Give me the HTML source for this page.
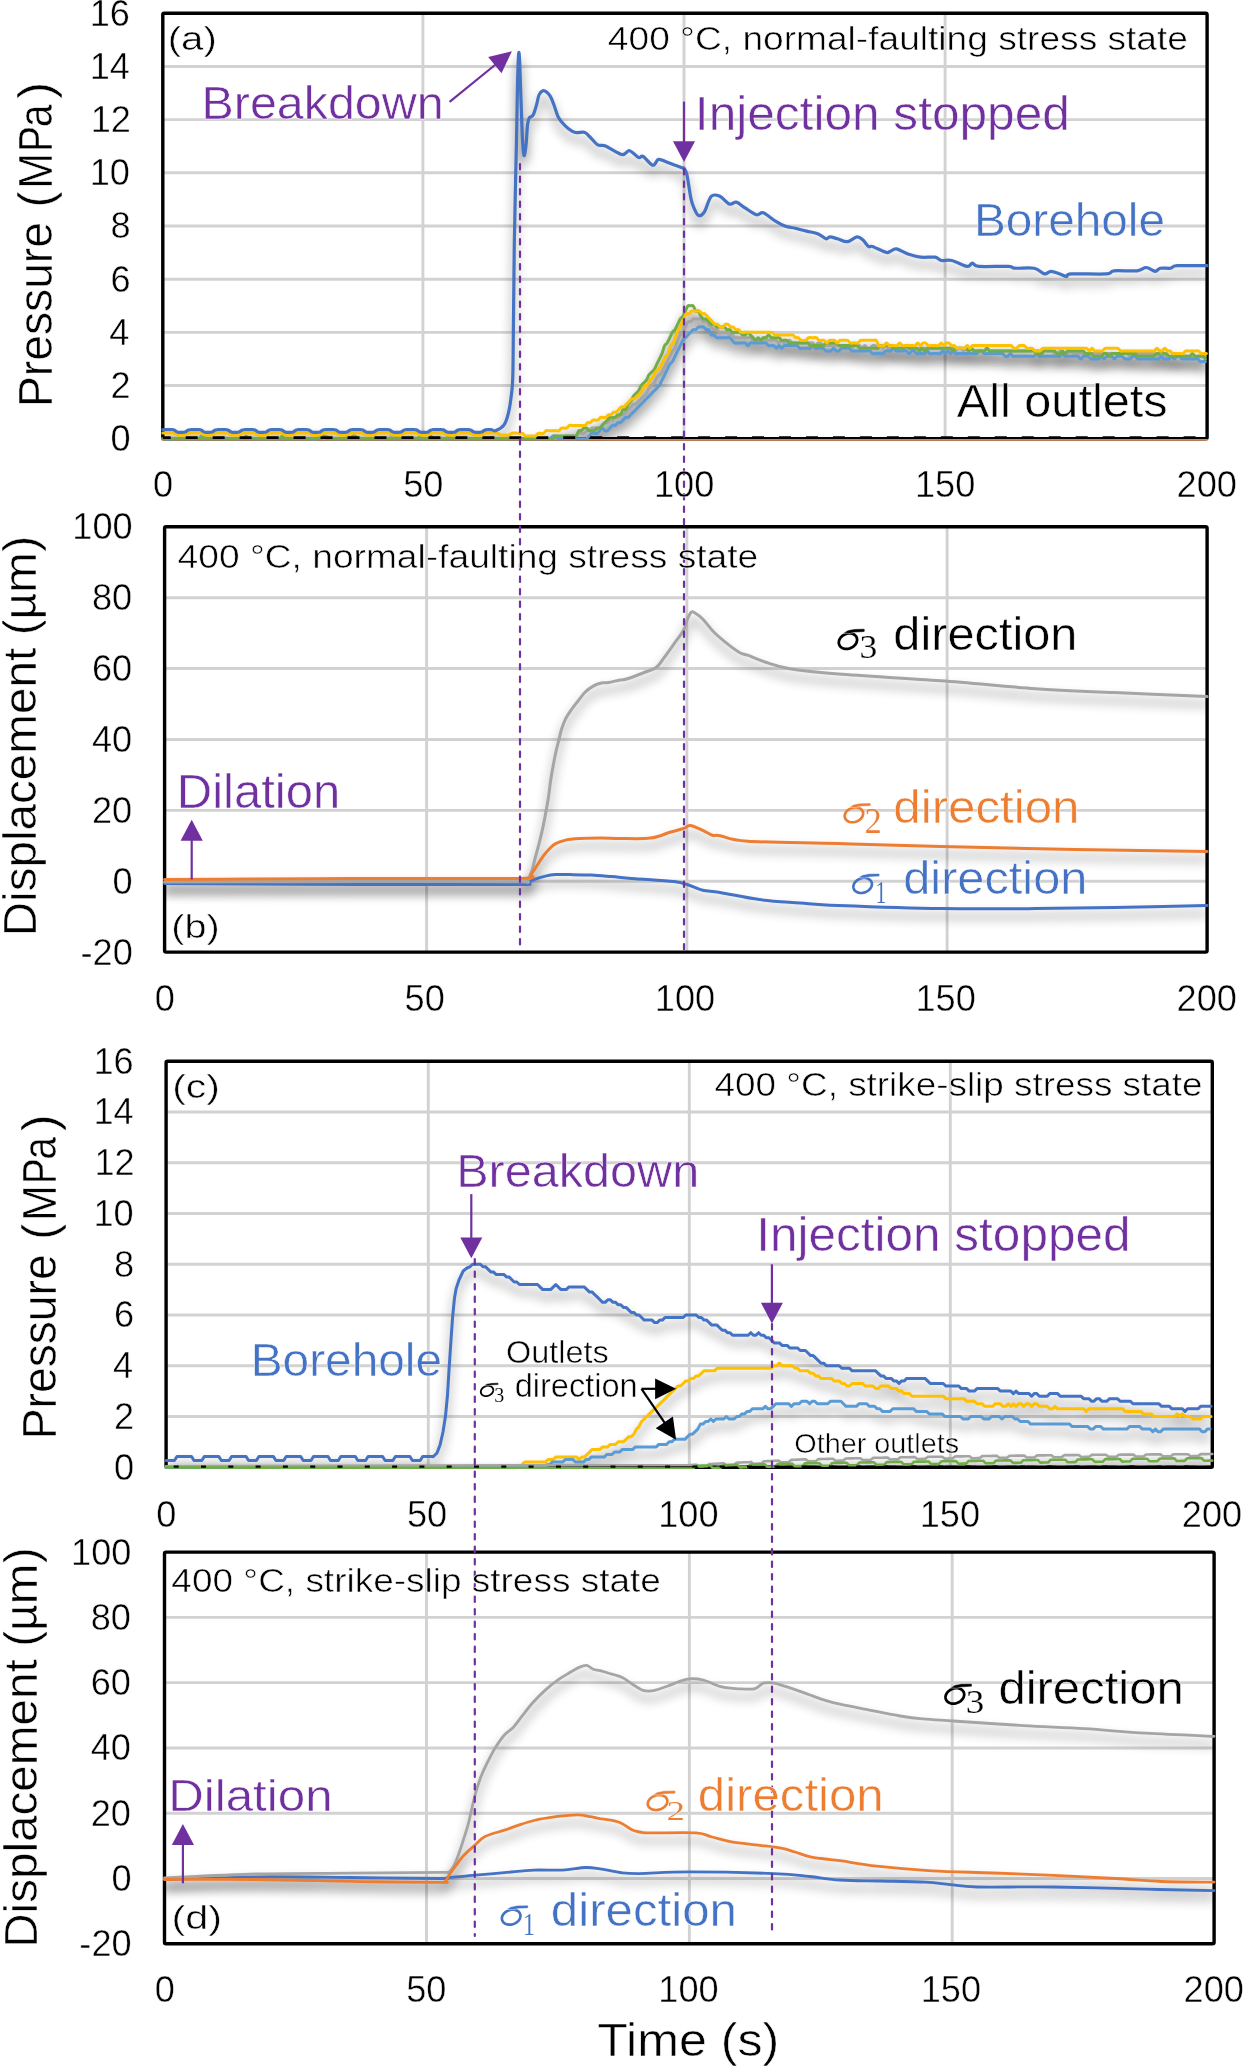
<!DOCTYPE html><html><head><meta charset='utf-8'><style>html,body{margin:0;padding:0;background:#fff;width:1243px;height:2066px;overflow:hidden}svg{display:block}</style></head><body><svg width='1243' height='2066' viewBox='0 0 1243 2066'>
<defs>
<filter id='sh' x='0' y='0' width='1243' height='2066' filterUnits='userSpaceOnUse'>
<feGaussianBlur in='SourceAlpha' stdDeviation='5.5'/>
<feOffset dx='0' dy='7.5' result='o'/>
<feComponentTransfer><feFuncA type='linear' slope='0.5'/></feComponentTransfer>
<feMerge><feMergeNode/><feMergeNode in='SourceGraphic'/></feMerge>
</filter>
<filter id='soa' x='143' y='-7' width='1084' height='465' filterUnits='userSpaceOnUse'><feGaussianBlur in='SourceAlpha' stdDeviation='5.5'/><feOffset dx='0' dy='7.5'/><feComponentTransfer><feFuncA type='linear' slope='0.5'/></feComponentTransfer></filter><filter id='sob' x='145' y='507' width='1082' height='465' filterUnits='userSpaceOnUse'><feGaussianBlur in='SourceAlpha' stdDeviation='5.5'/><feOffset dx='0' dy='7.5'/><feComponentTransfer><feFuncA type='linear' slope='0.5'/></feComponentTransfer></filter><filter id='soc' x='146' y='1041' width='1086' height='446' filterUnits='userSpaceOnUse'><feGaussianBlur in='SourceAlpha' stdDeviation='5.5'/><feOffset dx='0' dy='7.5'/><feComponentTransfer><feFuncA type='linear' slope='0.5'/></feComponentTransfer></filter><filter id='sod' x='144' y='1532' width='1090' height='432' filterUnits='userSpaceOnUse'><feGaussianBlur in='SourceAlpha' stdDeviation='5.5'/><feOffset dx='0' dy='7.5'/><feComponentTransfer><feFuncA type='linear' slope='0.5'/></feComponentTransfer></filter>
<clipPath id='cpa'><rect x='161.10000000000002' y='11.600000000000001' width='1047.7' height='428.8'/></clipPath><clipPath id='cpb'><rect x='162.9' y='525.0999999999999' width='1045.9' height='428.7'/></clipPath><clipPath id='cpc'><rect x='164.4' y='1059.6' width='1049.6' height='409.3'/></clipPath><clipPath id='cpd'><rect x='162.8' y='1550.3999999999999' width='1053.0' height='395.1'/></clipPath></defs>
<rect width='1243' height='2066' fill='#fff'/>
<g stroke='#D2D2D2' stroke-width='2.9'>
<line x1='162.8' y1='385.52' x2='1207.1' y2='385.52'/>
<line x1='162.8' y1='332.35' x2='1207.1' y2='332.35'/>
<line x1='162.8' y1='279.18' x2='1207.1' y2='279.18'/>
<line x1='162.8' y1='226.00' x2='1207.1' y2='226.00'/>
<line x1='162.8' y1='172.82' x2='1207.1' y2='172.82'/>
<line x1='162.8' y1='119.65' x2='1207.1' y2='119.65'/>
<line x1='162.8' y1='66.48' x2='1207.1' y2='66.48'/>
<line x1='422.90' y1='13.3' x2='422.90' y2='438.7'/>
<line x1='684.00' y1='13.3' x2='684.00' y2='438.7'/>
<line x1='945.10' y1='13.3' x2='945.10' y2='438.7'/>
<line x1='164.6' y1='881.22' x2='1207.1' y2='881.22'/>
<line x1='164.6' y1='810.33' x2='1207.1' y2='810.33'/>
<line x1='164.6' y1='739.45' x2='1207.1' y2='739.45'/>
<line x1='164.6' y1='668.57' x2='1207.1' y2='668.57'/>
<line x1='164.6' y1='597.68' x2='1207.1' y2='597.68'/>
<line x1='426.60' y1='526.8' x2='426.60' y2='952.1'/>
<line x1='686.85' y1='526.8' x2='686.85' y2='952.1'/>
<line x1='947.10' y1='526.8' x2='947.10' y2='952.1'/>
<line x1='166.1' y1='1416.46' x2='1212.3' y2='1416.46'/>
<line x1='166.1' y1='1365.72' x2='1212.3' y2='1365.72'/>
<line x1='166.1' y1='1314.99' x2='1212.3' y2='1314.99'/>
<line x1='166.1' y1='1264.25' x2='1212.3' y2='1264.25'/>
<line x1='166.1' y1='1213.51' x2='1212.3' y2='1213.51'/>
<line x1='166.1' y1='1162.78' x2='1212.3' y2='1162.78'/>
<line x1='166.1' y1='1112.04' x2='1212.3' y2='1112.04'/>
<line x1='428.30' y1='1061.3' x2='428.30' y2='1467.2'/>
<line x1='689.30' y1='1061.3' x2='689.30' y2='1467.2'/>
<line x1='950.30' y1='1061.3' x2='950.30' y2='1467.2'/>
<line x1='164.5' y1='1878.52' x2='1214.1' y2='1878.52'/>
<line x1='164.5' y1='1813.23' x2='1214.1' y2='1813.23'/>
<line x1='164.5' y1='1747.95' x2='1214.1' y2='1747.95'/>
<line x1='164.5' y1='1682.67' x2='1214.1' y2='1682.67'/>
<line x1='164.5' y1='1617.38' x2='1214.1' y2='1617.38'/>
<line x1='426.50' y1='1552.1' x2='426.50' y2='1943.8'/>
<line x1='689.35' y1='1552.1' x2='689.35' y2='1943.8'/>
<line x1='952.20' y1='1552.1' x2='952.20' y2='1943.8'/>
</g>
<g fill='none' stroke='#000' stroke-width='3.4'>
<rect x='162.8' y='13.3' width='1044.3' height='425.4' rx='1.5'/>
<rect x='164.6' y='526.8' width='1042.5' height='425.3' rx='1.5'/>
<rect x='166.1' y='1061.3' width='1046.2' height='405.9' rx='1.5'/>
<rect x='164.5' y='1552.1' width='1049.6' height='391.7' rx='1.5'/>
</g>
<g clip-path='url(#cpa)'>
<polyline points='162.8,439.3 575.0,439.3' fill='none' stroke='#000' stroke-width='2.4' stroke-linejoin='round' stroke-linecap='round' filter='url(#soa)'/><polyline points='162.8,440.0 1207.1,440.0' fill='none' stroke='#000' stroke-width='1.8' stroke-linejoin='round' stroke-linecap='round' filter='url(#soa)'/><path d='M162.8,438.7 C163.2,438.7 164.5,438.7 165.4,438.7 C166.3,438.7 167.1,438.7 168.0,438.7 C168.9,438.7 169.7,438.7 170.6,438.7 C171.5,438.7 172.3,438.7 173.2,438.7 C174.1,438.7 174.9,438.7 175.8,438.7 C176.7,438.7 177.5,438.7 178.4,438.7 C179.3,438.7 180.1,438.7 181.0,438.7 C181.9,438.7 182.7,438.7 183.6,438.7 C184.5,438.7 185.3,438.7 186.2,438.7 C187.1,438.7 187.9,438.7 188.8,438.7 C189.7,438.7 190.5,438.7 191.4,438.7 C192.3,438.7 193.1,438.7 194.0,438.7 C194.9,438.7 195.7,438.7 196.6,438.7 C197.5,438.7 198.3,438.7 199.2,438.7 C200.1,438.7 200.9,438.7 201.8,438.7 C202.7,438.7 203.5,438.7 204.4,438.7 C205.3,438.7 206.1,438.7 207.0,438.7 C207.9,438.7 208.7,438.7 209.6,438.7 C210.5,438.7 211.3,438.7 212.2,438.7 C213.1,438.7 213.9,438.7 214.8,438.7 C215.7,438.7 216.5,438.7 217.4,438.7 C218.3,438.7 219.1,438.7 220.0,438.7 C220.9,438.7 221.7,438.7 222.6,438.7 C223.5,438.7 224.3,438.7 225.2,438.7 C226.1,438.7 226.9,438.7 227.8,438.7 C228.7,438.7 229.5,438.7 230.4,438.7 C231.3,438.7 232.1,438.7 233.0,438.7 C233.9,438.7 234.7,438.7 235.6,438.7 C236.5,438.7 237.3,438.7 238.2,438.7 C239.1,438.7 239.9,438.7 240.8,438.7 C241.7,438.7 242.5,438.7 243.4,438.7 C244.3,438.7 245.1,438.7 246.0,438.7 C246.9,438.7 247.7,438.7 248.6,438.7 C249.5,438.7 250.3,438.7 251.2,438.7 C252.1,438.7 252.9,438.7 253.8,438.7 C254.7,438.7 255.5,438.7 256.4,438.7 C257.3,438.7 258.1,438.7 259.0,438.7 C259.9,438.7 260.7,438.7 261.6,438.7 C262.5,438.7 263.3,438.7 264.2,438.7 C265.1,438.7 265.9,438.7 266.8,438.7 C267.7,438.7 268.5,438.7 269.4,438.7 C270.3,438.7 271.1,438.7 272.0,438.7 C272.9,438.7 273.7,438.7 274.6,438.7 C275.5,438.7 276.3,438.7 277.2,438.7 C278.1,438.7 278.9,438.7 279.8,438.7 C280.7,438.7 281.5,438.7 282.4,438.7 C283.3,438.7 284.1,438.7 285.0,438.7 C285.9,438.7 286.7,438.7 287.6,438.7 C288.5,438.7 289.3,438.7 290.2,438.7 C291.1,438.7 291.9,438.7 292.8,438.7 C293.7,438.7 294.5,438.7 295.4,438.7 C296.3,438.7 297.1,438.7 298.0,438.7 C298.9,438.7 299.7,438.7 300.6,438.7 C301.5,438.7 302.3,438.7 303.2,438.7 C304.1,438.7 304.9,438.7 305.8,438.7 C306.7,438.7 307.5,438.7 308.4,438.7 C309.3,438.7 310.1,438.7 311.0,438.7 C311.9,438.7 312.7,438.7 313.6,438.7 C314.5,438.7 315.3,438.7 316.2,438.7 C317.1,438.7 317.9,438.7 318.8,438.7 C319.7,438.7 320.5,438.7 321.4,438.7 C322.3,438.7 323.1,439.1 324.0,438.7 C324.9,438.3 325.7,436.0 326.6,436.0 C327.5,436.0 328.3,438.3 329.2,438.7 C330.1,439.1 330.9,438.7 331.8,438.7 C332.7,438.7 333.5,438.7 334.4,438.7 C335.3,438.7 336.1,438.7 337.0,438.7 C337.9,438.7 338.7,438.7 339.6,438.7 C340.5,438.7 341.3,438.7 342.2,438.7 C343.1,438.7 343.9,438.7 344.8,438.7 C345.7,438.7 346.5,438.7 347.4,438.7 C348.3,438.7 349.1,438.7 350.0,438.7 C350.9,438.7 351.7,438.7 352.6,438.7 C353.5,438.7 354.3,438.7 355.2,438.7 C356.1,438.7 356.9,438.7 357.8,438.7 C358.7,438.7 359.5,438.7 360.4,438.7 C361.3,438.7 362.1,438.7 363.0,438.7 C363.9,438.7 364.7,438.7 365.6,438.7 C366.5,438.7 367.3,438.7 368.2,438.7 C369.1,438.7 369.9,438.7 370.8,438.7 C371.7,438.7 372.5,438.7 373.4,438.7 C374.3,438.7 375.1,438.7 376.0,438.7 C376.9,438.7 377.7,438.7 378.6,438.7 C379.5,438.7 380.3,438.7 381.2,438.7 C382.1,438.7 382.9,438.7 383.8,438.7 C384.7,438.7 385.5,438.7 386.4,438.7 C387.3,438.7 388.1,439.1 389.0,438.7 C389.9,438.3 390.7,436.0 391.6,436.0 C392.5,436.0 393.3,438.3 394.2,438.7 C395.1,439.1 395.9,438.7 396.8,438.7 C397.7,438.7 398.5,438.7 399.4,438.7 C400.3,438.7 401.1,438.7 402.0,438.7 C402.9,438.7 403.7,438.7 404.6,438.7 C405.5,438.7 406.3,438.7 407.2,438.7 C408.1,438.7 408.9,438.7 409.8,438.7 C410.7,438.7 411.5,438.7 412.4,438.7 C413.3,438.7 414.1,438.7 415.0,438.7 C415.9,438.7 416.7,438.7 417.6,438.7 C418.5,438.7 419.3,438.7 420.2,438.7 C421.1,438.7 421.9,438.7 422.8,438.7 C423.7,438.7 424.5,438.7 425.4,438.7 C426.3,438.7 427.1,438.7 428.0,438.7 C428.9,438.7 429.7,438.7 430.6,438.7 C431.5,438.7 432.3,438.7 433.2,438.7 C434.1,438.7 434.9,438.7 435.8,438.7 C436.7,438.7 437.5,438.7 438.4,438.7 C439.3,438.7 440.1,438.7 441.0,438.7 C441.9,438.7 442.7,438.7 443.6,438.7 C444.5,438.7 445.3,438.7 446.2,438.7 C447.1,438.7 447.9,438.7 448.8,438.7 C449.7,438.7 450.5,438.7 451.4,438.7 C452.3,438.7 453.1,438.7 454.0,438.7 C454.9,438.7 455.7,438.7 456.6,438.7 C457.5,438.7 458.3,438.7 459.2,438.7 C460.1,438.7 460.9,438.7 461.8,438.7 C462.7,438.7 463.5,438.7 464.4,438.7 C465.3,438.7 466.1,438.7 467.0,438.7 C467.9,438.7 468.7,438.7 469.6,438.7 C470.5,438.7 471.3,438.7 472.2,438.7 C473.1,438.7 473.9,438.7 474.8,438.7 C475.7,438.7 476.5,438.7 477.4,438.7 C478.3,438.7 479.1,438.7 480.0,438.7 C480.9,438.7 481.7,438.7 482.6,438.7 C483.5,438.7 484.3,438.7 485.2,438.7 C486.1,438.7 486.9,438.7 487.8,438.7 C488.7,438.7 489.5,438.7 490.4,438.7 C491.3,438.7 492.1,438.7 493.0,438.7 C493.9,438.7 494.7,438.7 495.6,438.7 C496.5,438.7 497.3,438.7 498.2,438.7 C499.1,438.7 499.9,438.7 500.8,438.7 C501.7,438.7 502.5,438.7 503.4,438.7 C504.3,438.7 505.1,439.1 506.0,438.7 C506.9,438.3 507.7,436.0 508.6,436.0 C509.5,436.0 510.3,438.3 511.2,438.7 C512.1,439.1 512.9,438.7 513.8,438.7 C514.7,438.7 515.5,438.7 516.4,438.7 C517.3,438.7 518.1,438.7 519.0,438.7 C519.9,438.7 520.7,438.7 521.6,438.7 C522.5,438.7 523.3,438.7 524.2,438.7 C525.1,438.7 525.9,438.7 526.8,438.7 C527.7,438.7 528.5,438.7 529.4,438.7 C530.3,438.7 531.1,438.7 532.0,438.7 C532.9,438.7 533.7,438.7 534.6,438.7 C535.5,438.7 536.3,438.7 537.2,438.7 C538.1,438.7 538.9,438.7 539.8,438.7 C540.7,438.7 541.5,438.7 542.4,438.7 C543.3,438.7 544.1,438.7 545.0,438.7 C545.9,438.7 546.7,438.7 547.6,438.7 C548.5,438.7 549.3,438.7 550.2,438.7 C551.1,438.7 551.9,438.7 552.8,438.7 C553.7,438.7 554.5,438.7 555.4,438.7 C556.3,438.7 557.1,438.7 558.0,438.7 C558.9,438.7 559.7,438.7 560.6,438.7 C561.5,438.7 562.3,439.1 563.2,438.7 C564.1,438.3 564.9,436.5 565.8,436.0 C566.7,435.6 567.5,436.0 568.4,436.0 C569.3,436.0 570.1,436.0 571.0,436.0 C571.9,436.0 572.7,436.0 573.6,436.0 C574.5,436.0 575.3,436.5 576.2,436.0 C577.1,435.6 577.9,433.8 578.8,433.4 C579.7,432.9 580.5,433.4 581.4,433.4 C582.3,433.4 583.1,433.8 584.0,433.4 C584.9,432.9 585.7,431.2 586.6,430.7 C587.5,430.3 588.3,431.2 589.2,430.7 C590.1,430.3 590.9,428.5 591.8,428.1 C592.7,427.6 593.5,428.1 594.4,428.1 C595.3,428.1 596.1,428.1 597.0,428.1 C597.9,428.1 598.7,428.5 599.6,428.1 C600.5,427.6 601.3,426.3 602.2,425.4 C603.1,424.5 603.9,423.2 604.8,422.7 C605.7,422.3 606.5,423.2 607.4,422.7 C608.3,422.3 609.1,420.5 610.0,420.1 C610.9,419.6 611.7,420.5 612.6,420.1 C613.5,419.6 614.3,417.9 615.2,417.4 C616.1,417.0 616.9,417.9 617.8,417.4 C618.7,417.0 619.5,415.2 620.4,414.8 C621.3,414.3 622.1,415.2 623.0,414.8 C623.9,414.3 624.7,413.0 625.6,412.1 C626.5,411.2 627.3,410.3 628.2,409.5 C629.1,408.6 629.9,407.7 630.8,406.8 C631.7,405.9 632.5,404.6 633.4,404.1 C634.3,403.7 635.1,404.6 636.0,404.1 C636.9,403.7 637.7,402.4 638.6,401.5 C639.5,400.6 640.3,399.7 641.2,398.8 C642.1,397.9 642.9,397.0 643.8,396.2 C644.7,395.3 645.5,394.8 646.4,393.5 C647.3,392.2 648.1,389.5 649.0,388.2 C649.9,386.8 650.7,386.4 651.6,385.5 C652.5,384.6 653.3,384.2 654.2,382.9 C655.1,381.5 655.9,378.9 656.8,377.5 C657.7,376.2 658.5,375.8 659.4,374.9 C660.3,374.0 661.1,373.6 662.0,372.2 C662.9,370.9 663.7,368.7 664.6,366.9 C665.5,365.1 666.3,363.4 667.2,361.6 C668.1,359.8 668.9,358.0 669.8,356.3 C670.7,354.5 671.5,352.3 672.4,351.0 C673.3,349.6 674.1,350.1 675.0,348.3 C675.9,346.5 676.7,342.5 677.6,340.3 C678.5,338.1 679.3,336.3 680.2,335.0 C681.1,333.7 681.9,333.7 682.8,332.3 C683.7,331.0 684.5,328.8 685.4,327.0 C686.3,325.2 687.1,322.6 688.0,321.7 C688.9,320.8 689.7,322.1 690.6,321.7 C691.5,321.3 692.3,319.5 693.2,319.0 C694.1,318.6 694.9,319.0 695.8,319.0 C696.7,319.0 697.5,319.0 698.4,319.0 C699.3,319.0 700.1,318.6 701.0,319.0 C701.9,319.5 702.7,321.3 703.6,321.7 C704.5,322.1 705.3,321.3 706.2,321.7 C707.1,322.1 707.9,323.5 708.8,324.4 C709.7,325.2 710.5,326.1 711.4,327.0 C712.3,327.9 713.1,329.2 714.0,329.7 C714.9,330.1 715.7,329.2 716.6,329.7 C717.5,330.1 718.3,331.9 719.2,332.3 C720.1,332.8 720.9,332.3 721.8,332.3 C722.7,332.3 723.5,332.3 724.4,332.3 C725.3,332.3 726.1,331.9 727.0,332.3 C727.9,332.8 728.7,334.6 729.6,335.0 C730.5,335.4 731.3,334.6 732.2,335.0 C733.1,335.4 733.9,337.2 734.8,337.7 C735.7,338.1 736.5,337.7 737.4,337.7 C738.3,337.7 739.1,337.7 740.0,337.7 C740.9,337.7 741.7,337.7 742.6,337.7 C743.5,337.7 744.3,337.7 745.2,337.7 C746.1,337.7 746.9,337.7 747.8,337.7 C748.7,337.7 749.5,337.2 750.4,337.7 C751.3,338.1 752.1,339.9 753.0,340.3 C753.9,340.8 754.7,340.3 755.6,340.3 C756.5,340.3 757.3,340.3 758.2,340.3 C759.1,340.3 759.9,340.3 760.8,340.3 C761.7,340.3 762.5,340.3 763.4,340.3 C764.3,340.3 765.1,340.3 766.0,340.3 C766.9,340.3 767.7,340.3 768.6,340.3 C769.5,340.3 770.3,340.3 771.2,340.3 C772.1,340.3 772.9,340.3 773.8,340.3 C774.7,340.3 775.5,339.9 776.4,340.3 C777.3,340.8 778.1,343.0 779.0,343.0 C779.9,343.0 780.7,340.3 781.6,340.3 C782.5,340.3 783.3,342.5 784.2,343.0 C785.1,343.4 785.9,343.4 786.8,343.0 C787.7,342.5 788.5,340.3 789.4,340.3 C790.3,340.3 791.1,342.5 792.0,343.0 C792.9,343.4 793.7,343.0 794.6,343.0 C795.5,343.0 796.3,343.0 797.2,343.0 C798.1,343.0 798.9,343.0 799.8,343.0 C800.7,343.0 801.5,343.0 802.4,343.0 C803.3,343.0 804.1,343.0 805.0,343.0 C805.9,343.0 806.7,343.0 807.6,343.0 C808.5,343.0 809.3,343.0 810.2,343.0 C811.1,343.0 811.9,342.5 812.8,343.0 C813.7,343.4 814.5,345.6 815.4,345.6 C816.3,345.6 817.1,343.4 818.0,343.0 C818.9,342.5 819.7,342.5 820.6,343.0 C821.5,343.4 822.3,345.2 823.2,345.6 C824.1,346.1 824.9,345.6 825.8,345.6 C826.7,345.6 827.5,345.6 828.4,345.6 C829.3,345.6 830.1,345.6 831.0,345.6 C831.9,345.6 832.7,345.6 833.6,345.6 C834.5,345.6 835.3,345.6 836.2,345.6 C837.1,345.6 837.9,345.6 838.8,345.6 C839.7,345.6 840.5,345.6 841.4,345.6 C842.3,345.6 843.1,345.6 844.0,345.6 C844.9,345.6 845.7,345.6 846.6,345.6 C847.5,345.6 848.3,345.2 849.2,345.6 C850.1,346.1 850.9,348.3 851.8,348.3 C852.7,348.3 853.5,346.1 854.4,345.6 C855.3,345.2 856.1,345.6 857.0,345.6 C857.9,345.6 858.7,345.2 859.6,345.6 C860.5,346.1 861.3,348.3 862.2,348.3 C863.1,348.3 863.9,345.6 864.8,345.6 C865.7,345.6 866.5,347.9 867.4,348.3 C868.3,348.7 869.1,348.7 870.0,348.3 C870.9,347.9 871.7,346.1 872.6,345.6 C873.5,345.2 874.3,345.2 875.2,345.6 C876.1,346.1 876.9,348.3 877.8,348.3 C878.7,348.3 879.5,345.6 880.4,345.6 C881.3,345.6 882.1,348.3 883.0,348.3 C883.9,348.3 884.7,345.6 885.6,345.6 C886.5,345.6 887.3,347.9 888.2,348.3 C889.1,348.7 889.9,348.3 890.8,348.3 C891.7,348.3 892.5,348.3 893.4,348.3 C894.3,348.3 895.1,348.3 896.0,348.3 C896.9,348.3 897.7,348.3 898.6,348.3 C899.5,348.3 900.3,348.3 901.2,348.3 C902.1,348.3 902.9,348.3 903.8,348.3 C904.7,348.3 905.5,348.3 906.4,348.3 C907.3,348.3 908.1,348.3 909.0,348.3 C909.9,348.3 910.7,348.3 911.6,348.3 C912.5,348.3 913.3,348.3 914.2,348.3 C915.1,348.3 915.9,348.3 916.8,348.3 C917.7,348.3 918.5,348.3 919.4,348.3 C920.3,348.3 921.1,348.3 922.0,348.3 C922.9,348.3 923.7,348.3 924.6,348.3 C925.5,348.3 926.3,348.3 927.2,348.3 C928.1,348.3 928.9,348.3 929.8,348.3 C930.7,348.3 931.5,348.3 932.4,348.3 C933.3,348.3 934.1,348.3 935.0,348.3 C935.9,348.3 936.7,348.3 937.6,348.3 C938.5,348.3 939.3,348.3 940.2,348.3 C941.1,348.3 941.9,348.3 942.8,348.3 C943.7,348.3 944.5,348.3 945.4,348.3 C946.3,348.3 947.1,348.3 948.0,348.3 C948.9,348.3 949.7,348.3 950.6,348.3 C951.5,348.3 952.3,347.9 953.2,348.3 C954.1,348.7 954.9,351.0 955.8,351.0 C956.7,351.0 957.5,348.7 958.4,348.3 C959.3,347.9 960.1,347.9 961.0,348.3 C961.9,348.7 962.7,351.0 963.6,351.0 C964.5,351.0 965.3,348.3 966.2,348.3 C967.1,348.3 967.9,351.0 968.8,351.0 C969.7,351.0 970.5,348.3 971.4,348.3 C972.3,348.3 973.1,350.5 974.0,351.0 C974.9,351.4 975.7,351.0 976.6,351.0 C977.5,351.0 978.3,351.0 979.2,351.0 C980.1,351.0 980.9,351.0 981.8,351.0 C982.7,351.0 983.5,351.4 984.4,351.0 C985.3,350.5 986.1,348.3 987.0,348.3 C987.9,348.3 988.7,350.5 989.6,351.0 C990.5,351.4 991.3,351.0 992.2,351.0 C993.1,351.0 993.9,351.0 994.8,351.0 C995.7,351.0 996.5,351.0 997.4,351.0 C998.3,351.0 999.1,351.0 1000.0,351.0 C1000.9,351.0 1001.7,351.0 1002.6,351.0 C1003.5,351.0 1004.3,351.0 1005.2,351.0 C1006.1,351.0 1006.9,351.0 1007.8,351.0 C1008.7,351.0 1009.5,351.0 1010.4,351.0 C1011.3,351.0 1012.1,351.0 1013.0,351.0 C1013.9,351.0 1014.7,351.0 1015.6,351.0 C1016.5,351.0 1017.3,351.0 1018.2,351.0 C1019.1,351.0 1019.9,351.0 1020.8,351.0 C1021.7,351.0 1022.5,351.0 1023.4,351.0 C1024.3,351.0 1025.1,351.0 1026.0,351.0 C1026.9,351.0 1027.7,351.0 1028.6,351.0 C1029.5,351.0 1030.3,351.0 1031.2,351.0 C1032.1,351.0 1032.9,351.0 1033.8,351.0 C1034.7,351.0 1035.5,351.0 1036.4,351.0 C1037.3,351.0 1038.1,350.5 1039.0,351.0 C1039.9,351.4 1040.7,353.6 1041.6,353.6 C1042.5,353.6 1043.3,351.4 1044.2,351.0 C1045.1,350.5 1045.9,351.0 1046.8,351.0 C1047.7,351.0 1048.5,351.0 1049.4,351.0 C1050.3,351.0 1051.1,350.5 1052.0,351.0 C1052.9,351.4 1053.7,353.2 1054.6,353.6 C1055.5,354.1 1056.3,354.1 1057.2,353.6 C1058.1,353.2 1058.9,351.4 1059.8,351.0 C1060.7,350.5 1061.5,350.5 1062.4,351.0 C1063.3,351.4 1064.1,353.2 1065.0,353.6 C1065.9,354.1 1066.7,354.1 1067.6,353.6 C1068.5,353.2 1069.3,351.0 1070.2,351.0 C1071.1,351.0 1071.9,353.2 1072.8,353.6 C1073.7,354.1 1074.5,353.6 1075.4,353.6 C1076.3,353.6 1077.1,353.6 1078.0,353.6 C1078.9,353.6 1079.7,353.6 1080.6,353.6 C1081.5,353.6 1082.3,353.6 1083.2,353.6 C1084.1,353.6 1084.9,353.6 1085.8,353.6 C1086.7,353.6 1087.5,353.6 1088.4,353.6 C1089.3,353.6 1090.1,353.6 1091.0,353.6 C1091.9,353.6 1092.7,353.6 1093.6,353.6 C1094.5,353.6 1095.3,353.6 1096.2,353.6 C1097.1,353.6 1097.9,353.6 1098.8,353.6 C1099.7,353.6 1100.5,353.6 1101.4,353.6 C1102.3,353.6 1103.1,353.6 1104.0,353.6 C1104.9,353.6 1105.7,353.6 1106.6,353.6 C1107.5,353.6 1108.3,353.6 1109.2,353.6 C1110.1,353.6 1110.9,353.6 1111.8,353.6 C1112.7,353.6 1113.5,353.6 1114.4,353.6 C1115.3,353.6 1116.1,353.6 1117.0,353.6 C1117.9,353.6 1118.7,353.6 1119.6,353.6 C1120.5,353.6 1121.3,353.6 1122.2,353.6 C1123.1,353.6 1123.9,353.6 1124.8,353.6 C1125.7,353.6 1126.5,353.2 1127.4,353.6 C1128.3,354.1 1129.1,356.3 1130.0,356.3 C1130.9,356.3 1131.7,354.1 1132.6,353.6 C1133.5,353.2 1134.3,353.6 1135.2,353.6 C1136.1,353.6 1136.9,353.6 1137.8,353.6 C1138.7,353.6 1139.5,353.6 1140.4,353.6 C1141.3,353.6 1142.1,353.6 1143.0,353.6 C1143.9,353.6 1144.7,353.6 1145.6,353.6 C1146.5,353.6 1147.3,353.6 1148.2,353.6 C1149.1,353.6 1149.9,353.6 1150.8,353.6 C1151.7,353.6 1152.5,353.2 1153.4,353.6 C1154.3,354.1 1155.1,356.3 1156.0,356.3 C1156.9,356.3 1157.7,353.6 1158.6,353.6 C1159.5,353.6 1160.3,356.3 1161.2,356.3 C1162.1,356.3 1162.9,353.6 1163.8,353.6 C1164.7,353.6 1165.5,355.8 1166.4,356.3 C1167.3,356.7 1168.1,356.3 1169.0,356.3 C1169.9,356.3 1170.7,356.7 1171.6,356.3 C1172.5,355.8 1173.3,353.6 1174.2,353.6 C1175.1,353.6 1175.9,355.8 1176.8,356.3 C1177.7,356.7 1178.5,356.3 1179.4,356.3 C1180.3,356.3 1181.1,356.3 1182.0,356.3 C1182.9,356.3 1183.7,356.3 1184.6,356.3 C1185.5,356.3 1186.3,356.3 1187.2,356.3 C1188.1,356.3 1188.9,356.3 1189.8,356.3 C1190.7,356.3 1191.5,356.3 1192.4,356.3 C1193.3,356.3 1194.1,356.3 1195.0,356.3 C1195.9,356.3 1196.7,356.3 1197.6,356.3 C1198.5,356.3 1199.3,356.3 1200.2,356.3 C1201.1,356.3 1201.9,356.3 1202.8,356.3 C1203.7,356.3 1205.0,356.3 1205.4,356.3' fill='none' stroke='#000' stroke-width='3.0' stroke-linejoin='round' stroke-linecap='round' filter='url(#soa)'/><path d='M162.8,438.7 C163.2,438.7 164.5,438.3 165.4,438.7 C166.3,439.1 167.1,441.4 168.0,441.4 C168.9,441.4 169.7,439.1 170.6,438.7 C171.5,438.3 172.3,438.7 173.2,438.7 C174.1,438.7 174.9,438.7 175.8,438.7 C176.7,438.7 177.5,438.7 178.4,438.7 C179.3,438.7 180.1,438.7 181.0,438.7 C181.9,438.7 182.7,438.7 183.6,438.7 C184.5,438.7 185.3,438.7 186.2,438.7 C187.1,438.7 187.9,438.7 188.8,438.7 C189.7,438.7 190.5,438.7 191.4,438.7 C192.3,438.7 193.1,438.7 194.0,438.7 C194.9,438.7 195.7,438.7 196.6,438.7 C197.5,438.7 198.3,439.1 199.2,438.7 C200.1,438.3 200.9,436.0 201.8,436.0 C202.7,436.0 203.5,438.3 204.4,438.7 C205.3,439.1 206.1,438.7 207.0,438.7 C207.9,438.7 208.7,438.7 209.6,438.7 C210.5,438.7 211.3,438.7 212.2,438.7 C213.1,438.7 213.9,438.7 214.8,438.7 C215.7,438.7 216.5,438.7 217.4,438.7 C218.3,438.7 219.1,438.7 220.0,438.7 C220.9,438.7 221.7,438.7 222.6,438.7 C223.5,438.7 224.3,438.7 225.2,438.7 C226.1,438.7 226.9,438.7 227.8,438.7 C228.7,438.7 229.5,438.7 230.4,438.7 C231.3,438.7 232.1,438.7 233.0,438.7 C233.9,438.7 234.7,438.7 235.6,438.7 C236.5,438.7 237.3,438.7 238.2,438.7 C239.1,438.7 239.9,438.7 240.8,438.7 C241.7,438.7 242.5,438.7 243.4,438.7 C244.3,438.7 245.1,438.7 246.0,438.7 C246.9,438.7 247.7,438.7 248.6,438.7 C249.5,438.7 250.3,438.7 251.2,438.7 C252.1,438.7 252.9,438.7 253.8,438.7 C254.7,438.7 255.5,438.7 256.4,438.7 C257.3,438.7 258.1,438.7 259.0,438.7 C259.9,438.7 260.7,438.7 261.6,438.7 C262.5,438.7 263.3,438.7 264.2,438.7 C265.1,438.7 265.9,438.7 266.8,438.7 C267.7,438.7 268.5,438.7 269.4,438.7 C270.3,438.7 271.1,438.7 272.0,438.7 C272.9,438.7 273.7,438.7 274.6,438.7 C275.5,438.7 276.3,438.7 277.2,438.7 C278.1,438.7 278.9,438.7 279.8,438.7 C280.7,438.7 281.5,438.7 282.4,438.7 C283.3,438.7 284.1,438.7 285.0,438.7 C285.9,438.7 286.7,438.7 287.6,438.7 C288.5,438.7 289.3,438.7 290.2,438.7 C291.1,438.7 291.9,438.7 292.8,438.7 C293.7,438.7 294.5,438.7 295.4,438.7 C296.3,438.7 297.1,438.7 298.0,438.7 C298.9,438.7 299.7,438.7 300.6,438.7 C301.5,438.7 302.3,438.7 303.2,438.7 C304.1,438.7 304.9,438.7 305.8,438.7 C306.7,438.7 307.5,438.7 308.4,438.7 C309.3,438.7 310.1,438.3 311.0,438.7 C311.9,439.1 312.7,441.4 313.6,441.4 C314.5,441.4 315.3,439.1 316.2,438.7 C317.1,438.3 317.9,438.7 318.8,438.7 C319.7,438.7 320.5,439.1 321.4,438.7 C322.3,438.3 323.1,436.0 324.0,436.0 C324.9,436.0 325.7,438.3 326.6,438.7 C327.5,439.1 328.3,438.7 329.2,438.7 C330.1,438.7 330.9,438.7 331.8,438.7 C332.7,438.7 333.5,438.7 334.4,438.7 C335.3,438.7 336.1,438.7 337.0,438.7 C337.9,438.7 338.7,438.7 339.6,438.7 C340.5,438.7 341.3,438.7 342.2,438.7 C343.1,438.7 343.9,438.7 344.8,438.7 C345.7,438.7 346.5,438.7 347.4,438.7 C348.3,438.7 349.1,438.7 350.0,438.7 C350.9,438.7 351.7,438.7 352.6,438.7 C353.5,438.7 354.3,438.7 355.2,438.7 C356.1,438.7 356.9,438.7 357.8,438.7 C358.7,438.7 359.5,438.7 360.4,438.7 C361.3,438.7 362.1,438.7 363.0,438.7 C363.9,438.7 364.7,438.7 365.6,438.7 C366.5,438.7 367.3,438.7 368.2,438.7 C369.1,438.7 369.9,438.7 370.8,438.7 C371.7,438.7 372.5,438.7 373.4,438.7 C374.3,438.7 375.1,438.7 376.0,438.7 C376.9,438.7 377.7,438.7 378.6,438.7 C379.5,438.7 380.3,438.7 381.2,438.7 C382.1,438.7 382.9,438.7 383.8,438.7 C384.7,438.7 385.5,438.7 386.4,438.7 C387.3,438.7 388.1,438.7 389.0,438.7 C389.9,438.7 390.7,438.7 391.6,438.7 C392.5,438.7 393.3,438.7 394.2,438.7 C395.1,438.7 395.9,438.7 396.8,438.7 C397.7,438.7 398.5,438.7 399.4,438.7 C400.3,438.7 401.1,438.7 402.0,438.7 C402.9,438.7 403.7,438.7 404.6,438.7 C405.5,438.7 406.3,438.7 407.2,438.7 C408.1,438.7 408.9,438.7 409.8,438.7 C410.7,438.7 411.5,438.7 412.4,438.7 C413.3,438.7 414.1,438.7 415.0,438.7 C415.9,438.7 416.7,438.7 417.6,438.7 C418.5,438.7 419.3,438.7 420.2,438.7 C421.1,438.7 421.9,438.7 422.8,438.7 C423.7,438.7 424.5,438.7 425.4,438.7 C426.3,438.7 427.1,438.7 428.0,438.7 C428.9,438.7 429.7,438.7 430.6,438.7 C431.5,438.7 432.3,438.7 433.2,438.7 C434.1,438.7 434.9,438.7 435.8,438.7 C436.7,438.7 437.5,438.7 438.4,438.7 C439.3,438.7 440.1,438.7 441.0,438.7 C441.9,438.7 442.7,438.7 443.6,438.7 C444.5,438.7 445.3,438.7 446.2,438.7 C447.1,438.7 447.9,438.7 448.8,438.7 C449.7,438.7 450.5,438.7 451.4,438.7 C452.3,438.7 453.1,438.7 454.0,438.7 C454.9,438.7 455.7,438.7 456.6,438.7 C457.5,438.7 458.3,438.7 459.2,438.7 C460.1,438.7 460.9,438.7 461.8,438.7 C462.7,438.7 463.5,438.7 464.4,438.7 C465.3,438.7 466.1,438.7 467.0,438.7 C467.9,438.7 468.7,438.7 469.6,438.7 C470.5,438.7 471.3,438.7 472.2,438.7 C473.1,438.7 473.9,438.7 474.8,438.7 C475.7,438.7 476.5,438.7 477.4,438.7 C478.3,438.7 479.1,438.7 480.0,438.7 C480.9,438.7 481.7,438.7 482.6,438.7 C483.5,438.7 484.3,438.7 485.2,438.7 C486.1,438.7 486.9,438.7 487.8,438.7 C488.7,438.7 489.5,438.7 490.4,438.7 C491.3,438.7 492.1,438.7 493.0,438.7 C493.9,438.7 494.7,438.7 495.6,438.7 C496.5,438.7 497.3,438.7 498.2,438.7 C499.1,438.7 499.9,438.7 500.8,438.7 C501.7,438.7 502.5,438.7 503.4,438.7 C504.3,438.7 505.1,438.7 506.0,438.7 C506.9,438.7 507.7,438.7 508.6,438.7 C509.5,438.7 510.3,438.7 511.2,438.7 C512.1,438.7 512.9,438.7 513.8,438.7 C514.7,438.7 515.5,438.7 516.4,438.7 C517.3,438.7 518.1,438.7 519.0,438.7 C519.9,438.7 520.7,438.7 521.6,438.7 C522.5,438.7 523.3,438.7 524.2,438.7 C525.1,438.7 525.9,438.7 526.8,438.7 C527.7,438.7 528.5,438.7 529.4,438.7 C530.3,438.7 531.1,438.7 532.0,438.7 C532.9,438.7 533.7,438.7 534.6,438.7 C535.5,438.7 536.3,438.7 537.2,438.7 C538.1,438.7 538.9,438.7 539.8,438.7 C540.7,438.7 541.5,438.7 542.4,438.7 C543.3,438.7 544.1,438.7 545.0,438.7 C545.9,438.7 546.7,438.7 547.6,438.7 C548.5,438.7 549.3,439.1 550.2,438.7 C551.1,438.3 551.9,436.5 552.8,436.0 C553.7,435.6 554.5,435.6 555.4,436.0 C556.3,436.5 557.1,438.3 558.0,438.7 C558.9,439.1 559.7,438.7 560.6,438.7 C561.5,438.7 562.3,438.7 563.2,438.7 C564.1,438.7 564.9,438.7 565.8,438.7 C566.7,438.7 567.5,438.7 568.4,438.7 C569.3,438.7 570.1,438.7 571.0,438.7 C571.9,438.7 572.7,438.7 573.6,438.7 C574.5,438.7 575.3,438.7 576.2,438.7 C577.1,438.7 577.9,438.7 578.8,438.7 C579.7,438.7 580.5,438.7 581.4,438.7 C582.3,438.7 583.1,438.7 584.0,438.7 C584.9,438.7 585.7,439.1 586.6,438.7 C587.5,438.3 588.3,436.9 589.2,436.0 C590.1,435.2 590.9,433.8 591.8,433.4 C592.7,432.9 593.5,433.4 594.4,433.4 C595.3,433.4 596.1,433.8 597.0,433.4 C597.9,432.9 598.7,431.6 599.6,430.7 C600.5,429.8 601.3,428.1 602.2,428.1 C603.1,428.1 603.9,430.3 604.8,430.7 C605.7,431.2 606.5,431.2 607.4,430.7 C608.3,430.3 609.1,429.0 610.0,428.1 C610.9,427.2 611.7,425.8 612.6,425.4 C613.5,425.0 614.3,425.8 615.2,425.4 C616.1,425.0 616.9,423.2 617.8,422.7 C618.7,422.3 619.5,423.2 620.4,422.7 C621.3,422.3 622.1,421.0 623.0,420.1 C623.9,419.2 624.7,417.9 625.6,417.4 C626.5,417.0 627.3,417.9 628.2,417.4 C629.1,417.0 629.9,415.7 630.8,414.8 C631.7,413.9 632.5,413.0 633.4,412.1 C634.3,411.2 635.1,410.3 636.0,409.5 C636.9,408.6 637.7,407.7 638.6,406.8 C639.5,405.9 640.3,405.0 641.2,404.1 C642.1,403.2 642.9,402.4 643.8,401.5 C644.7,400.6 645.5,399.7 646.4,398.8 C647.3,397.9 648.1,397.0 649.0,396.2 C649.9,395.3 650.7,394.4 651.6,393.5 C652.5,392.6 653.3,391.7 654.2,390.8 C655.1,390.0 655.9,389.1 656.8,388.2 C657.7,387.3 658.5,386.8 659.4,385.5 C660.3,384.2 661.1,382.0 662.0,380.2 C662.9,378.4 663.7,376.7 664.6,374.9 C665.5,373.1 666.3,371.3 667.2,369.6 C668.1,367.8 668.9,365.6 669.8,364.2 C670.7,362.9 671.5,362.9 672.4,361.6 C673.3,360.3 674.1,358.0 675.0,356.3 C675.9,354.5 676.7,352.7 677.6,351.0 C678.5,349.2 679.3,347.4 680.2,345.6 C681.1,343.9 681.9,341.6 682.8,340.3 C683.7,339.0 684.5,338.5 685.4,337.7 C686.3,336.8 687.1,335.9 688.0,335.0 C688.9,334.1 689.7,333.2 690.6,332.3 C691.5,331.5 692.3,330.1 693.2,329.7 C694.1,329.2 694.9,330.1 695.8,329.7 C696.7,329.2 697.5,327.5 698.4,327.0 C699.3,326.6 700.1,327.0 701.0,327.0 C701.9,327.0 702.7,326.6 703.6,327.0 C704.5,327.5 705.3,329.2 706.2,329.7 C707.1,330.1 707.9,328.8 708.8,329.7 C709.7,330.6 710.5,334.1 711.4,335.0 C712.3,335.9 713.1,334.6 714.0,335.0 C714.9,335.4 715.7,337.2 716.6,337.7 C717.5,338.1 718.3,337.7 719.2,337.7 C720.1,337.7 720.9,337.7 721.8,337.7 C722.7,337.7 723.5,337.7 724.4,337.7 C725.3,337.7 726.1,337.7 727.0,337.7 C727.9,337.7 728.7,337.2 729.6,337.7 C730.5,338.1 731.3,339.4 732.2,340.3 C733.1,341.2 733.9,342.5 734.8,343.0 C735.7,343.4 736.5,343.0 737.4,343.0 C738.3,343.0 739.1,343.0 740.0,343.0 C740.9,343.0 741.7,343.0 742.6,343.0 C743.5,343.0 744.3,342.5 745.2,343.0 C746.1,343.4 746.9,345.6 747.8,345.6 C748.7,345.6 749.5,343.4 750.4,343.0 C751.3,342.5 752.1,343.0 753.0,343.0 C753.9,343.0 754.7,343.0 755.6,343.0 C756.5,343.0 757.3,343.0 758.2,343.0 C759.1,343.0 759.9,343.0 760.8,343.0 C761.7,343.0 762.5,343.0 763.4,343.0 C764.3,343.0 765.1,342.5 766.0,343.0 C766.9,343.4 767.7,345.2 768.6,345.6 C769.5,346.1 770.3,345.6 771.2,345.6 C772.1,345.6 772.9,345.2 773.8,345.6 C774.7,346.1 775.5,348.3 776.4,348.3 C777.3,348.3 778.1,345.6 779.0,345.6 C779.9,345.6 780.7,348.3 781.6,348.3 C782.5,348.3 783.3,346.1 784.2,345.6 C785.1,345.2 785.9,345.6 786.8,345.6 C787.7,345.6 788.5,345.6 789.4,345.6 C790.3,345.6 791.1,345.6 792.0,345.6 C792.9,345.6 793.7,345.6 794.6,345.6 C795.5,345.6 796.3,345.2 797.2,345.6 C798.1,346.1 798.9,347.9 799.8,348.3 C800.7,348.7 801.5,348.3 802.4,348.3 C803.3,348.3 804.1,348.3 805.0,348.3 C805.9,348.3 806.7,348.3 807.6,348.3 C808.5,348.3 809.3,348.7 810.2,348.3 C811.1,347.9 811.9,345.6 812.8,345.6 C813.7,345.6 814.5,347.9 815.4,348.3 C816.3,348.7 817.1,348.3 818.0,348.3 C818.9,348.3 819.7,348.3 820.6,348.3 C821.5,348.3 822.3,347.9 823.2,348.3 C824.1,348.7 824.9,350.5 825.8,351.0 C826.7,351.4 827.5,351.0 828.4,351.0 C829.3,351.0 830.1,351.4 831.0,351.0 C831.9,350.5 832.7,348.3 833.6,348.3 C834.5,348.3 835.3,350.5 836.2,351.0 C837.1,351.4 837.9,351.4 838.8,351.0 C839.7,350.5 840.5,348.7 841.4,348.3 C842.3,347.9 843.1,348.3 844.0,348.3 C844.9,348.3 845.7,348.3 846.6,348.3 C847.5,348.3 848.3,347.9 849.2,348.3 C850.1,348.7 850.9,350.5 851.8,351.0 C852.7,351.4 853.5,351.0 854.4,351.0 C855.3,351.0 856.1,351.0 857.0,351.0 C857.9,351.0 858.7,351.0 859.6,351.0 C860.5,351.0 861.3,351.0 862.2,351.0 C863.1,351.0 863.9,351.0 864.8,351.0 C865.7,351.0 866.5,351.0 867.4,351.0 C868.3,351.0 869.1,350.5 870.0,351.0 C870.9,351.4 871.7,353.2 872.6,353.6 C873.5,354.1 874.3,353.6 875.2,353.6 C876.1,353.6 876.9,353.6 877.8,353.6 C878.7,353.6 879.5,353.6 880.4,353.6 C881.3,353.6 882.1,354.1 883.0,353.6 C883.9,353.2 884.7,351.4 885.6,351.0 C886.5,350.5 887.3,351.0 888.2,351.0 C889.1,351.0 889.9,351.4 890.8,351.0 C891.7,350.5 892.5,348.3 893.4,348.3 C894.3,348.3 895.1,350.5 896.0,351.0 C896.9,351.4 897.7,351.0 898.6,351.0 C899.5,351.0 900.3,351.0 901.2,351.0 C902.1,351.0 902.9,351.0 903.8,351.0 C904.7,351.0 905.5,350.5 906.4,351.0 C907.3,351.4 908.1,353.6 909.0,353.6 C909.9,353.6 910.7,351.4 911.6,351.0 C912.5,350.5 913.3,350.5 914.2,351.0 C915.1,351.4 915.9,353.2 916.8,353.6 C917.7,354.1 918.5,353.6 919.4,353.6 C920.3,353.6 921.1,353.6 922.0,353.6 C922.9,353.6 923.7,354.1 924.6,353.6 C925.5,353.2 926.3,351.0 927.2,351.0 C928.1,351.0 928.9,353.2 929.8,353.6 C930.7,354.1 931.5,353.6 932.4,353.6 C933.3,353.6 934.1,353.6 935.0,353.6 C935.9,353.6 936.7,353.6 937.6,353.6 C938.5,353.6 939.3,354.1 940.2,353.6 C941.1,353.2 941.9,351.0 942.8,351.0 C943.7,351.0 944.5,353.6 945.4,353.6 C946.3,353.6 947.1,351.0 948.0,351.0 C948.9,351.0 949.7,353.6 950.6,353.6 C951.5,353.6 952.3,351.0 953.2,351.0 C954.1,351.0 954.9,353.2 955.8,353.6 C956.7,354.1 957.5,353.6 958.4,353.6 C959.3,353.6 960.1,353.6 961.0,353.6 C961.9,353.6 962.7,353.6 963.6,353.6 C964.5,353.6 965.3,353.6 966.2,353.6 C967.1,353.6 967.9,353.6 968.8,353.6 C969.7,353.6 970.5,353.6 971.4,353.6 C972.3,353.6 973.1,353.6 974.0,353.6 C974.9,353.6 975.7,354.1 976.6,353.6 C977.5,353.2 978.3,351.4 979.2,351.0 C980.1,350.5 980.9,350.5 981.8,351.0 C982.7,351.4 983.5,353.2 984.4,353.6 C985.3,354.1 986.1,353.6 987.0,353.6 C987.9,353.6 988.7,353.6 989.6,353.6 C990.5,353.6 991.3,353.6 992.2,353.6 C993.1,353.6 993.9,353.6 994.8,353.6 C995.7,353.6 996.5,353.6 997.4,353.6 C998.3,353.6 999.1,353.6 1000.0,353.6 C1000.9,353.6 1001.7,353.2 1002.6,353.6 C1003.5,354.1 1004.3,355.8 1005.2,356.3 C1006.1,356.7 1006.9,356.7 1007.8,356.3 C1008.7,355.8 1009.5,353.6 1010.4,353.6 C1011.3,353.6 1012.1,355.8 1013.0,356.3 C1013.9,356.7 1014.7,356.3 1015.6,356.3 C1016.5,356.3 1017.3,356.3 1018.2,356.3 C1019.1,356.3 1019.9,356.3 1020.8,356.3 C1021.7,356.3 1022.5,356.3 1023.4,356.3 C1024.3,356.3 1025.1,356.3 1026.0,356.3 C1026.9,356.3 1027.7,356.3 1028.6,356.3 C1029.5,356.3 1030.3,356.3 1031.2,356.3 C1032.1,356.3 1032.9,356.7 1033.8,356.3 C1034.7,355.8 1035.5,353.6 1036.4,353.6 C1037.3,353.6 1038.1,355.8 1039.0,356.3 C1039.9,356.7 1040.7,356.3 1041.6,356.3 C1042.5,356.3 1043.3,356.3 1044.2,356.3 C1045.1,356.3 1045.9,356.3 1046.8,356.3 C1047.7,356.3 1048.5,356.3 1049.4,356.3 C1050.3,356.3 1051.1,356.3 1052.0,356.3 C1052.9,356.3 1053.7,356.3 1054.6,356.3 C1055.5,356.3 1056.3,356.3 1057.2,356.3 C1058.1,356.3 1058.9,356.7 1059.8,356.3 C1060.7,355.8 1061.5,353.6 1062.4,353.6 C1063.3,353.6 1064.1,355.8 1065.0,356.3 C1065.9,356.7 1066.7,356.3 1067.6,356.3 C1068.5,356.3 1069.3,356.3 1070.2,356.3 C1071.1,356.3 1071.9,356.3 1072.8,356.3 C1073.7,356.3 1074.5,356.3 1075.4,356.3 C1076.3,356.3 1077.1,355.8 1078.0,356.3 C1078.9,356.7 1079.7,358.9 1080.6,358.9 C1081.5,358.9 1082.3,356.7 1083.2,356.3 C1084.1,355.8 1084.9,356.3 1085.8,356.3 C1086.7,356.3 1087.5,355.8 1088.4,356.3 C1089.3,356.7 1090.1,358.5 1091.0,358.9 C1091.9,359.4 1092.7,358.9 1093.6,358.9 C1094.5,358.9 1095.3,358.9 1096.2,358.9 C1097.1,358.9 1097.9,359.4 1098.8,358.9 C1099.7,358.5 1100.5,356.3 1101.4,356.3 C1102.3,356.3 1103.1,358.9 1104.0,358.9 C1104.9,358.9 1105.7,356.7 1106.6,356.3 C1107.5,355.8 1108.3,356.3 1109.2,356.3 C1110.1,356.3 1110.9,355.8 1111.8,356.3 C1112.7,356.7 1113.5,358.9 1114.4,358.9 C1115.3,358.9 1116.1,356.7 1117.0,356.3 C1117.9,355.8 1118.7,356.3 1119.6,356.3 C1120.5,356.3 1121.3,355.8 1122.2,356.3 C1123.1,356.7 1123.9,358.5 1124.8,358.9 C1125.7,359.4 1126.5,358.9 1127.4,358.9 C1128.3,358.9 1129.1,359.4 1130.0,358.9 C1130.9,358.5 1131.7,356.7 1132.6,356.3 C1133.5,355.8 1134.3,355.8 1135.2,356.3 C1136.1,356.7 1136.9,358.5 1137.8,358.9 C1138.7,359.4 1139.5,358.9 1140.4,358.9 C1141.3,358.9 1142.1,358.9 1143.0,358.9 C1143.9,358.9 1144.7,358.9 1145.6,358.9 C1146.5,358.9 1147.3,358.9 1148.2,358.9 C1149.1,358.9 1149.9,358.9 1150.8,358.9 C1151.7,358.9 1152.5,358.9 1153.4,358.9 C1154.3,358.9 1155.1,358.9 1156.0,358.9 C1156.9,358.9 1157.7,359.4 1158.6,358.9 C1159.5,358.5 1160.3,356.3 1161.2,356.3 C1162.1,356.3 1162.9,358.5 1163.8,358.9 C1164.7,359.4 1165.5,358.9 1166.4,358.9 C1167.3,358.9 1168.1,359.4 1169.0,358.9 C1169.9,358.5 1170.7,356.3 1171.6,356.3 C1172.5,356.3 1173.3,358.9 1174.2,358.9 C1175.1,358.9 1175.9,356.7 1176.8,356.3 C1177.7,355.8 1178.5,355.8 1179.4,356.3 C1180.3,356.7 1181.1,358.5 1182.0,358.9 C1182.9,359.4 1183.7,358.9 1184.6,358.9 C1185.5,358.9 1186.3,358.9 1187.2,358.9 C1188.1,358.9 1188.9,358.9 1189.8,358.9 C1190.7,358.9 1191.5,358.9 1192.4,358.9 C1193.3,358.9 1194.1,358.9 1195.0,358.9 C1195.9,358.9 1196.7,358.5 1197.6,358.9 C1198.5,359.4 1199.3,361.1 1200.2,361.6 C1201.1,362.0 1201.9,361.6 1202.8,361.6 C1203.7,361.6 1205.0,361.6 1205.4,361.6' fill='none' stroke='#000' stroke-width='3.0' stroke-linejoin='round' stroke-linecap='round' filter='url(#soa)'/><path d='M162.8,438.7 C163.2,438.7 164.5,438.7 165.4,438.7 C166.3,438.7 167.1,438.7 168.0,438.7 C168.9,438.7 169.7,438.7 170.6,438.7 C171.5,438.7 172.3,438.7 173.2,438.7 C174.1,438.7 174.9,438.7 175.8,438.7 C176.7,438.7 177.5,438.7 178.4,438.7 C179.3,438.7 180.1,438.7 181.0,438.7 C181.9,438.7 182.7,438.7 183.6,438.7 C184.5,438.7 185.3,438.7 186.2,438.7 C187.1,438.7 187.9,438.7 188.8,438.7 C189.7,438.7 190.5,438.7 191.4,438.7 C192.3,438.7 193.1,438.7 194.0,438.7 C194.9,438.7 195.7,438.7 196.6,438.7 C197.5,438.7 198.3,438.7 199.2,438.7 C200.1,438.7 200.9,439.1 201.8,438.7 C202.7,438.3 203.5,436.0 204.4,436.0 C205.3,436.0 206.1,438.3 207.0,438.7 C207.9,439.1 208.7,438.7 209.6,438.7 C210.5,438.7 211.3,438.7 212.2,438.7 C213.1,438.7 213.9,438.7 214.8,438.7 C215.7,438.7 216.5,438.7 217.4,438.7 C218.3,438.7 219.1,438.7 220.0,438.7 C220.9,438.7 221.7,438.7 222.6,438.7 C223.5,438.7 224.3,438.7 225.2,438.7 C226.1,438.7 226.9,438.7 227.8,438.7 C228.7,438.7 229.5,438.7 230.4,438.7 C231.3,438.7 232.1,438.7 233.0,438.7 C233.9,438.7 234.7,438.7 235.6,438.7 C236.5,438.7 237.3,438.7 238.2,438.7 C239.1,438.7 239.9,438.7 240.8,438.7 C241.7,438.7 242.5,439.1 243.4,438.7 C244.3,438.3 245.1,436.0 246.0,436.0 C246.9,436.0 247.7,438.3 248.6,438.7 C249.5,439.1 250.3,438.7 251.2,438.7 C252.1,438.7 252.9,438.7 253.8,438.7 C254.7,438.7 255.5,438.7 256.4,438.7 C257.3,438.7 258.1,438.7 259.0,438.7 C259.9,438.7 260.7,438.7 261.6,438.7 C262.5,438.7 263.3,438.7 264.2,438.7 C265.1,438.7 265.9,438.7 266.8,438.7 C267.7,438.7 268.5,438.7 269.4,438.7 C270.3,438.7 271.1,438.7 272.0,438.7 C272.9,438.7 273.7,438.7 274.6,438.7 C275.5,438.7 276.3,438.7 277.2,438.7 C278.1,438.7 278.9,439.1 279.8,438.7 C280.7,438.3 281.5,436.0 282.4,436.0 C283.3,436.0 284.1,438.3 285.0,438.7 C285.9,439.1 286.7,438.7 287.6,438.7 C288.5,438.7 289.3,438.7 290.2,438.7 C291.1,438.7 291.9,438.7 292.8,438.7 C293.7,438.7 294.5,438.7 295.4,438.7 C296.3,438.7 297.1,438.7 298.0,438.7 C298.9,438.7 299.7,438.7 300.6,438.7 C301.5,438.7 302.3,438.7 303.2,438.7 C304.1,438.7 304.9,438.7 305.8,438.7 C306.7,438.7 307.5,438.7 308.4,438.7 C309.3,438.7 310.1,438.7 311.0,438.7 C311.9,438.7 312.7,438.7 313.6,438.7 C314.5,438.7 315.3,439.1 316.2,438.7 C317.1,438.3 317.9,436.0 318.8,436.0 C319.7,436.0 320.5,438.7 321.4,438.7 C322.3,438.7 323.1,436.0 324.0,436.0 C324.9,436.0 325.7,438.3 326.6,438.7 C327.5,439.1 328.3,438.7 329.2,438.7 C330.1,438.7 330.9,438.7 331.8,438.7 C332.7,438.7 333.5,438.7 334.4,438.7 C335.3,438.7 336.1,438.7 337.0,438.7 C337.9,438.7 338.7,438.7 339.6,438.7 C340.5,438.7 341.3,438.7 342.2,438.7 C343.1,438.7 343.9,439.1 344.8,438.7 C345.7,438.3 346.5,436.0 347.4,436.0 C348.3,436.0 349.1,438.7 350.0,438.7 C350.9,438.7 351.7,436.5 352.6,436.0 C353.5,435.6 354.3,435.6 355.2,436.0 C356.1,436.5 356.9,438.3 357.8,438.7 C358.7,439.1 359.5,438.7 360.4,438.7 C361.3,438.7 362.1,438.7 363.0,438.7 C363.9,438.7 364.7,438.7 365.6,438.7 C366.5,438.7 367.3,438.7 368.2,438.7 C369.1,438.7 369.9,438.7 370.8,438.7 C371.7,438.7 372.5,438.7 373.4,438.7 C374.3,438.7 375.1,438.7 376.0,438.7 C376.9,438.7 377.7,438.7 378.6,438.7 C379.5,438.7 380.3,438.7 381.2,438.7 C382.1,438.7 382.9,438.7 383.8,438.7 C384.7,438.7 385.5,438.7 386.4,438.7 C387.3,438.7 388.1,438.7 389.0,438.7 C389.9,438.7 390.7,438.7 391.6,438.7 C392.5,438.7 393.3,439.1 394.2,438.7 C395.1,438.3 395.9,436.0 396.8,436.0 C397.7,436.0 398.5,438.3 399.4,438.7 C400.3,439.1 401.1,438.7 402.0,438.7 C402.9,438.7 403.7,438.7 404.6,438.7 C405.5,438.7 406.3,438.7 407.2,438.7 C408.1,438.7 408.9,438.7 409.8,438.7 C410.7,438.7 411.5,438.7 412.4,438.7 C413.3,438.7 414.1,438.7 415.0,438.7 C415.9,438.7 416.7,439.1 417.6,438.7 C418.5,438.3 419.3,436.0 420.2,436.0 C421.1,436.0 421.9,438.3 422.8,438.7 C423.7,439.1 424.5,438.7 425.4,438.7 C426.3,438.7 427.1,439.1 428.0,438.7 C428.9,438.3 429.7,436.0 430.6,436.0 C431.5,436.0 432.3,438.3 433.2,438.7 C434.1,439.1 434.9,438.7 435.8,438.7 C436.7,438.7 437.5,438.7 438.4,438.7 C439.3,438.7 440.1,438.7 441.0,438.7 C441.9,438.7 442.7,438.7 443.6,438.7 C444.5,438.7 445.3,439.1 446.2,438.7 C447.1,438.3 447.9,436.0 448.8,436.0 C449.7,436.0 450.5,438.3 451.4,438.7 C452.3,439.1 453.1,438.7 454.0,438.7 C454.9,438.7 455.7,438.7 456.6,438.7 C457.5,438.7 458.3,438.7 459.2,438.7 C460.1,438.7 460.9,438.7 461.8,438.7 C462.7,438.7 463.5,438.7 464.4,438.7 C465.3,438.7 466.1,438.7 467.0,438.7 C467.9,438.7 468.7,438.7 469.6,438.7 C470.5,438.7 471.3,438.7 472.2,438.7 C473.1,438.7 473.9,438.7 474.8,438.7 C475.7,438.7 476.5,438.7 477.4,438.7 C478.3,438.7 479.1,438.7 480.0,438.7 C480.9,438.7 481.7,438.7 482.6,438.7 C483.5,438.7 484.3,438.7 485.2,438.7 C486.1,438.7 486.9,438.7 487.8,438.7 C488.7,438.7 489.5,438.7 490.4,438.7 C491.3,438.7 492.1,438.7 493.0,438.7 C493.9,438.7 494.7,438.7 495.6,438.7 C496.5,438.7 497.3,438.7 498.2,438.7 C499.1,438.7 499.9,438.7 500.8,438.7 C501.7,438.7 502.5,438.7 503.4,438.7 C504.3,438.7 505.1,438.7 506.0,438.7 C506.9,438.7 507.7,438.7 508.6,438.7 C509.5,438.7 510.3,438.7 511.2,438.7 C512.1,438.7 512.9,438.7 513.8,438.7 C514.7,438.7 515.5,438.7 516.4,438.7 C517.3,438.7 518.1,438.7 519.0,438.7 C519.9,438.7 520.7,438.7 521.6,438.7 C522.5,438.7 523.3,438.7 524.2,438.7 C525.1,438.7 525.9,438.7 526.8,438.7 C527.7,438.7 528.5,438.7 529.4,438.7 C530.3,438.7 531.1,438.7 532.0,438.7 C532.9,438.7 533.7,438.7 534.6,438.7 C535.5,438.7 536.3,438.7 537.2,438.7 C538.1,438.7 538.9,438.7 539.8,438.7 C540.7,438.7 541.5,438.7 542.4,438.7 C543.3,438.7 544.1,438.7 545.0,438.7 C545.9,438.7 546.7,438.7 547.6,438.7 C548.5,438.7 549.3,438.7 550.2,438.7 C551.1,438.7 551.9,439.1 552.8,438.7 C553.7,438.3 554.5,436.5 555.4,436.0 C556.3,435.6 557.1,436.0 558.0,436.0 C558.9,436.0 559.7,436.0 560.6,436.0 C561.5,436.0 562.3,436.0 563.2,436.0 C564.1,436.0 564.9,436.0 565.8,436.0 C566.7,436.0 567.5,436.0 568.4,436.0 C569.3,436.0 570.1,436.0 571.0,436.0 C571.9,436.0 572.7,436.0 573.6,436.0 C574.5,436.0 575.3,436.9 576.2,436.0 C577.1,435.2 577.9,431.6 578.8,430.7 C579.7,429.8 580.5,431.2 581.4,430.7 C582.3,430.3 583.1,428.5 584.0,428.1 C584.9,427.6 585.7,427.6 586.6,428.1 C587.5,428.5 588.3,430.3 589.2,430.7 C590.1,431.2 590.9,430.7 591.8,430.7 C592.7,430.7 593.5,431.2 594.4,430.7 C595.3,430.3 596.1,428.5 597.0,428.1 C597.9,427.6 598.7,428.5 599.6,428.1 C600.5,427.6 601.3,426.3 602.2,425.4 C603.1,424.5 603.9,423.6 604.8,422.7 C605.7,421.9 606.5,421.0 607.4,420.1 C608.3,419.2 609.1,417.9 610.0,417.4 C610.9,417.0 611.7,417.4 612.6,417.4 C613.5,417.4 614.3,417.9 615.2,417.4 C616.1,417.0 616.9,415.2 617.8,414.8 C618.7,414.3 619.5,415.7 620.4,414.8 C621.3,413.9 622.1,410.3 623.0,409.5 C623.9,408.6 624.7,410.3 625.6,409.5 C626.5,408.6 627.3,405.5 628.2,404.1 C629.1,402.8 629.9,402.8 630.8,401.5 C631.7,400.1 632.5,397.5 633.4,396.2 C634.3,394.8 635.1,394.4 636.0,393.5 C636.9,392.6 637.7,392.2 638.6,390.8 C639.5,389.5 640.3,386.8 641.2,385.5 C642.1,384.2 642.9,383.7 643.8,382.9 C644.7,382.0 645.5,381.5 646.4,380.2 C647.3,378.9 648.1,376.2 649.0,374.9 C649.9,373.6 650.7,373.1 651.6,372.2 C652.5,371.3 653.3,370.9 654.2,369.6 C655.1,368.2 655.9,366.0 656.8,364.2 C657.7,362.5 658.5,360.7 659.4,358.9 C660.3,357.2 661.1,355.8 662.0,353.6 C662.9,351.4 663.7,347.4 664.6,345.6 C665.5,343.9 666.3,344.3 667.2,343.0 C668.1,341.6 668.9,339.4 669.8,337.7 C670.7,335.9 671.5,333.7 672.4,332.3 C673.3,331.0 674.1,331.0 675.0,329.7 C675.9,328.4 676.7,326.1 677.6,324.4 C678.5,322.6 679.3,320.4 680.2,319.0 C681.1,317.7 681.9,317.7 682.8,316.4 C683.7,315.1 684.5,312.8 685.4,311.1 C686.3,309.3 687.1,306.6 688.0,305.8 C688.9,304.9 689.7,305.8 690.6,305.8 C691.5,305.8 692.3,304.9 693.2,305.8 C694.1,306.6 694.9,310.2 695.8,311.1 C696.7,312.0 697.5,310.2 698.4,311.1 C699.3,312.0 700.1,315.1 701.0,316.4 C701.9,317.7 702.7,318.6 703.6,319.0 C704.5,319.5 705.3,318.6 706.2,319.0 C707.1,319.5 707.9,320.8 708.8,321.7 C709.7,322.6 710.5,323.9 711.4,324.4 C712.3,324.8 713.1,323.9 714.0,324.4 C714.9,324.8 715.7,326.6 716.6,327.0 C717.5,327.5 718.3,327.0 719.2,327.0 C720.1,327.0 720.9,327.0 721.8,327.0 C722.7,327.0 723.5,326.6 724.4,327.0 C725.3,327.5 726.1,329.2 727.0,329.7 C727.9,330.1 728.7,329.2 729.6,329.7 C730.5,330.1 731.3,331.9 732.2,332.3 C733.1,332.8 733.9,332.3 734.8,332.3 C735.7,332.3 736.5,332.3 737.4,332.3 C738.3,332.3 739.1,331.9 740.0,332.3 C740.9,332.8 741.7,334.6 742.6,335.0 C743.5,335.4 744.3,335.4 745.2,335.0 C746.1,334.6 746.9,332.3 747.8,332.3 C748.7,332.3 749.5,334.1 750.4,335.0 C751.3,335.9 752.1,336.8 753.0,337.7 C753.9,338.5 754.7,340.3 755.6,340.3 C756.5,340.3 757.3,337.7 758.2,337.7 C759.1,337.7 759.9,340.3 760.8,340.3 C761.7,340.3 762.5,338.1 763.4,337.7 C764.3,337.2 765.1,338.1 766.0,337.7 C766.9,337.2 767.7,335.0 768.6,335.0 C769.5,335.0 770.3,337.2 771.2,337.7 C772.1,338.1 772.9,337.7 773.8,337.7 C774.7,337.7 775.5,337.7 776.4,337.7 C777.3,337.7 778.1,337.2 779.0,337.7 C779.9,338.1 780.7,339.9 781.6,340.3 C782.5,340.8 783.3,340.3 784.2,340.3 C785.1,340.3 785.9,339.9 786.8,340.3 C787.7,340.8 788.5,342.5 789.4,343.0 C790.3,343.4 791.1,343.0 792.0,343.0 C792.9,343.0 793.7,343.0 794.6,343.0 C795.5,343.0 796.3,343.0 797.2,343.0 C798.1,343.0 798.9,343.0 799.8,343.0 C800.7,343.0 801.5,343.0 802.4,343.0 C803.3,343.0 804.1,343.0 805.0,343.0 C805.9,343.0 806.7,342.5 807.6,343.0 C808.5,343.4 809.3,345.2 810.2,345.6 C811.1,346.1 811.9,345.6 812.8,345.6 C813.7,345.6 814.5,345.6 815.4,345.6 C816.3,345.6 817.1,345.6 818.0,345.6 C818.9,345.6 819.7,345.6 820.6,345.6 C821.5,345.6 822.3,346.1 823.2,345.6 C824.1,345.2 824.9,343.4 825.8,343.0 C826.7,342.5 827.5,343.0 828.4,343.0 C829.3,343.0 830.1,343.0 831.0,343.0 C831.9,343.0 832.7,343.0 833.6,343.0 C834.5,343.0 835.3,342.5 836.2,343.0 C837.1,343.4 837.9,345.2 838.8,345.6 C839.7,346.1 840.5,345.6 841.4,345.6 C842.3,345.6 843.1,345.6 844.0,345.6 C844.9,345.6 845.7,345.6 846.6,345.6 C847.5,345.6 848.3,345.6 849.2,345.6 C850.1,345.6 850.9,345.6 851.8,345.6 C852.7,345.6 853.5,345.6 854.4,345.6 C855.3,345.6 856.1,345.2 857.0,345.6 C857.9,346.1 858.7,347.9 859.6,348.3 C860.5,348.7 861.3,348.3 862.2,348.3 C863.1,348.3 863.9,348.3 864.8,348.3 C865.7,348.3 866.5,348.3 867.4,348.3 C868.3,348.3 869.1,348.3 870.0,348.3 C870.9,348.3 871.7,348.3 872.6,348.3 C873.5,348.3 874.3,348.3 875.2,348.3 C876.1,348.3 876.9,348.7 877.8,348.3 C878.7,347.9 879.5,346.1 880.4,345.6 C881.3,345.2 882.1,345.6 883.0,345.6 C883.9,345.6 884.7,345.6 885.6,345.6 C886.5,345.6 887.3,345.6 888.2,345.6 C889.1,345.6 889.9,345.2 890.8,345.6 C891.7,346.1 892.5,347.9 893.4,348.3 C894.3,348.7 895.1,348.3 896.0,348.3 C896.9,348.3 897.7,348.3 898.6,348.3 C899.5,348.3 900.3,348.3 901.2,348.3 C902.1,348.3 902.9,348.7 903.8,348.3 C904.7,347.9 905.5,345.6 906.4,345.6 C907.3,345.6 908.1,347.9 909.0,348.3 C909.9,348.7 910.7,348.3 911.6,348.3 C912.5,348.3 913.3,348.3 914.2,348.3 C915.1,348.3 915.9,347.9 916.8,348.3 C917.7,348.7 918.5,351.0 919.4,351.0 C920.3,351.0 921.1,348.3 922.0,348.3 C922.9,348.3 923.7,351.0 924.6,351.0 C925.5,351.0 926.3,348.7 927.2,348.3 C928.1,347.9 928.9,348.3 929.8,348.3 C930.7,348.3 931.5,348.3 932.4,348.3 C933.3,348.3 934.1,348.3 935.0,348.3 C935.9,348.3 936.7,348.3 937.6,348.3 C938.5,348.3 939.3,348.3 940.2,348.3 C941.1,348.3 941.9,348.3 942.8,348.3 C943.7,348.3 944.5,348.3 945.4,348.3 C946.3,348.3 947.1,348.3 948.0,348.3 C948.9,348.3 949.7,347.9 950.6,348.3 C951.5,348.7 952.3,351.0 953.2,351.0 C954.1,351.0 954.9,348.7 955.8,348.3 C956.7,347.9 957.5,348.3 958.4,348.3 C959.3,348.3 960.1,348.3 961.0,348.3 C961.9,348.3 962.7,348.3 963.6,348.3 C964.5,348.3 965.3,347.9 966.2,348.3 C967.1,348.7 967.9,351.0 968.8,351.0 C969.7,351.0 970.5,348.3 971.4,348.3 C972.3,348.3 973.1,350.5 974.0,351.0 C974.9,351.4 975.7,351.0 976.6,351.0 C977.5,351.0 978.3,351.0 979.2,351.0 C980.1,351.0 980.9,351.0 981.8,351.0 C982.7,351.0 983.5,351.4 984.4,351.0 C985.3,350.5 986.1,348.3 987.0,348.3 C987.9,348.3 988.7,350.5 989.6,351.0 C990.5,351.4 991.3,351.0 992.2,351.0 C993.1,351.0 993.9,351.0 994.8,351.0 C995.7,351.0 996.5,351.0 997.4,351.0 C998.3,351.0 999.1,351.0 1000.0,351.0 C1000.9,351.0 1001.7,351.0 1002.6,351.0 C1003.5,351.0 1004.3,351.0 1005.2,351.0 C1006.1,351.0 1006.9,351.0 1007.8,351.0 C1008.7,351.0 1009.5,351.0 1010.4,351.0 C1011.3,351.0 1012.1,351.0 1013.0,351.0 C1013.9,351.0 1014.7,351.0 1015.6,351.0 C1016.5,351.0 1017.3,351.0 1018.2,351.0 C1019.1,351.0 1019.9,351.0 1020.8,351.0 C1021.7,351.0 1022.5,351.0 1023.4,351.0 C1024.3,351.0 1025.1,351.0 1026.0,351.0 C1026.9,351.0 1027.7,351.0 1028.6,351.0 C1029.5,351.0 1030.3,351.0 1031.2,351.0 C1032.1,351.0 1032.9,350.5 1033.8,351.0 C1034.7,351.4 1035.5,353.2 1036.4,353.6 C1037.3,354.1 1038.1,353.6 1039.0,353.6 C1039.9,353.6 1040.7,354.1 1041.6,353.6 C1042.5,353.2 1043.3,351.4 1044.2,351.0 C1045.1,350.5 1045.9,351.0 1046.8,351.0 C1047.7,351.0 1048.5,351.0 1049.4,351.0 C1050.3,351.0 1051.1,351.0 1052.0,351.0 C1052.9,351.0 1053.7,350.5 1054.6,351.0 C1055.5,351.4 1056.3,353.2 1057.2,353.6 C1058.1,354.1 1058.9,354.1 1059.8,353.6 C1060.7,353.2 1061.5,351.0 1062.4,351.0 C1063.3,351.0 1064.1,353.6 1065.0,353.6 C1065.9,353.6 1066.7,351.4 1067.6,351.0 C1068.5,350.5 1069.3,351.0 1070.2,351.0 C1071.1,351.0 1071.9,351.0 1072.8,351.0 C1073.7,351.0 1074.5,351.0 1075.4,351.0 C1076.3,351.0 1077.1,351.0 1078.0,351.0 C1078.9,351.0 1079.7,351.0 1080.6,351.0 C1081.5,351.0 1082.3,350.5 1083.2,351.0 C1084.1,351.4 1084.9,353.2 1085.8,353.6 C1086.7,354.1 1087.5,353.6 1088.4,353.6 C1089.3,353.6 1090.1,353.2 1091.0,353.6 C1091.9,354.1 1092.7,355.8 1093.6,356.3 C1094.5,356.7 1095.3,356.3 1096.2,356.3 C1097.1,356.3 1097.9,356.3 1098.8,356.3 C1099.7,356.3 1100.5,356.7 1101.4,356.3 C1102.3,355.8 1103.1,354.1 1104.0,353.6 C1104.9,353.2 1105.7,353.2 1106.6,353.6 C1107.5,354.1 1108.3,356.3 1109.2,356.3 C1110.1,356.3 1110.9,354.1 1111.8,353.6 C1112.7,353.2 1113.5,353.6 1114.4,353.6 C1115.3,353.6 1116.1,353.6 1117.0,353.6 C1117.9,353.6 1118.7,353.6 1119.6,353.6 C1120.5,353.6 1121.3,353.6 1122.2,353.6 C1123.1,353.6 1123.9,353.6 1124.8,353.6 C1125.7,353.6 1126.5,353.6 1127.4,353.6 C1128.3,353.6 1129.1,353.6 1130.0,353.6 C1130.9,353.6 1131.7,353.6 1132.6,353.6 C1133.5,353.6 1134.3,353.2 1135.2,353.6 C1136.1,354.1 1136.9,355.8 1137.8,356.3 C1138.7,356.7 1139.5,356.3 1140.4,356.3 C1141.3,356.3 1142.1,356.3 1143.0,356.3 C1143.9,356.3 1144.7,356.3 1145.6,356.3 C1146.5,356.3 1147.3,356.3 1148.2,356.3 C1149.1,356.3 1149.9,356.3 1150.8,356.3 C1151.7,356.3 1152.5,356.7 1153.4,356.3 C1154.3,355.8 1155.1,354.1 1156.0,353.6 C1156.9,353.2 1157.7,354.1 1158.6,353.6 C1159.5,353.2 1160.3,351.0 1161.2,351.0 C1162.1,351.0 1162.9,353.2 1163.8,353.6 C1164.7,354.1 1165.5,353.2 1166.4,353.6 C1167.3,354.1 1168.1,355.8 1169.0,356.3 C1169.9,356.7 1170.7,356.3 1171.6,356.3 C1172.5,356.3 1173.3,356.3 1174.2,356.3 C1175.1,356.3 1175.9,356.3 1176.8,356.3 C1177.7,356.3 1178.5,356.3 1179.4,356.3 C1180.3,356.3 1181.1,356.3 1182.0,356.3 C1182.9,356.3 1183.7,356.3 1184.6,356.3 C1185.5,356.3 1186.3,356.3 1187.2,356.3 C1188.1,356.3 1188.9,356.7 1189.8,356.3 C1190.7,355.8 1191.5,353.6 1192.4,353.6 C1193.3,353.6 1194.1,355.8 1195.0,356.3 C1195.9,356.7 1196.7,356.3 1197.6,356.3 C1198.5,356.3 1199.3,356.3 1200.2,356.3 C1201.1,356.3 1201.9,355.8 1202.8,356.3 C1203.7,356.7 1205.0,358.5 1205.4,358.9' fill='none' stroke='#000' stroke-width='3.0' stroke-linejoin='round' stroke-linecap='round' filter='url(#soa)'/><path d='M162.8,433.0 C163.1,433.0 163.8,433.0 164.3,433.0 C164.8,433.0 165.3,433.0 165.8,433.0 C166.3,433.0 166.8,433.0 167.3,433.0 C167.8,433.0 168.3,433.0 168.8,433.0 C169.3,433.0 169.8,433.0 170.3,433.0 C170.8,433.0 171.3,433.0 171.8,433.0 C172.3,433.0 172.8,433.0 173.3,433.1 C173.8,433.2 174.3,433.4 174.8,433.6 C175.3,433.8 175.8,434.3 176.3,434.6 C176.8,434.8 177.3,435.0 177.8,435.1 C178.3,435.3 178.8,435.3 179.3,435.3 C179.8,435.3 180.3,435.3 180.8,435.3 C181.3,435.3 181.8,435.3 182.3,435.3 C182.8,435.3 183.3,435.3 183.8,435.2 C184.3,435.2 184.8,435.1 185.3,434.9 C185.8,434.7 186.3,434.4 186.8,434.1 C187.3,433.8 187.8,433.5 188.3,433.3 C188.8,433.1 189.3,433.1 189.8,433.0 C190.3,433.0 190.8,433.0 191.3,433.0 C191.8,433.0 192.3,433.0 192.8,433.0 C193.3,433.0 193.8,433.0 194.3,433.0 C194.8,433.0 195.3,433.0 195.8,433.0 C196.3,433.0 196.8,433.0 197.3,433.0 C197.8,433.0 198.3,433.0 198.8,433.0 C199.3,433.0 199.8,433.0 200.3,433.1 C200.8,433.2 201.3,433.4 201.8,433.6 C202.3,433.9 202.8,434.3 203.3,434.6 C203.8,434.8 204.3,435.0 204.8,435.1 C205.3,435.3 205.8,435.3 206.3,435.3 C206.8,435.3 207.3,435.3 207.8,435.3 C208.3,435.3 208.8,435.3 209.3,435.3 C209.8,435.3 210.3,435.3 210.8,435.2 C211.3,435.2 211.8,435.1 212.3,434.9 C212.8,434.7 213.3,434.3 213.8,434.1 C214.3,433.8 214.8,433.5 215.3,433.3 C215.8,433.1 216.3,433.1 216.8,433.0 C217.3,433.0 217.8,433.0 218.3,433.0 C218.8,433.0 219.3,433.0 219.8,433.0 C220.3,433.0 220.8,433.0 221.3,433.0 C221.8,433.0 222.3,433.0 222.8,433.0 C223.3,433.0 223.8,433.0 224.3,433.0 C224.8,433.0 225.3,433.0 225.8,433.0 C226.3,433.0 226.8,433.0 227.3,433.1 C227.8,433.2 228.3,433.4 228.8,433.6 C229.3,433.9 229.8,434.3 230.3,434.6 C230.8,434.8 231.3,435.0 231.8,435.1 C232.3,435.3 232.8,435.3 233.3,435.3 C233.8,435.3 234.3,435.3 234.8,435.3 C235.3,435.3 235.8,435.3 236.3,435.3 C236.8,435.3 237.3,435.3 237.8,435.2 C238.3,435.2 238.8,435.1 239.3,434.9 C239.8,434.7 240.3,434.3 240.8,434.0 C241.3,433.8 241.8,433.4 242.3,433.3 C242.8,433.1 243.3,433.1 243.8,433.0 C244.3,433.0 244.8,433.0 245.3,433.0 C245.8,433.0 246.3,433.0 246.8,433.0 C247.3,433.0 247.8,433.0 248.3,433.0 C248.8,433.0 249.3,433.0 249.8,433.0 C250.3,433.0 250.8,433.0 251.3,433.0 C251.8,433.0 252.3,433.0 252.8,433.0 C253.3,433.0 253.8,433.0 254.3,433.1 C254.8,433.2 255.3,433.4 255.8,433.6 C256.3,433.9 256.8,434.4 257.3,434.6 C257.8,434.9 258.3,435.0 258.8,435.2 C259.3,435.3 259.8,435.3 260.3,435.3 C260.8,435.3 261.3,435.3 261.8,435.3 C262.3,435.3 262.8,435.3 263.3,435.3 C263.8,435.3 264.3,435.3 264.8,435.2 C265.3,435.2 265.8,435.1 266.3,434.9 C266.8,434.7 267.3,434.3 267.8,434.0 C268.3,433.7 268.8,433.4 269.3,433.3 C269.8,433.1 270.3,433.1 270.8,433.0 C271.3,433.0 271.8,433.0 272.3,433.0 C272.8,433.0 273.3,433.0 273.8,433.0 C274.3,433.0 274.8,433.0 275.3,433.0 C275.8,433.0 276.3,433.0 276.8,433.0 C277.3,433.0 277.8,433.0 278.3,433.0 C278.8,433.0 279.3,433.0 279.8,433.0 C280.3,433.0 280.8,433.0 281.3,433.1 C281.8,433.2 282.3,433.4 282.8,433.7 C283.3,433.9 283.8,434.4 284.3,434.6 C284.8,434.9 285.3,435.0 285.8,435.2 C286.3,435.3 286.8,435.3 287.3,435.3 C287.8,435.3 288.3,435.3 288.8,435.3 C289.3,435.3 289.8,435.3 290.3,435.3 C290.8,435.3 291.3,435.3 291.8,435.2 C292.3,435.2 292.8,435.1 293.3,434.9 C293.8,434.7 294.3,434.3 294.8,434.0 C295.3,433.7 295.8,433.4 296.3,433.3 C296.8,433.1 297.3,433.1 297.8,433.0 C298.3,433.0 298.8,433.0 299.3,433.0 C299.8,433.0 300.3,433.0 300.8,433.0 C301.3,433.0 301.8,433.0 302.3,433.0 C302.8,433.0 303.3,433.0 303.8,433.0 C304.3,433.0 304.8,433.0 305.3,433.0 C305.8,433.0 306.3,433.0 306.8,433.0 C307.3,433.0 307.8,433.0 308.3,433.1 C308.8,433.3 309.3,433.4 309.8,433.7 C310.3,433.9 310.8,434.4 311.3,434.6 C311.8,434.9 312.3,435.0 312.8,435.2 C313.3,435.3 313.8,435.3 314.3,435.3 C314.8,435.3 315.3,435.3 315.8,435.3 C316.3,435.3 316.8,435.3 317.3,435.3 C317.8,435.3 318.3,435.3 318.8,435.2 C319.3,435.2 319.8,435.1 320.3,434.9 C320.8,434.7 321.3,434.2 321.8,434.0 C322.3,433.7 322.8,433.4 323.3,433.2 C323.8,433.1 324.3,433.1 324.8,433.0 C325.3,433.0 325.8,433.0 326.3,433.0 C326.8,433.0 327.3,433.0 327.8,433.0 C328.3,433.0 328.8,433.0 329.3,433.0 C329.8,433.0 330.3,433.0 330.8,433.0 C331.3,433.0 331.8,433.0 332.3,433.0 C332.8,433.0 333.3,433.0 333.8,433.0 C334.3,433.0 334.8,433.0 335.3,433.2 C335.8,433.3 336.3,433.4 336.8,433.7 C337.3,433.9 337.8,434.4 338.3,434.7 C338.8,434.9 339.3,435.1 339.8,435.2 C340.3,435.3 340.8,435.3 341.3,435.3 C341.8,435.3 342.3,435.3 342.8,435.3 C343.3,435.3 343.8,435.3 344.3,435.3 C344.8,435.3 345.3,435.3 345.8,435.2 C346.3,435.1 346.8,435.1 347.3,434.9 C347.8,434.6 348.3,434.2 348.8,434.0 C349.3,433.7 349.8,433.4 350.3,433.2 C350.8,433.1 351.3,433.1 351.8,433.0 C352.3,433.0 352.8,433.0 353.3,433.0 C353.8,433.0 354.3,433.0 354.8,433.0 C355.3,433.0 355.8,433.0 356.3,433.0 C356.8,433.0 357.3,433.0 357.8,433.0 C358.3,433.0 358.8,433.0 359.3,433.0 C359.8,433.0 360.3,433.0 360.8,433.0 C361.3,433.0 361.8,433.0 362.3,433.2 C362.8,433.3 363.3,433.5 363.8,433.7 C364.3,434.0 364.8,434.4 365.3,434.7 C365.8,434.9 366.3,435.1 366.8,435.2 C367.3,435.3 367.8,435.3 368.3,435.3 C368.8,435.3 369.3,435.3 369.8,435.3 C370.3,435.3 370.8,435.3 371.3,435.3 C371.8,435.3 372.3,435.3 372.8,435.2 C373.3,435.1 373.8,435.1 374.3,434.8 C374.8,434.6 375.3,434.2 375.8,433.9 C376.3,433.7 376.8,433.4 377.3,433.2 C377.8,433.1 378.3,433.1 378.8,433.0 C379.3,433.0 379.8,433.0 380.3,433.0 C380.8,433.0 381.3,433.0 381.8,433.0 C382.3,433.0 382.8,433.0 383.3,433.0 C383.8,433.0 384.3,433.0 384.8,433.0 C385.3,433.0 385.8,433.0 386.3,433.0 C386.8,433.0 387.3,433.0 387.8,433.0 C388.3,433.0 388.8,433.0 389.3,433.2 C389.8,433.3 390.3,433.5 390.8,433.7 C391.3,434.0 391.8,434.4 392.3,434.7 C392.8,434.9 393.3,435.1 393.8,435.2 C394.3,435.3 394.8,435.3 395.3,435.3 C395.8,435.3 396.3,435.3 396.8,435.3 C397.3,435.3 397.8,435.3 398.3,435.3 C398.8,435.3 399.3,435.3 399.8,435.2 C400.3,435.1 400.8,435.0 401.3,434.8 C401.8,434.6 402.3,434.2 402.8,433.9 C403.3,433.7 403.8,433.4 404.3,433.2 C404.8,433.1 405.3,433.1 405.8,433.0 C406.3,433.0 406.8,433.0 407.3,433.0 C407.8,433.0 408.3,433.0 408.8,433.0 C409.3,433.0 409.8,433.0 410.3,433.0 C410.8,433.0 411.3,433.0 411.8,433.0 C412.3,433.0 412.8,433.0 413.3,433.0 C413.8,433.0 414.3,433.0 414.8,433.0 C415.3,433.1 415.8,433.0 416.3,433.2 C416.8,433.3 417.3,433.5 417.8,433.8 C418.3,434.0 418.8,434.5 419.3,434.7 C419.8,434.9 420.3,435.1 420.8,435.2 C421.3,435.3 421.8,435.3 422.3,435.3 C422.8,435.3 423.3,435.3 423.8,435.3 C424.3,435.3 424.8,435.3 425.3,435.3 C425.8,435.3 426.3,435.3 426.8,435.2 C427.3,435.1 427.8,435.0 428.3,434.8 C428.8,434.6 429.3,434.2 429.8,433.9 C430.3,433.6 430.8,433.4 431.3,433.2 C431.8,433.1 432.3,433.1 432.8,433.0 C433.3,433.0 433.8,433.0 434.3,433.0 C434.8,433.0 435.3,433.0 435.8,433.0 C436.3,433.0 436.8,433.0 437.3,433.0 C437.8,433.0 438.3,433.0 438.8,433.0 C439.3,433.0 439.8,433.0 440.3,433.0 C440.8,433.0 441.3,433.0 441.8,433.0 C442.3,433.1 442.8,433.0 443.3,433.2 C443.8,433.3 444.3,433.5 444.8,433.8 C445.3,434.0 445.8,434.5 446.3,434.7 C446.8,435.0 447.3,435.1 447.8,435.2 C448.3,435.3 448.8,435.3 449.3,435.3 C449.8,435.3 450.3,435.3 450.8,435.3 C451.3,435.3 451.8,435.3 452.3,435.3 C452.8,435.3 453.3,435.3 453.8,435.2 C454.3,435.1 454.8,435.0 455.3,434.8 C455.8,434.6 456.3,434.1 456.8,433.9 C457.3,433.6 457.8,433.4 458.3,433.2 C458.8,433.1 459.3,433.1 459.8,433.0 C460.3,433.0 460.8,433.0 461.3,433.0 C461.8,433.0 462.3,433.0 462.8,433.0 C463.3,433.0 463.8,433.0 464.3,433.0 C464.8,433.0 465.3,433.0 465.8,433.0 C466.3,433.0 466.8,433.0 467.3,433.0 C467.8,433.0 468.3,433.0 468.8,433.0 C469.3,433.1 469.8,433.1 470.3,433.2 C470.8,433.3 471.3,433.5 471.8,433.8 C472.3,434.0 472.8,434.5 473.3,434.7 C473.8,435.0 474.3,435.1 474.8,435.2 C475.3,435.3 475.8,435.3 476.3,435.3 C476.8,435.3 477.3,435.3 477.8,435.3 C478.3,435.3 478.8,435.3 479.3,435.3 C479.8,435.3 480.3,435.3 480.8,435.2 C481.3,435.1 481.8,435.0 482.3,434.8 C482.8,434.6 483.3,434.1 483.8,433.9 C484.3,433.6 484.8,433.3 485.3,433.2 C485.8,433.1 486.3,433.1 486.8,433.0 C487.3,433.0 487.8,433.0 488.3,433.0 C488.8,433.0 489.3,433.0 489.8,433.0 C490.3,433.0 490.8,433.0 491.3,433.0 C491.8,433.0 492.3,433.0 492.8,433.0 C493.3,433.0 493.8,433.0 494.3,433.0 C494.8,433.0 495.3,433.0 495.8,433.0 C496.3,433.1 496.8,433.1 497.3,433.2 C497.8,433.3 498.3,433.5 498.8,433.8 C499.3,434.1 499.8,434.5 500.3,434.7 C500.8,435.0 501.3,435.1 501.8,435.2 C502.3,435.3 502.8,435.3 503.3,435.3 C503.8,435.3 504.3,435.3 504.8,435.3 C505.3,435.3 505.8,435.3 506.3,435.3 C506.8,435.3 507.3,435.3 507.8,435.2 C508.3,435.1 508.8,435.0 509.3,434.8 C509.8,434.5 510.3,434.1 510.8,433.8 C511.3,433.6 511.8,433.3 512.3,433.2 C512.8,433.1 513.3,433.1 513.8,433.0 C514.3,433.0 514.8,433.0 515.3,433.0 C515.8,433.0 516.0,432.9 516.8,433.0 C517.6,433.1 519.0,433.3 520.0,433.4 C521.0,433.4 521.7,432.9 522.6,433.4 C523.5,433.8 524.3,435.6 525.2,436.0 C526.1,436.5 526.9,436.0 527.8,436.0 C528.7,436.0 529.5,436.0 530.4,436.0 C531.3,436.0 532.1,436.0 533.0,436.0 C533.9,436.0 534.7,436.5 535.6,436.0 C536.5,435.6 537.3,433.8 538.2,433.4 C539.1,432.9 539.9,433.4 540.8,433.4 C541.7,433.4 542.5,433.8 543.4,433.4 C544.3,432.9 545.1,431.2 546.0,430.7 C546.9,430.3 547.7,430.7 548.6,430.7 C549.5,430.7 550.3,430.7 551.2,430.7 C552.1,430.7 552.9,430.7 553.8,430.7 C554.7,430.7 555.5,430.7 556.4,430.7 C557.3,430.7 558.1,431.2 559.0,430.7 C559.9,430.3 560.7,428.5 561.6,428.1 C562.5,427.6 563.3,428.1 564.2,428.1 C565.1,428.1 565.9,428.5 566.8,428.1 C567.7,427.6 568.5,425.8 569.4,425.4 C570.3,425.0 571.1,425.4 572.0,425.4 C572.9,425.4 573.7,425.4 574.6,425.4 C575.5,425.4 576.3,425.4 577.2,425.4 C578.1,425.4 578.9,425.4 579.8,425.4 C580.7,425.4 581.5,425.4 582.4,425.4 C583.3,425.4 584.1,425.8 585.0,425.4 C585.9,425.0 586.7,423.2 587.6,422.7 C588.5,422.3 589.3,423.2 590.2,422.7 C591.1,422.3 591.9,420.5 592.8,420.1 C593.7,419.6 594.5,420.1 595.4,420.1 C596.3,420.1 597.1,420.5 598.0,420.1 C598.9,419.6 599.7,417.9 600.6,417.4 C601.5,417.0 602.3,417.4 603.2,417.4 C604.1,417.4 604.9,417.9 605.8,417.4 C606.7,417.0 607.5,415.2 608.4,414.8 C609.3,414.3 610.1,415.2 611.0,414.8 C611.9,414.3 612.7,412.6 613.6,412.1 C614.5,411.7 615.3,412.6 616.2,412.1 C617.1,411.7 617.9,410.3 618.8,409.5 C619.7,408.6 620.5,407.2 621.4,406.8 C622.3,406.3 623.1,407.2 624.0,406.8 C624.9,406.3 625.7,405.0 626.6,404.1 C627.5,403.2 628.3,402.4 629.2,401.5 C630.1,400.6 630.9,399.3 631.8,398.8 C632.7,398.4 633.5,399.3 634.4,398.8 C635.3,398.4 636.1,397.0 637.0,396.2 C637.9,395.3 638.7,394.4 639.6,393.5 C640.5,392.6 641.3,392.2 642.2,390.8 C643.1,389.5 643.9,386.4 644.8,385.5 C645.7,384.6 646.5,386.4 647.4,385.5 C648.3,384.6 649.1,381.5 650.0,380.2 C650.9,378.9 651.7,378.9 652.6,377.5 C653.5,376.2 654.3,373.6 655.2,372.2 C656.1,370.9 656.9,370.5 657.8,369.6 C658.7,368.7 659.5,368.2 660.4,366.9 C661.3,365.6 662.1,363.4 663.0,361.6 C663.9,359.8 664.7,357.6 665.6,356.3 C666.5,354.9 667.3,355.4 668.2,353.6 C669.1,351.8 669.9,347.4 670.8,345.6 C671.7,343.9 672.5,344.7 673.4,343.0 C674.3,341.2 675.1,337.2 676.0,335.0 C676.9,332.8 677.7,331.5 678.6,329.7 C679.5,327.9 680.3,326.1 681.2,324.4 C682.1,322.6 682.9,320.8 683.8,319.0 C684.7,317.3 685.5,314.6 686.4,313.7 C687.3,312.8 688.1,314.2 689.0,313.7 C689.9,313.3 690.7,311.5 691.6,311.1 C692.5,310.6 693.3,311.1 694.2,311.1 C695.1,311.1 695.9,311.1 696.8,311.1 C697.7,311.1 698.5,310.6 699.4,311.1 C700.3,311.5 701.1,313.3 702.0,313.7 C702.9,314.2 703.7,313.3 704.6,313.7 C705.5,314.2 706.3,315.5 707.2,316.4 C708.1,317.3 708.9,318.2 709.8,319.0 C710.7,319.9 711.5,320.8 712.4,321.7 C713.3,322.6 714.1,323.9 715.0,324.4 C715.9,324.8 716.7,323.9 717.6,324.4 C718.5,324.8 719.3,326.6 720.2,327.0 C721.1,327.5 721.9,327.5 722.8,327.0 C723.7,326.6 724.5,324.8 725.4,324.4 C726.3,323.9 727.1,323.9 728.0,324.4 C728.9,324.8 729.7,326.6 730.6,327.0 C731.5,327.5 732.3,326.6 733.2,327.0 C734.1,327.5 734.9,329.2 735.8,329.7 C736.7,330.1 737.5,329.2 738.4,329.7 C739.3,330.1 740.1,331.9 741.0,332.3 C741.9,332.8 742.7,332.3 743.6,332.3 C744.5,332.3 745.3,332.3 746.2,332.3 C747.1,332.3 747.9,332.3 748.8,332.3 C749.7,332.3 750.5,332.3 751.4,332.3 C752.3,332.3 753.1,332.3 754.0,332.3 C754.9,332.3 755.7,332.3 756.6,332.3 C757.5,332.3 758.3,332.3 759.2,332.3 C760.1,332.3 760.9,332.3 761.8,332.3 C762.7,332.3 763.5,332.3 764.4,332.3 C765.3,332.3 766.1,332.3 767.0,332.3 C767.9,332.3 768.7,332.3 769.6,332.3 C770.5,332.3 771.3,331.9 772.2,332.3 C773.1,332.8 773.9,334.6 774.8,335.0 C775.7,335.4 776.5,335.0 777.4,335.0 C778.3,335.0 779.1,335.0 780.0,335.0 C780.9,335.0 781.7,335.0 782.6,335.0 C783.5,335.0 784.3,335.0 785.2,335.0 C786.1,335.0 786.9,335.0 787.8,335.0 C788.7,335.0 789.5,335.0 790.4,335.0 C791.3,335.0 792.1,334.6 793.0,335.0 C793.9,335.4 794.7,337.2 795.6,337.7 C796.5,338.1 797.3,337.2 798.2,337.7 C799.1,338.1 799.9,339.9 800.8,340.3 C801.7,340.8 802.5,340.3 803.4,340.3 C804.3,340.3 805.1,340.8 806.0,340.3 C806.9,339.9 807.7,338.1 808.6,337.7 C809.5,337.2 810.3,337.7 811.2,337.7 C812.1,337.7 812.9,337.7 813.8,337.7 C814.7,337.7 815.5,337.2 816.4,337.7 C817.3,338.1 818.1,339.9 819.0,340.3 C819.9,340.8 820.7,340.3 821.6,340.3 C822.5,340.3 823.3,339.9 824.2,340.3 C825.1,340.8 825.9,343.0 826.8,343.0 C827.7,343.0 828.5,340.8 829.4,340.3 C830.3,339.9 831.1,340.3 832.0,340.3 C832.9,340.3 833.7,339.9 834.6,340.3 C835.5,340.8 836.3,343.0 837.2,343.0 C838.1,343.0 838.9,340.8 839.8,340.3 C840.7,339.9 841.5,340.3 842.4,340.3 C843.3,340.3 844.1,340.3 845.0,340.3 C845.9,340.3 846.7,339.9 847.6,340.3 C848.5,340.8 849.3,342.5 850.2,343.0 C851.1,343.4 851.9,343.0 852.8,343.0 C853.7,343.0 854.5,343.0 855.4,343.0 C856.3,343.0 857.1,343.4 858.0,343.0 C858.9,342.5 859.7,340.8 860.6,340.3 C861.5,339.9 862.3,340.3 863.2,340.3 C864.1,340.3 864.9,340.3 865.8,340.3 C866.7,340.3 867.5,340.3 868.4,340.3 C869.3,340.3 870.1,340.3 871.0,340.3 C871.9,340.3 872.7,340.3 873.6,340.3 C874.5,340.3 875.3,339.4 876.2,340.3 C877.1,341.2 877.9,344.7 878.8,345.6 C879.7,346.5 880.5,345.6 881.4,345.6 C882.3,345.6 883.1,346.1 884.0,345.6 C884.9,345.2 885.7,343.0 886.6,343.0 C887.5,343.0 888.3,345.2 889.2,345.6 C890.1,346.1 890.9,345.6 891.8,345.6 C892.7,345.6 893.5,345.6 894.4,345.6 C895.3,345.6 896.1,346.1 897.0,345.6 C897.9,345.2 898.7,343.0 899.6,343.0 C900.5,343.0 901.3,345.2 902.2,345.6 C903.1,346.1 903.9,345.6 904.8,345.6 C905.7,345.6 906.5,345.6 907.4,345.6 C908.3,345.6 909.1,345.6 910.0,345.6 C910.9,345.6 911.7,345.6 912.6,345.6 C913.5,345.6 914.3,346.1 915.2,345.6 C916.1,345.2 916.9,343.0 917.8,343.0 C918.7,343.0 919.5,345.6 920.4,345.6 C921.3,345.6 922.1,343.4 923.0,343.0 C923.9,342.5 924.7,342.5 925.6,343.0 C926.5,343.4 927.3,345.2 928.2,345.6 C929.1,346.1 929.9,345.6 930.8,345.6 C931.7,345.6 932.5,345.6 933.4,345.6 C934.3,345.6 935.1,345.6 936.0,345.6 C936.9,345.6 937.7,346.1 938.6,345.6 C939.5,345.2 940.3,343.0 941.2,343.0 C942.1,343.0 942.9,345.6 943.8,345.6 C944.7,345.6 945.5,343.4 946.4,343.0 C947.3,342.5 948.1,342.5 949.0,343.0 C949.9,343.4 950.7,345.2 951.6,345.6 C952.5,346.1 953.3,345.2 954.2,345.6 C955.1,346.1 955.9,347.9 956.8,348.3 C957.7,348.7 958.5,348.3 959.4,348.3 C960.3,348.3 961.1,348.3 962.0,348.3 C962.9,348.3 963.7,348.7 964.6,348.3 C965.5,347.9 966.3,345.6 967.2,345.6 C968.1,345.6 968.9,348.3 969.8,348.3 C970.7,348.3 971.5,346.1 972.4,345.6 C973.3,345.2 974.1,345.6 975.0,345.6 C975.9,345.6 976.7,345.6 977.6,345.6 C978.5,345.6 979.3,345.6 980.2,345.6 C981.1,345.6 981.9,345.6 982.8,345.6 C983.7,345.6 984.5,345.6 985.4,345.6 C986.3,345.6 987.1,345.6 988.0,345.6 C988.9,345.6 989.7,345.6 990.6,345.6 C991.5,345.6 992.3,345.6 993.2,345.6 C994.1,345.6 994.9,345.6 995.8,345.6 C996.7,345.6 997.5,345.6 998.4,345.6 C999.3,345.6 1000.1,345.6 1001.0,345.6 C1001.9,345.6 1002.7,345.6 1003.6,345.6 C1004.5,345.6 1005.3,345.6 1006.2,345.6 C1007.1,345.6 1007.9,345.6 1008.8,345.6 C1009.7,345.6 1010.5,345.2 1011.4,345.6 C1012.3,346.1 1013.1,347.9 1014.0,348.3 C1014.9,348.7 1015.7,348.7 1016.6,348.3 C1017.5,347.9 1018.3,346.1 1019.2,345.6 C1020.1,345.2 1020.9,345.6 1021.8,345.6 C1022.7,345.6 1023.5,345.2 1024.4,345.6 C1025.3,346.1 1026.1,347.9 1027.0,348.3 C1027.9,348.7 1028.7,348.3 1029.6,348.3 C1030.5,348.3 1031.3,347.9 1032.2,348.3 C1033.1,348.7 1033.9,350.5 1034.8,351.0 C1035.7,351.4 1036.5,351.0 1037.4,351.0 C1038.3,351.0 1039.1,351.4 1040.0,351.0 C1040.9,350.5 1041.7,348.7 1042.6,348.3 C1043.5,347.9 1044.3,348.3 1045.2,348.3 C1046.1,348.3 1046.9,348.3 1047.8,348.3 C1048.7,348.3 1049.5,348.3 1050.4,348.3 C1051.3,348.3 1052.1,348.3 1053.0,348.3 C1053.9,348.3 1054.7,348.3 1055.6,348.3 C1056.5,348.3 1057.3,348.3 1058.2,348.3 C1059.1,348.3 1059.9,348.3 1060.8,348.3 C1061.7,348.3 1062.5,348.3 1063.4,348.3 C1064.3,348.3 1065.1,348.3 1066.0,348.3 C1066.9,348.3 1067.7,348.3 1068.6,348.3 C1069.5,348.3 1070.3,348.3 1071.2,348.3 C1072.1,348.3 1072.9,348.3 1073.8,348.3 C1074.7,348.3 1075.5,348.3 1076.4,348.3 C1077.3,348.3 1078.1,348.3 1079.0,348.3 C1079.9,348.3 1080.7,348.3 1081.6,348.3 C1082.5,348.3 1083.3,348.3 1084.2,348.3 C1085.1,348.3 1085.9,347.9 1086.8,348.3 C1087.7,348.7 1088.5,351.0 1089.4,351.0 C1090.3,351.0 1091.1,348.3 1092.0,348.3 C1092.9,348.3 1093.7,350.5 1094.6,351.0 C1095.5,351.4 1096.3,351.0 1097.2,351.0 C1098.1,351.0 1098.9,351.0 1099.8,351.0 C1100.7,351.0 1101.5,351.4 1102.4,351.0 C1103.3,350.5 1104.1,348.7 1105.0,348.3 C1105.9,347.9 1106.7,348.3 1107.6,348.3 C1108.5,348.3 1109.3,348.3 1110.2,348.3 C1111.1,348.3 1111.9,348.3 1112.8,348.3 C1113.7,348.3 1114.5,348.3 1115.4,348.3 C1116.3,348.3 1117.1,347.9 1118.0,348.3 C1118.9,348.7 1119.7,350.5 1120.6,351.0 C1121.5,351.4 1122.3,351.0 1123.2,351.0 C1124.1,351.0 1124.9,351.0 1125.8,351.0 C1126.7,351.0 1127.5,351.0 1128.4,351.0 C1129.3,351.0 1130.1,351.0 1131.0,351.0 C1131.9,351.0 1132.7,351.0 1133.6,351.0 C1134.5,351.0 1135.3,351.0 1136.2,351.0 C1137.1,351.0 1137.9,351.0 1138.8,351.0 C1139.7,351.0 1140.5,351.0 1141.4,351.0 C1142.3,351.0 1143.1,351.0 1144.0,351.0 C1144.9,351.0 1145.7,351.0 1146.6,351.0 C1147.5,351.0 1148.3,351.0 1149.2,351.0 C1150.1,351.0 1150.9,351.0 1151.8,351.0 C1152.7,351.0 1153.5,351.4 1154.4,351.0 C1155.3,350.5 1156.1,348.3 1157.0,348.3 C1157.9,348.3 1158.7,350.5 1159.6,351.0 C1160.5,351.4 1161.3,351.4 1162.2,351.0 C1163.1,350.5 1163.9,348.3 1164.8,348.3 C1165.7,348.3 1166.5,350.5 1167.4,351.0 C1168.3,351.4 1169.1,350.5 1170.0,351.0 C1170.9,351.4 1171.7,353.2 1172.6,353.6 C1173.5,354.1 1174.3,353.6 1175.2,353.6 C1176.1,353.6 1176.9,353.6 1177.8,353.6 C1178.7,353.6 1179.5,353.6 1180.4,353.6 C1181.3,353.6 1182.1,354.1 1183.0,353.6 C1183.9,353.2 1184.7,351.4 1185.6,351.0 C1186.5,350.5 1187.3,351.0 1188.2,351.0 C1189.1,351.0 1189.9,351.0 1190.8,351.0 C1191.7,351.0 1192.5,351.0 1193.4,351.0 C1194.3,351.0 1195.1,351.0 1196.0,351.0 C1196.9,351.0 1197.7,350.5 1198.6,351.0 C1199.5,351.4 1200.3,353.2 1201.2,353.6 C1202.1,354.1 1202.9,353.6 1203.8,353.6 C1204.7,353.6 1206.0,353.6 1206.4,353.6' fill='none' stroke='#000' stroke-width='3.0' stroke-linejoin='round' stroke-linecap='round' filter='url(#soa)'/><path d='M162.8,429.8 C163.1,429.7 163.8,429.7 164.3,429.7 C164.8,429.7 165.3,429.7 165.8,429.7 C166.3,429.7 166.8,429.7 167.3,429.7 C167.8,429.7 168.3,429.7 168.8,429.7 C169.3,429.7 169.8,429.7 170.3,429.7 C170.8,429.7 171.3,429.7 171.8,429.7 C172.3,429.7 172.8,429.7 173.3,429.8 C173.8,430.0 174.3,430.1 174.8,430.4 C175.3,430.7 175.8,431.2 176.3,431.5 C176.8,431.8 177.3,432.0 177.8,432.2 C178.3,432.3 178.8,432.3 179.3,432.4 C179.8,432.4 180.3,432.4 180.8,432.4 C181.3,432.4 181.8,432.4 182.3,432.4 C182.8,432.4 183.3,432.4 183.8,432.3 C184.3,432.2 184.8,432.2 185.3,431.9 C185.8,431.7 186.3,431.3 186.8,431.0 C187.3,430.6 187.8,430.2 188.3,430.0 C188.8,429.8 189.3,429.8 189.8,429.8 C190.3,429.7 190.8,429.7 191.3,429.7 C191.8,429.7 192.3,429.7 192.8,429.7 C193.3,429.7 193.8,429.7 194.3,429.7 C194.8,429.7 195.3,429.7 195.8,429.7 C196.3,429.7 196.8,429.7 197.3,429.7 C197.8,429.7 198.3,429.7 198.8,429.7 C199.3,429.7 199.8,429.7 200.3,429.8 C200.8,430.0 201.3,430.1 201.8,430.4 C202.3,430.7 202.8,431.2 203.3,431.5 C203.8,431.8 204.3,432.1 204.8,432.2 C205.3,432.3 205.8,432.3 206.3,432.4 C206.8,432.4 207.3,432.4 207.8,432.4 C208.3,432.4 208.8,432.4 209.3,432.4 C209.8,432.4 210.3,432.4 210.8,432.3 C211.3,432.2 211.8,432.2 212.3,431.9 C212.8,431.7 213.3,431.3 213.8,430.9 C214.3,430.6 214.8,430.2 215.3,430.0 C215.8,429.8 216.3,429.8 216.8,429.8 C217.3,429.7 217.8,429.7 218.3,429.7 C218.8,429.7 219.3,429.7 219.8,429.7 C220.3,429.7 220.8,429.7 221.3,429.7 C221.8,429.7 222.3,429.7 222.8,429.7 C223.3,429.7 223.8,429.7 224.3,429.7 C224.8,429.7 225.3,429.7 225.8,429.7 C226.3,429.7 226.8,429.7 227.3,429.9 C227.8,430.0 228.3,430.2 228.8,430.4 C229.3,430.7 229.8,431.3 230.3,431.6 C230.8,431.8 231.3,432.1 231.8,432.2 C232.3,432.3 232.8,432.4 233.3,432.4 C233.8,432.4 234.3,432.4 234.8,432.4 C235.3,432.4 235.8,432.4 236.3,432.4 C236.8,432.4 237.3,432.4 237.8,432.3 C238.3,432.2 238.8,432.2 239.3,431.9 C239.8,431.7 240.3,431.2 240.8,430.9 C241.3,430.6 241.8,430.2 242.3,430.0 C242.8,429.8 243.3,429.8 243.8,429.8 C244.3,429.7 244.8,429.7 245.3,429.7 C245.8,429.7 246.3,429.7 246.8,429.7 C247.3,429.7 247.8,429.7 248.3,429.7 C248.8,429.7 249.3,429.7 249.8,429.7 C250.3,429.7 250.8,429.7 251.3,429.7 C251.8,429.7 252.3,429.7 252.8,429.7 C253.3,429.7 253.8,429.7 254.3,429.9 C254.8,430.0 255.3,430.2 255.8,430.5 C256.3,430.7 256.8,431.3 257.3,431.6 C257.8,431.9 258.3,432.1 258.8,432.2 C259.3,432.3 259.8,432.4 260.3,432.4 C260.8,432.4 261.3,432.4 261.8,432.4 C262.3,432.4 262.8,432.4 263.3,432.4 C263.8,432.4 264.3,432.4 264.8,432.3 C265.3,432.2 265.8,432.1 266.3,431.9 C266.8,431.7 267.3,431.2 267.8,430.9 C268.3,430.6 268.8,430.2 269.3,430.0 C269.8,429.8 270.3,429.8 270.8,429.7 C271.3,429.7 271.8,429.7 272.3,429.7 C272.8,429.7 273.3,429.7 273.8,429.7 C274.3,429.7 274.8,429.7 275.3,429.7 C275.8,429.7 276.3,429.7 276.8,429.7 C277.3,429.7 277.8,429.7 278.3,429.7 C278.8,429.7 279.3,429.7 279.8,429.7 C280.3,429.7 280.8,429.7 281.3,429.9 C281.8,430.0 282.3,430.2 282.8,430.5 C283.3,430.8 283.8,431.3 284.3,431.6 C284.8,431.9 285.3,432.1 285.8,432.2 C286.3,432.3 286.8,432.4 287.3,432.4 C287.8,432.4 288.3,432.4 288.8,432.4 C289.3,432.4 289.8,432.4 290.3,432.4 C290.8,432.4 291.3,432.4 291.8,432.3 C292.3,432.2 292.8,432.1 293.3,431.9 C293.8,431.6 294.3,431.2 294.8,430.9 C295.3,430.5 295.8,430.2 296.3,430.0 C296.8,429.8 297.3,429.8 297.8,429.7 C298.3,429.7 298.8,429.7 299.3,429.7 C299.8,429.7 300.3,429.7 300.8,429.7 C301.3,429.7 301.8,429.7 302.3,429.7 C302.8,429.7 303.3,429.7 303.8,429.7 C304.3,429.7 304.8,429.7 305.3,429.7 C305.8,429.7 306.3,429.7 306.8,429.7 C307.3,429.8 307.8,429.7 308.3,429.9 C308.8,430.0 309.3,430.2 309.8,430.5 C310.3,430.8 310.8,431.3 311.3,431.6 C311.8,431.9 312.3,432.1 312.8,432.2 C313.3,432.4 313.8,432.4 314.3,432.4 C314.8,432.4 315.3,432.4 315.8,432.4 C316.3,432.4 316.8,432.4 317.3,432.4 C317.8,432.4 318.3,432.4 318.8,432.3 C319.3,432.2 319.8,432.1 320.3,431.9 C320.8,431.6 321.3,431.2 321.8,430.8 C322.3,430.5 322.8,430.2 323.3,430.0 C323.8,429.8 324.3,429.8 324.8,429.7 C325.3,429.7 325.8,429.7 326.3,429.7 C326.8,429.7 327.3,429.7 327.8,429.7 C328.3,429.7 328.8,429.7 329.3,429.7 C329.8,429.7 330.3,429.7 330.8,429.7 C331.3,429.7 331.8,429.7 332.3,429.7 C332.8,429.7 333.3,429.7 333.8,429.7 C334.3,429.8 334.8,429.7 335.3,429.9 C335.8,430.0 336.3,430.2 336.8,430.5 C337.3,430.8 337.8,431.3 338.3,431.6 C338.8,431.9 339.3,432.1 339.8,432.2 C340.3,432.4 340.8,432.4 341.3,432.4 C341.8,432.4 342.3,432.4 342.8,432.4 C343.3,432.4 343.8,432.4 344.3,432.4 C344.8,432.4 345.3,432.4 345.8,432.3 C346.3,432.2 346.8,432.1 347.3,431.9 C347.8,431.6 348.3,431.1 348.8,430.8 C349.3,430.5 349.8,430.2 350.3,430.0 C350.8,429.8 351.3,429.8 351.8,429.7 C352.3,429.7 352.8,429.7 353.3,429.7 C353.8,429.7 354.3,429.7 354.8,429.7 C355.3,429.7 355.8,429.7 356.3,429.7 C356.8,429.7 357.3,429.7 357.8,429.7 C358.3,429.7 358.8,429.7 359.3,429.7 C359.8,429.7 360.3,429.7 360.8,429.7 C361.3,429.8 361.8,429.7 362.3,429.9 C362.8,430.0 363.3,430.2 363.8,430.5 C364.3,430.8 364.8,431.4 365.3,431.6 C365.8,431.9 366.3,432.1 366.8,432.2 C367.3,432.4 367.8,432.4 368.3,432.4 C368.8,432.4 369.3,432.4 369.8,432.4 C370.3,432.4 370.8,432.4 371.3,432.4 C371.8,432.4 372.3,432.4 372.8,432.3 C373.3,432.2 373.8,432.1 374.3,431.8 C374.8,431.6 375.3,431.1 375.8,430.8 C376.3,430.5 376.8,430.1 377.3,430.0 C377.8,429.8 378.3,429.8 378.8,429.7 C379.3,429.7 379.8,429.7 380.3,429.7 C380.8,429.7 381.3,429.7 381.8,429.7 C382.3,429.7 382.8,429.7 383.3,429.7 C383.8,429.7 384.3,429.7 384.8,429.7 C385.3,429.7 385.8,429.7 386.3,429.7 C386.8,429.7 387.3,429.7 387.8,429.7 C388.3,429.8 388.8,429.7 389.3,429.9 C389.8,430.0 390.3,430.3 390.8,430.6 C391.3,430.9 391.8,431.4 392.3,431.7 C392.8,431.9 393.3,432.1 393.8,432.2 C394.3,432.4 394.8,432.4 395.3,432.4 C395.8,432.4 396.3,432.4 396.8,432.4 C397.3,432.4 397.8,432.4 398.3,432.4 C398.8,432.4 399.3,432.4 399.8,432.3 C400.3,432.2 400.8,432.1 401.3,431.8 C401.8,431.6 402.3,431.1 402.8,430.8 C403.3,430.5 403.8,430.1 404.3,430.0 C404.8,429.8 405.3,429.8 405.8,429.7 C406.3,429.7 406.8,429.7 407.3,429.7 C407.8,429.7 408.3,429.7 408.8,429.7 C409.3,429.7 409.8,429.7 410.3,429.7 C410.8,429.7 411.3,429.7 411.8,429.7 C412.3,429.7 412.8,429.7 413.3,429.7 C413.8,429.7 414.3,429.7 414.8,429.7 C415.3,429.8 415.8,429.8 416.3,429.9 C416.8,430.0 417.3,430.3 417.8,430.6 C418.3,430.9 418.8,431.4 419.3,431.7 C419.8,432.0 420.3,432.1 420.8,432.2 C421.3,432.4 421.8,432.4 422.3,432.4 C422.8,432.4 423.3,432.4 423.8,432.4 C424.3,432.4 424.8,432.4 425.3,432.4 C425.8,432.4 426.3,432.4 426.8,432.3 C427.3,432.2 427.8,432.1 428.3,431.8 C428.8,431.6 429.3,431.1 429.8,430.7 C430.3,430.4 430.8,430.1 431.3,430.0 C431.8,429.8 432.3,429.8 432.8,429.7 C433.3,429.7 433.8,429.7 434.3,429.7 C434.8,429.7 435.3,429.7 435.8,429.7 C436.3,429.7 436.8,429.7 437.3,429.7 C437.8,429.7 438.3,429.7 438.8,429.7 C439.3,429.7 439.8,429.7 440.3,429.7 C440.8,429.7 441.3,429.7 441.8,429.7 C442.3,429.8 442.8,429.8 443.3,429.9 C443.8,430.0 444.3,430.3 444.8,430.6 C445.3,430.9 445.8,431.4 446.3,431.7 C446.8,432.0 447.3,432.1 447.8,432.3 C448.3,432.4 448.8,432.4 449.3,432.4 C449.8,432.4 450.3,432.4 450.8,432.4 C451.3,432.4 451.8,432.4 452.3,432.4 C452.8,432.4 453.3,432.4 453.8,432.3 C454.3,432.2 454.8,432.1 455.3,431.8 C455.8,431.5 456.3,431.0 456.8,430.7 C457.3,430.4 457.8,430.1 458.3,429.9 C458.8,429.8 459.3,429.8 459.8,429.7 C460.3,429.7 460.8,429.7 461.3,429.7 C461.8,429.7 462.3,429.7 462.8,429.7 C463.3,429.7 463.8,429.7 464.3,429.7 C464.8,429.7 465.3,429.7 465.8,429.7 C466.3,429.7 466.8,429.7 467.3,429.7 C467.8,429.7 468.3,429.7 468.8,429.7 C469.3,429.8 469.8,429.8 470.3,429.9 C470.8,430.1 471.3,430.3 471.8,430.6 C472.3,430.9 472.8,431.4 473.3,431.7 C473.8,432.0 474.3,432.1 474.8,432.3 C475.3,432.4 475.8,432.4 476.3,432.4 C476.8,432.4 477.3,432.4 477.8,432.4 C478.3,432.4 478.8,432.4 479.3,432.4 C479.8,432.4 480.3,432.4 480.8,432.3 C481.3,432.2 481.8,432.0 482.3,431.8 C482.8,431.5 483.3,431.0 483.8,430.7 C484.3,430.4 484.8,430.1 485.3,429.9 C485.8,429.8 486.3,429.8 486.8,429.7 C487.3,429.7 487.8,429.7 488.3,429.7 C488.8,429.7 489.3,429.7 489.8,429.7 C490.3,429.7 490.3,429.5 491.3,429.7 C492.3,429.8 493.9,431.4 496.0,430.6 C498.1,429.8 501.9,427.8 504.0,424.9 C506.1,422.0 507.2,418.0 508.4,413.1 C509.6,408.2 510.6,401.5 511.3,395.4 C512.0,389.2 512.4,389.2 512.8,376.2 C513.2,363.1 513.2,339.2 513.5,317.1 C513.8,295.0 514.0,265.4 514.3,243.3 C514.6,221.2 515.1,201.5 515.5,184.3 C515.9,167.1 516.1,157.4 516.5,140.0 C516.9,122.6 517.2,94.3 517.6,80.0 C518.0,65.7 518.3,57.4 518.6,54.1 C518.9,50.8 519.2,52.4 519.6,60.0 C520.0,67.7 520.5,86.7 521.0,100.0 C521.5,113.3 522.0,130.8 522.5,140.0 C523.0,149.2 523.4,154.7 524.0,155.5 C524.6,156.3 525.4,150.1 526.0,145.0 C526.6,139.9 527.0,129.5 527.5,125.0 C528.0,120.5 528.3,119.6 529.2,117.9 C530.1,116.2 531.9,117.2 533.1,115.0 C534.3,112.8 535.5,108.3 536.5,105.0 C537.5,101.7 538.0,97.4 539.0,95.0 C540.0,92.6 541.5,91.3 542.8,90.8 C544.0,90.3 545.2,91.0 546.5,92.0 C547.8,93.0 549.2,94.4 550.5,96.6 C551.8,98.8 552.7,101.6 554.0,105.0 C555.3,108.4 556.4,113.5 558.2,116.9 C560.0,120.3 562.3,123.0 565.0,125.6 C567.7,128.2 571.4,131.2 574.6,132.3 C577.8,133.4 581.7,131.5 584.3,132.3 C586.9,133.1 587.8,134.9 590.0,137.0 C592.2,139.1 595.2,143.4 597.8,144.9 C600.4,146.4 601.5,144.3 605.5,145.9 C609.5,147.5 617.9,153.7 621.9,154.5 C625.9,155.3 626.9,150.2 629.6,150.7 C632.3,151.2 636.0,156.4 638.3,157.4 C640.6,158.4 640.8,155.2 643.2,156.5 C645.6,157.8 650.2,164.7 652.8,165.2 C655.4,165.7 656.2,159.9 658.6,159.4 C661.0,158.9 664.4,161.3 667.3,162.3 C670.2,163.3 673.4,164.6 676.0,165.5 C678.6,166.4 681.4,167.5 682.7,168.0 C684.1,168.5 683.4,167.1 684.1,168.3 C684.8,169.5 685.9,170.1 687.0,175.1 C688.1,180.1 689.7,192.8 690.9,198.3 C692.1,203.8 692.7,205.1 694.0,208.0 C695.3,210.9 696.9,215.0 698.6,215.6 C700.3,216.2 702.3,215.0 704.4,211.8 C706.5,208.6 708.6,198.9 711.2,196.3 C713.8,193.7 716.9,195.0 719.9,196.3 C722.9,197.6 726.8,203.1 729.5,204.1 C732.2,205.1 733.7,201.5 736.3,202.1 C738.9,202.7 741.6,205.8 745.0,207.9 C748.4,210.0 753.5,213.9 756.5,214.7 C759.5,215.5 760.1,211.7 763.3,212.8 C766.5,213.9 772.2,219.2 775.9,221.4 C779.6,223.7 782.3,225.2 785.5,226.3 C788.7,227.4 791.7,227.4 795.2,228.2 C798.7,229.0 802.9,230.1 806.7,231.1 C810.6,232.1 815.1,232.7 818.3,234.0 C821.5,235.3 824.1,238.3 826.0,238.8 C827.9,239.3 828.0,236.9 829.9,236.9 C831.8,236.9 834.7,238.0 837.6,238.8 C840.5,239.6 844.1,242.0 847.3,241.7 C850.5,241.4 854.4,237.2 857.0,236.9 C859.6,236.6 860.8,238.2 862.7,239.8 C864.6,241.4 866.9,245.4 868.5,246.5 C870.1,247.6 869.5,245.5 872.4,246.5 C875.3,247.5 883.0,251.5 885.9,252.3 C888.8,253.1 888.2,252.1 890.0,251.5 C891.8,250.9 893.4,248.5 896.4,248.9 C899.4,249.3 903.9,252.7 908.0,254.1 C912.1,255.5 916.4,256.7 920.9,257.2 C925.4,257.7 931.7,256.6 935.1,257.2 C938.5,257.8 938.7,259.9 941.5,260.5 C944.3,261.1 947.5,259.5 951.8,260.5 C956.1,261.5 963.8,266.0 967.2,266.4 C970.6,266.8 970.5,263.1 972.4,263.1 C974.3,263.1 972.8,265.8 978.8,266.4 C984.8,266.9 1002.4,266.1 1008.4,266.4 C1014.4,266.7 1010.6,267.9 1014.9,268.2 C1019.2,268.5 1029.3,267.2 1034.2,268.2 C1039.1,269.1 1041.7,273.4 1044.5,273.9 C1047.3,274.4 1048.3,271.3 1050.9,271.3 C1053.5,271.3 1057.3,273.0 1059.9,273.9 C1062.5,274.8 1064.5,276.5 1066.4,276.5 C1068.3,276.5 1064.8,274.3 1071.5,273.9 C1078.2,273.5 1099.2,274.4 1106.3,273.9 C1113.4,273.4 1108.8,271.3 1114.0,270.8 C1119.2,270.3 1131.8,271.4 1137.2,270.8 C1142.6,270.2 1143.2,267.4 1146.2,267.5 C1149.2,267.6 1152.9,271.2 1155.2,271.3 C1157.5,271.4 1157.7,268.7 1160.3,268.2 C1162.9,267.7 1167.8,268.6 1170.6,268.2 C1173.4,267.8 1171.0,266.1 1177.1,265.7 C1183.2,265.3 1202.1,265.7 1207.1,265.7' fill='none' stroke='#000' stroke-width='3.2' stroke-linejoin='round' stroke-linecap='round' filter='url(#soa)'/>
<polyline points='162.8,439.3 575.0,439.3' fill='none' stroke='#5B9BD5' stroke-width='2.4' stroke-linejoin='round' stroke-linecap='round'/>
<polyline points='162.8,440.0 1207.1,440.0' fill='none' stroke='#ED7D31' stroke-width='1.8' stroke-linejoin='round' stroke-linecap='round'/>
<polyline points='162.8,438.6 560.0,438.6' fill='none' stroke='#70AD47' stroke-width='2.8' stroke-linejoin='round' stroke-linecap='round'/>
<path d='M162.8,438.7 C163.2,438.7 164.5,438.7 165.4,438.7 C166.3,438.7 167.1,438.7 168.0,438.7 C168.9,438.7 169.7,438.7 170.6,438.7 C171.5,438.7 172.3,438.7 173.2,438.7 C174.1,438.7 174.9,438.7 175.8,438.7 C176.7,438.7 177.5,438.7 178.4,438.7 C179.3,438.7 180.1,438.7 181.0,438.7 C181.9,438.7 182.7,438.7 183.6,438.7 C184.5,438.7 185.3,438.7 186.2,438.7 C187.1,438.7 187.9,438.7 188.8,438.7 C189.7,438.7 190.5,438.7 191.4,438.7 C192.3,438.7 193.1,438.7 194.0,438.7 C194.9,438.7 195.7,438.7 196.6,438.7 C197.5,438.7 198.3,438.7 199.2,438.7 C200.1,438.7 200.9,438.7 201.8,438.7 C202.7,438.7 203.5,438.7 204.4,438.7 C205.3,438.7 206.1,438.7 207.0,438.7 C207.9,438.7 208.7,438.7 209.6,438.7 C210.5,438.7 211.3,438.7 212.2,438.7 C213.1,438.7 213.9,438.7 214.8,438.7 C215.7,438.7 216.5,438.7 217.4,438.7 C218.3,438.7 219.1,438.7 220.0,438.7 C220.9,438.7 221.7,438.7 222.6,438.7 C223.5,438.7 224.3,438.7 225.2,438.7 C226.1,438.7 226.9,438.7 227.8,438.7 C228.7,438.7 229.5,438.7 230.4,438.7 C231.3,438.7 232.1,438.7 233.0,438.7 C233.9,438.7 234.7,438.7 235.6,438.7 C236.5,438.7 237.3,438.7 238.2,438.7 C239.1,438.7 239.9,438.7 240.8,438.7 C241.7,438.7 242.5,438.7 243.4,438.7 C244.3,438.7 245.1,438.7 246.0,438.7 C246.9,438.7 247.7,438.7 248.6,438.7 C249.5,438.7 250.3,438.7 251.2,438.7 C252.1,438.7 252.9,438.7 253.8,438.7 C254.7,438.7 255.5,438.7 256.4,438.7 C257.3,438.7 258.1,438.7 259.0,438.7 C259.9,438.7 260.7,438.7 261.6,438.7 C262.5,438.7 263.3,438.7 264.2,438.7 C265.1,438.7 265.9,438.7 266.8,438.7 C267.7,438.7 268.5,438.7 269.4,438.7 C270.3,438.7 271.1,438.7 272.0,438.7 C272.9,438.7 273.7,438.7 274.6,438.7 C275.5,438.7 276.3,438.7 277.2,438.7 C278.1,438.7 278.9,438.7 279.8,438.7 C280.7,438.7 281.5,438.7 282.4,438.7 C283.3,438.7 284.1,438.7 285.0,438.7 C285.9,438.7 286.7,438.7 287.6,438.7 C288.5,438.7 289.3,438.7 290.2,438.7 C291.1,438.7 291.9,438.7 292.8,438.7 C293.7,438.7 294.5,438.7 295.4,438.7 C296.3,438.7 297.1,438.7 298.0,438.7 C298.9,438.7 299.7,438.7 300.6,438.7 C301.5,438.7 302.3,438.7 303.2,438.7 C304.1,438.7 304.9,438.7 305.8,438.7 C306.7,438.7 307.5,438.7 308.4,438.7 C309.3,438.7 310.1,438.7 311.0,438.7 C311.9,438.7 312.7,438.7 313.6,438.7 C314.5,438.7 315.3,438.7 316.2,438.7 C317.1,438.7 317.9,438.7 318.8,438.7 C319.7,438.7 320.5,438.7 321.4,438.7 C322.3,438.7 323.1,439.1 324.0,438.7 C324.9,438.3 325.7,436.0 326.6,436.0 C327.5,436.0 328.3,438.3 329.2,438.7 C330.1,439.1 330.9,438.7 331.8,438.7 C332.7,438.7 333.5,438.7 334.4,438.7 C335.3,438.7 336.1,438.7 337.0,438.7 C337.9,438.7 338.7,438.7 339.6,438.7 C340.5,438.7 341.3,438.7 342.2,438.7 C343.1,438.7 343.9,438.7 344.8,438.7 C345.7,438.7 346.5,438.7 347.4,438.7 C348.3,438.7 349.1,438.7 350.0,438.7 C350.9,438.7 351.7,438.7 352.6,438.7 C353.5,438.7 354.3,438.7 355.2,438.7 C356.1,438.7 356.9,438.7 357.8,438.7 C358.7,438.7 359.5,438.7 360.4,438.7 C361.3,438.7 362.1,438.7 363.0,438.7 C363.9,438.7 364.7,438.7 365.6,438.7 C366.5,438.7 367.3,438.7 368.2,438.7 C369.1,438.7 369.9,438.7 370.8,438.7 C371.7,438.7 372.5,438.7 373.4,438.7 C374.3,438.7 375.1,438.7 376.0,438.7 C376.9,438.7 377.7,438.7 378.6,438.7 C379.5,438.7 380.3,438.7 381.2,438.7 C382.1,438.7 382.9,438.7 383.8,438.7 C384.7,438.7 385.5,438.7 386.4,438.7 C387.3,438.7 388.1,439.1 389.0,438.7 C389.9,438.3 390.7,436.0 391.6,436.0 C392.5,436.0 393.3,438.3 394.2,438.7 C395.1,439.1 395.9,438.7 396.8,438.7 C397.7,438.7 398.5,438.7 399.4,438.7 C400.3,438.7 401.1,438.7 402.0,438.7 C402.9,438.7 403.7,438.7 404.6,438.7 C405.5,438.7 406.3,438.7 407.2,438.7 C408.1,438.7 408.9,438.7 409.8,438.7 C410.7,438.7 411.5,438.7 412.4,438.7 C413.3,438.7 414.1,438.7 415.0,438.7 C415.9,438.7 416.7,438.7 417.6,438.7 C418.5,438.7 419.3,438.7 420.2,438.7 C421.1,438.7 421.9,438.7 422.8,438.7 C423.7,438.7 424.5,438.7 425.4,438.7 C426.3,438.7 427.1,438.7 428.0,438.7 C428.9,438.7 429.7,438.7 430.6,438.7 C431.5,438.7 432.3,438.7 433.2,438.7 C434.1,438.7 434.9,438.7 435.8,438.7 C436.7,438.7 437.5,438.7 438.4,438.7 C439.3,438.7 440.1,438.7 441.0,438.7 C441.9,438.7 442.7,438.7 443.6,438.7 C444.5,438.7 445.3,438.7 446.2,438.7 C447.1,438.7 447.9,438.7 448.8,438.7 C449.7,438.7 450.5,438.7 451.4,438.7 C452.3,438.7 453.1,438.7 454.0,438.7 C454.9,438.7 455.7,438.7 456.6,438.7 C457.5,438.7 458.3,438.7 459.2,438.7 C460.1,438.7 460.9,438.7 461.8,438.7 C462.7,438.7 463.5,438.7 464.4,438.7 C465.3,438.7 466.1,438.7 467.0,438.7 C467.9,438.7 468.7,438.7 469.6,438.7 C470.5,438.7 471.3,438.7 472.2,438.7 C473.1,438.7 473.9,438.7 474.8,438.7 C475.7,438.7 476.5,438.7 477.4,438.7 C478.3,438.7 479.1,438.7 480.0,438.7 C480.9,438.7 481.7,438.7 482.6,438.7 C483.5,438.7 484.3,438.7 485.2,438.7 C486.1,438.7 486.9,438.7 487.8,438.7 C488.7,438.7 489.5,438.7 490.4,438.7 C491.3,438.7 492.1,438.7 493.0,438.7 C493.9,438.7 494.7,438.7 495.6,438.7 C496.5,438.7 497.3,438.7 498.2,438.7 C499.1,438.7 499.9,438.7 500.8,438.7 C501.7,438.7 502.5,438.7 503.4,438.7 C504.3,438.7 505.1,439.1 506.0,438.7 C506.9,438.3 507.7,436.0 508.6,436.0 C509.5,436.0 510.3,438.3 511.2,438.7 C512.1,439.1 512.9,438.7 513.8,438.7 C514.7,438.7 515.5,438.7 516.4,438.7 C517.3,438.7 518.1,438.7 519.0,438.7 C519.9,438.7 520.7,438.7 521.6,438.7 C522.5,438.7 523.3,438.7 524.2,438.7 C525.1,438.7 525.9,438.7 526.8,438.7 C527.7,438.7 528.5,438.7 529.4,438.7 C530.3,438.7 531.1,438.7 532.0,438.7 C532.9,438.7 533.7,438.7 534.6,438.7 C535.5,438.7 536.3,438.7 537.2,438.7 C538.1,438.7 538.9,438.7 539.8,438.7 C540.7,438.7 541.5,438.7 542.4,438.7 C543.3,438.7 544.1,438.7 545.0,438.7 C545.9,438.7 546.7,438.7 547.6,438.7 C548.5,438.7 549.3,438.7 550.2,438.7 C551.1,438.7 551.9,438.7 552.8,438.7 C553.7,438.7 554.5,438.7 555.4,438.7 C556.3,438.7 557.1,438.7 558.0,438.7 C558.9,438.7 559.7,438.7 560.6,438.7 C561.5,438.7 562.3,439.1 563.2,438.7 C564.1,438.3 564.9,436.5 565.8,436.0 C566.7,435.6 567.5,436.0 568.4,436.0 C569.3,436.0 570.1,436.0 571.0,436.0 C571.9,436.0 572.7,436.0 573.6,436.0 C574.5,436.0 575.3,436.5 576.2,436.0 C577.1,435.6 577.9,433.8 578.8,433.4 C579.7,432.9 580.5,433.4 581.4,433.4 C582.3,433.4 583.1,433.8 584.0,433.4 C584.9,432.9 585.7,431.2 586.6,430.7 C587.5,430.3 588.3,431.2 589.2,430.7 C590.1,430.3 590.9,428.5 591.8,428.1 C592.7,427.6 593.5,428.1 594.4,428.1 C595.3,428.1 596.1,428.1 597.0,428.1 C597.9,428.1 598.7,428.5 599.6,428.1 C600.5,427.6 601.3,426.3 602.2,425.4 C603.1,424.5 603.9,423.2 604.8,422.7 C605.7,422.3 606.5,423.2 607.4,422.7 C608.3,422.3 609.1,420.5 610.0,420.1 C610.9,419.6 611.7,420.5 612.6,420.1 C613.5,419.6 614.3,417.9 615.2,417.4 C616.1,417.0 616.9,417.9 617.8,417.4 C618.7,417.0 619.5,415.2 620.4,414.8 C621.3,414.3 622.1,415.2 623.0,414.8 C623.9,414.3 624.7,413.0 625.6,412.1 C626.5,411.2 627.3,410.3 628.2,409.5 C629.1,408.6 629.9,407.7 630.8,406.8 C631.7,405.9 632.5,404.6 633.4,404.1 C634.3,403.7 635.1,404.6 636.0,404.1 C636.9,403.7 637.7,402.4 638.6,401.5 C639.5,400.6 640.3,399.7 641.2,398.8 C642.1,397.9 642.9,397.0 643.8,396.2 C644.7,395.3 645.5,394.8 646.4,393.5 C647.3,392.2 648.1,389.5 649.0,388.2 C649.9,386.8 650.7,386.4 651.6,385.5 C652.5,384.6 653.3,384.2 654.2,382.9 C655.1,381.5 655.9,378.9 656.8,377.5 C657.7,376.2 658.5,375.8 659.4,374.9 C660.3,374.0 661.1,373.6 662.0,372.2 C662.9,370.9 663.7,368.7 664.6,366.9 C665.5,365.1 666.3,363.4 667.2,361.6 C668.1,359.8 668.9,358.0 669.8,356.3 C670.7,354.5 671.5,352.3 672.4,351.0 C673.3,349.6 674.1,350.1 675.0,348.3 C675.9,346.5 676.7,342.5 677.6,340.3 C678.5,338.1 679.3,336.3 680.2,335.0 C681.1,333.7 681.9,333.7 682.8,332.3 C683.7,331.0 684.5,328.8 685.4,327.0 C686.3,325.2 687.1,322.6 688.0,321.7 C688.9,320.8 689.7,322.1 690.6,321.7 C691.5,321.3 692.3,319.5 693.2,319.0 C694.1,318.6 694.9,319.0 695.8,319.0 C696.7,319.0 697.5,319.0 698.4,319.0 C699.3,319.0 700.1,318.6 701.0,319.0 C701.9,319.5 702.7,321.3 703.6,321.7 C704.5,322.1 705.3,321.3 706.2,321.7 C707.1,322.1 707.9,323.5 708.8,324.4 C709.7,325.2 710.5,326.1 711.4,327.0 C712.3,327.9 713.1,329.2 714.0,329.7 C714.9,330.1 715.7,329.2 716.6,329.7 C717.5,330.1 718.3,331.9 719.2,332.3 C720.1,332.8 720.9,332.3 721.8,332.3 C722.7,332.3 723.5,332.3 724.4,332.3 C725.3,332.3 726.1,331.9 727.0,332.3 C727.9,332.8 728.7,334.6 729.6,335.0 C730.5,335.4 731.3,334.6 732.2,335.0 C733.1,335.4 733.9,337.2 734.8,337.7 C735.7,338.1 736.5,337.7 737.4,337.7 C738.3,337.7 739.1,337.7 740.0,337.7 C740.9,337.7 741.7,337.7 742.6,337.7 C743.5,337.7 744.3,337.7 745.2,337.7 C746.1,337.7 746.9,337.7 747.8,337.7 C748.7,337.7 749.5,337.2 750.4,337.7 C751.3,338.1 752.1,339.9 753.0,340.3 C753.9,340.8 754.7,340.3 755.6,340.3 C756.5,340.3 757.3,340.3 758.2,340.3 C759.1,340.3 759.9,340.3 760.8,340.3 C761.7,340.3 762.5,340.3 763.4,340.3 C764.3,340.3 765.1,340.3 766.0,340.3 C766.9,340.3 767.7,340.3 768.6,340.3 C769.5,340.3 770.3,340.3 771.2,340.3 C772.1,340.3 772.9,340.3 773.8,340.3 C774.7,340.3 775.5,339.9 776.4,340.3 C777.3,340.8 778.1,343.0 779.0,343.0 C779.9,343.0 780.7,340.3 781.6,340.3 C782.5,340.3 783.3,342.5 784.2,343.0 C785.1,343.4 785.9,343.4 786.8,343.0 C787.7,342.5 788.5,340.3 789.4,340.3 C790.3,340.3 791.1,342.5 792.0,343.0 C792.9,343.4 793.7,343.0 794.6,343.0 C795.5,343.0 796.3,343.0 797.2,343.0 C798.1,343.0 798.9,343.0 799.8,343.0 C800.7,343.0 801.5,343.0 802.4,343.0 C803.3,343.0 804.1,343.0 805.0,343.0 C805.9,343.0 806.7,343.0 807.6,343.0 C808.5,343.0 809.3,343.0 810.2,343.0 C811.1,343.0 811.9,342.5 812.8,343.0 C813.7,343.4 814.5,345.6 815.4,345.6 C816.3,345.6 817.1,343.4 818.0,343.0 C818.9,342.5 819.7,342.5 820.6,343.0 C821.5,343.4 822.3,345.2 823.2,345.6 C824.1,346.1 824.9,345.6 825.8,345.6 C826.7,345.6 827.5,345.6 828.4,345.6 C829.3,345.6 830.1,345.6 831.0,345.6 C831.9,345.6 832.7,345.6 833.6,345.6 C834.5,345.6 835.3,345.6 836.2,345.6 C837.1,345.6 837.9,345.6 838.8,345.6 C839.7,345.6 840.5,345.6 841.4,345.6 C842.3,345.6 843.1,345.6 844.0,345.6 C844.9,345.6 845.7,345.6 846.6,345.6 C847.5,345.6 848.3,345.2 849.2,345.6 C850.1,346.1 850.9,348.3 851.8,348.3 C852.7,348.3 853.5,346.1 854.4,345.6 C855.3,345.2 856.1,345.6 857.0,345.6 C857.9,345.6 858.7,345.2 859.6,345.6 C860.5,346.1 861.3,348.3 862.2,348.3 C863.1,348.3 863.9,345.6 864.8,345.6 C865.7,345.6 866.5,347.9 867.4,348.3 C868.3,348.7 869.1,348.7 870.0,348.3 C870.9,347.9 871.7,346.1 872.6,345.6 C873.5,345.2 874.3,345.2 875.2,345.6 C876.1,346.1 876.9,348.3 877.8,348.3 C878.7,348.3 879.5,345.6 880.4,345.6 C881.3,345.6 882.1,348.3 883.0,348.3 C883.9,348.3 884.7,345.6 885.6,345.6 C886.5,345.6 887.3,347.9 888.2,348.3 C889.1,348.7 889.9,348.3 890.8,348.3 C891.7,348.3 892.5,348.3 893.4,348.3 C894.3,348.3 895.1,348.3 896.0,348.3 C896.9,348.3 897.7,348.3 898.6,348.3 C899.5,348.3 900.3,348.3 901.2,348.3 C902.1,348.3 902.9,348.3 903.8,348.3 C904.7,348.3 905.5,348.3 906.4,348.3 C907.3,348.3 908.1,348.3 909.0,348.3 C909.9,348.3 910.7,348.3 911.6,348.3 C912.5,348.3 913.3,348.3 914.2,348.3 C915.1,348.3 915.9,348.3 916.8,348.3 C917.7,348.3 918.5,348.3 919.4,348.3 C920.3,348.3 921.1,348.3 922.0,348.3 C922.9,348.3 923.7,348.3 924.6,348.3 C925.5,348.3 926.3,348.3 927.2,348.3 C928.1,348.3 928.9,348.3 929.8,348.3 C930.7,348.3 931.5,348.3 932.4,348.3 C933.3,348.3 934.1,348.3 935.0,348.3 C935.9,348.3 936.7,348.3 937.6,348.3 C938.5,348.3 939.3,348.3 940.2,348.3 C941.1,348.3 941.9,348.3 942.8,348.3 C943.7,348.3 944.5,348.3 945.4,348.3 C946.3,348.3 947.1,348.3 948.0,348.3 C948.9,348.3 949.7,348.3 950.6,348.3 C951.5,348.3 952.3,347.9 953.2,348.3 C954.1,348.7 954.9,351.0 955.8,351.0 C956.7,351.0 957.5,348.7 958.4,348.3 C959.3,347.9 960.1,347.9 961.0,348.3 C961.9,348.7 962.7,351.0 963.6,351.0 C964.5,351.0 965.3,348.3 966.2,348.3 C967.1,348.3 967.9,351.0 968.8,351.0 C969.7,351.0 970.5,348.3 971.4,348.3 C972.3,348.3 973.1,350.5 974.0,351.0 C974.9,351.4 975.7,351.0 976.6,351.0 C977.5,351.0 978.3,351.0 979.2,351.0 C980.1,351.0 980.9,351.0 981.8,351.0 C982.7,351.0 983.5,351.4 984.4,351.0 C985.3,350.5 986.1,348.3 987.0,348.3 C987.9,348.3 988.7,350.5 989.6,351.0 C990.5,351.4 991.3,351.0 992.2,351.0 C993.1,351.0 993.9,351.0 994.8,351.0 C995.7,351.0 996.5,351.0 997.4,351.0 C998.3,351.0 999.1,351.0 1000.0,351.0 C1000.9,351.0 1001.7,351.0 1002.6,351.0 C1003.5,351.0 1004.3,351.0 1005.2,351.0 C1006.1,351.0 1006.9,351.0 1007.8,351.0 C1008.7,351.0 1009.5,351.0 1010.4,351.0 C1011.3,351.0 1012.1,351.0 1013.0,351.0 C1013.9,351.0 1014.7,351.0 1015.6,351.0 C1016.5,351.0 1017.3,351.0 1018.2,351.0 C1019.1,351.0 1019.9,351.0 1020.8,351.0 C1021.7,351.0 1022.5,351.0 1023.4,351.0 C1024.3,351.0 1025.1,351.0 1026.0,351.0 C1026.9,351.0 1027.7,351.0 1028.6,351.0 C1029.5,351.0 1030.3,351.0 1031.2,351.0 C1032.1,351.0 1032.9,351.0 1033.8,351.0 C1034.7,351.0 1035.5,351.0 1036.4,351.0 C1037.3,351.0 1038.1,350.5 1039.0,351.0 C1039.9,351.4 1040.7,353.6 1041.6,353.6 C1042.5,353.6 1043.3,351.4 1044.2,351.0 C1045.1,350.5 1045.9,351.0 1046.8,351.0 C1047.7,351.0 1048.5,351.0 1049.4,351.0 C1050.3,351.0 1051.1,350.5 1052.0,351.0 C1052.9,351.4 1053.7,353.2 1054.6,353.6 C1055.5,354.1 1056.3,354.1 1057.2,353.6 C1058.1,353.2 1058.9,351.4 1059.8,351.0 C1060.7,350.5 1061.5,350.5 1062.4,351.0 C1063.3,351.4 1064.1,353.2 1065.0,353.6 C1065.9,354.1 1066.7,354.1 1067.6,353.6 C1068.5,353.2 1069.3,351.0 1070.2,351.0 C1071.1,351.0 1071.9,353.2 1072.8,353.6 C1073.7,354.1 1074.5,353.6 1075.4,353.6 C1076.3,353.6 1077.1,353.6 1078.0,353.6 C1078.9,353.6 1079.7,353.6 1080.6,353.6 C1081.5,353.6 1082.3,353.6 1083.2,353.6 C1084.1,353.6 1084.9,353.6 1085.8,353.6 C1086.7,353.6 1087.5,353.6 1088.4,353.6 C1089.3,353.6 1090.1,353.6 1091.0,353.6 C1091.9,353.6 1092.7,353.6 1093.6,353.6 C1094.5,353.6 1095.3,353.6 1096.2,353.6 C1097.1,353.6 1097.9,353.6 1098.8,353.6 C1099.7,353.6 1100.5,353.6 1101.4,353.6 C1102.3,353.6 1103.1,353.6 1104.0,353.6 C1104.9,353.6 1105.7,353.6 1106.6,353.6 C1107.5,353.6 1108.3,353.6 1109.2,353.6 C1110.1,353.6 1110.9,353.6 1111.8,353.6 C1112.7,353.6 1113.5,353.6 1114.4,353.6 C1115.3,353.6 1116.1,353.6 1117.0,353.6 C1117.9,353.6 1118.7,353.6 1119.6,353.6 C1120.5,353.6 1121.3,353.6 1122.2,353.6 C1123.1,353.6 1123.9,353.6 1124.8,353.6 C1125.7,353.6 1126.5,353.2 1127.4,353.6 C1128.3,354.1 1129.1,356.3 1130.0,356.3 C1130.9,356.3 1131.7,354.1 1132.6,353.6 C1133.5,353.2 1134.3,353.6 1135.2,353.6 C1136.1,353.6 1136.9,353.6 1137.8,353.6 C1138.7,353.6 1139.5,353.6 1140.4,353.6 C1141.3,353.6 1142.1,353.6 1143.0,353.6 C1143.9,353.6 1144.7,353.6 1145.6,353.6 C1146.5,353.6 1147.3,353.6 1148.2,353.6 C1149.1,353.6 1149.9,353.6 1150.8,353.6 C1151.7,353.6 1152.5,353.2 1153.4,353.6 C1154.3,354.1 1155.1,356.3 1156.0,356.3 C1156.9,356.3 1157.7,353.6 1158.6,353.6 C1159.5,353.6 1160.3,356.3 1161.2,356.3 C1162.1,356.3 1162.9,353.6 1163.8,353.6 C1164.7,353.6 1165.5,355.8 1166.4,356.3 C1167.3,356.7 1168.1,356.3 1169.0,356.3 C1169.9,356.3 1170.7,356.7 1171.6,356.3 C1172.5,355.8 1173.3,353.6 1174.2,353.6 C1175.1,353.6 1175.9,355.8 1176.8,356.3 C1177.7,356.7 1178.5,356.3 1179.4,356.3 C1180.3,356.3 1181.1,356.3 1182.0,356.3 C1182.9,356.3 1183.7,356.3 1184.6,356.3 C1185.5,356.3 1186.3,356.3 1187.2,356.3 C1188.1,356.3 1188.9,356.3 1189.8,356.3 C1190.7,356.3 1191.5,356.3 1192.4,356.3 C1193.3,356.3 1194.1,356.3 1195.0,356.3 C1195.9,356.3 1196.7,356.3 1197.6,356.3 C1198.5,356.3 1199.3,356.3 1200.2,356.3 C1201.1,356.3 1201.9,356.3 1202.8,356.3 C1203.7,356.3 1205.0,356.3 1205.4,356.3' fill='none' stroke='#A5A5A5' stroke-width='3.0' stroke-linejoin='round' stroke-linecap='round'/>
<path d='M162.8,438.7 C163.2,438.7 164.5,438.3 165.4,438.7 C166.3,439.1 167.1,441.4 168.0,441.4 C168.9,441.4 169.7,439.1 170.6,438.7 C171.5,438.3 172.3,438.7 173.2,438.7 C174.1,438.7 174.9,438.7 175.8,438.7 C176.7,438.7 177.5,438.7 178.4,438.7 C179.3,438.7 180.1,438.7 181.0,438.7 C181.9,438.7 182.7,438.7 183.6,438.7 C184.5,438.7 185.3,438.7 186.2,438.7 C187.1,438.7 187.9,438.7 188.8,438.7 C189.7,438.7 190.5,438.7 191.4,438.7 C192.3,438.7 193.1,438.7 194.0,438.7 C194.9,438.7 195.7,438.7 196.6,438.7 C197.5,438.7 198.3,439.1 199.2,438.7 C200.1,438.3 200.9,436.0 201.8,436.0 C202.7,436.0 203.5,438.3 204.4,438.7 C205.3,439.1 206.1,438.7 207.0,438.7 C207.9,438.7 208.7,438.7 209.6,438.7 C210.5,438.7 211.3,438.7 212.2,438.7 C213.1,438.7 213.9,438.7 214.8,438.7 C215.7,438.7 216.5,438.7 217.4,438.7 C218.3,438.7 219.1,438.7 220.0,438.7 C220.9,438.7 221.7,438.7 222.6,438.7 C223.5,438.7 224.3,438.7 225.2,438.7 C226.1,438.7 226.9,438.7 227.8,438.7 C228.7,438.7 229.5,438.7 230.4,438.7 C231.3,438.7 232.1,438.7 233.0,438.7 C233.9,438.7 234.7,438.7 235.6,438.7 C236.5,438.7 237.3,438.7 238.2,438.7 C239.1,438.7 239.9,438.7 240.8,438.7 C241.7,438.7 242.5,438.7 243.4,438.7 C244.3,438.7 245.1,438.7 246.0,438.7 C246.9,438.7 247.7,438.7 248.6,438.7 C249.5,438.7 250.3,438.7 251.2,438.7 C252.1,438.7 252.9,438.7 253.8,438.7 C254.7,438.7 255.5,438.7 256.4,438.7 C257.3,438.7 258.1,438.7 259.0,438.7 C259.9,438.7 260.7,438.7 261.6,438.7 C262.5,438.7 263.3,438.7 264.2,438.7 C265.1,438.7 265.9,438.7 266.8,438.7 C267.7,438.7 268.5,438.7 269.4,438.7 C270.3,438.7 271.1,438.7 272.0,438.7 C272.9,438.7 273.7,438.7 274.6,438.7 C275.5,438.7 276.3,438.7 277.2,438.7 C278.1,438.7 278.9,438.7 279.8,438.7 C280.7,438.7 281.5,438.7 282.4,438.7 C283.3,438.7 284.1,438.7 285.0,438.7 C285.9,438.7 286.7,438.7 287.6,438.7 C288.5,438.7 289.3,438.7 290.2,438.7 C291.1,438.7 291.9,438.7 292.8,438.7 C293.7,438.7 294.5,438.7 295.4,438.7 C296.3,438.7 297.1,438.7 298.0,438.7 C298.9,438.7 299.7,438.7 300.6,438.7 C301.5,438.7 302.3,438.7 303.2,438.7 C304.1,438.7 304.9,438.7 305.8,438.7 C306.7,438.7 307.5,438.7 308.4,438.7 C309.3,438.7 310.1,438.3 311.0,438.7 C311.9,439.1 312.7,441.4 313.6,441.4 C314.5,441.4 315.3,439.1 316.2,438.7 C317.1,438.3 317.9,438.7 318.8,438.7 C319.7,438.7 320.5,439.1 321.4,438.7 C322.3,438.3 323.1,436.0 324.0,436.0 C324.9,436.0 325.7,438.3 326.6,438.7 C327.5,439.1 328.3,438.7 329.2,438.7 C330.1,438.7 330.9,438.7 331.8,438.7 C332.7,438.7 333.5,438.7 334.4,438.7 C335.3,438.7 336.1,438.7 337.0,438.7 C337.9,438.7 338.7,438.7 339.6,438.7 C340.5,438.7 341.3,438.7 342.2,438.7 C343.1,438.7 343.9,438.7 344.8,438.7 C345.7,438.7 346.5,438.7 347.4,438.7 C348.3,438.7 349.1,438.7 350.0,438.7 C350.9,438.7 351.7,438.7 352.6,438.7 C353.5,438.7 354.3,438.7 355.2,438.7 C356.1,438.7 356.9,438.7 357.8,438.7 C358.7,438.7 359.5,438.7 360.4,438.7 C361.3,438.7 362.1,438.7 363.0,438.7 C363.9,438.7 364.7,438.7 365.6,438.7 C366.5,438.7 367.3,438.7 368.2,438.7 C369.1,438.7 369.9,438.7 370.8,438.7 C371.7,438.7 372.5,438.7 373.4,438.7 C374.3,438.7 375.1,438.7 376.0,438.7 C376.9,438.7 377.7,438.7 378.6,438.7 C379.5,438.7 380.3,438.7 381.2,438.7 C382.1,438.7 382.9,438.7 383.8,438.7 C384.7,438.7 385.5,438.7 386.4,438.7 C387.3,438.7 388.1,438.7 389.0,438.7 C389.9,438.7 390.7,438.7 391.6,438.7 C392.5,438.7 393.3,438.7 394.2,438.7 C395.1,438.7 395.9,438.7 396.8,438.7 C397.7,438.7 398.5,438.7 399.4,438.7 C400.3,438.7 401.1,438.7 402.0,438.7 C402.9,438.7 403.7,438.7 404.6,438.7 C405.5,438.7 406.3,438.7 407.2,438.7 C408.1,438.7 408.9,438.7 409.8,438.7 C410.7,438.7 411.5,438.7 412.4,438.7 C413.3,438.7 414.1,438.7 415.0,438.7 C415.9,438.7 416.7,438.7 417.6,438.7 C418.5,438.7 419.3,438.7 420.2,438.7 C421.1,438.7 421.9,438.7 422.8,438.7 C423.7,438.7 424.5,438.7 425.4,438.7 C426.3,438.7 427.1,438.7 428.0,438.7 C428.9,438.7 429.7,438.7 430.6,438.7 C431.5,438.7 432.3,438.7 433.2,438.7 C434.1,438.7 434.9,438.7 435.8,438.7 C436.7,438.7 437.5,438.7 438.4,438.7 C439.3,438.7 440.1,438.7 441.0,438.7 C441.9,438.7 442.7,438.7 443.6,438.7 C444.5,438.7 445.3,438.7 446.2,438.7 C447.1,438.7 447.9,438.7 448.8,438.7 C449.7,438.7 450.5,438.7 451.4,438.7 C452.3,438.7 453.1,438.7 454.0,438.7 C454.9,438.7 455.7,438.7 456.6,438.7 C457.5,438.7 458.3,438.7 459.2,438.7 C460.1,438.7 460.9,438.7 461.8,438.7 C462.7,438.7 463.5,438.7 464.4,438.7 C465.3,438.7 466.1,438.7 467.0,438.7 C467.9,438.7 468.7,438.7 469.6,438.7 C470.5,438.7 471.3,438.7 472.2,438.7 C473.1,438.7 473.9,438.7 474.8,438.7 C475.7,438.7 476.5,438.7 477.4,438.7 C478.3,438.7 479.1,438.7 480.0,438.7 C480.9,438.7 481.7,438.7 482.6,438.7 C483.5,438.7 484.3,438.7 485.2,438.7 C486.1,438.7 486.9,438.7 487.8,438.7 C488.7,438.7 489.5,438.7 490.4,438.7 C491.3,438.7 492.1,438.7 493.0,438.7 C493.9,438.7 494.7,438.7 495.6,438.7 C496.5,438.7 497.3,438.7 498.2,438.7 C499.1,438.7 499.9,438.7 500.8,438.7 C501.7,438.7 502.5,438.7 503.4,438.7 C504.3,438.7 505.1,438.7 506.0,438.7 C506.9,438.7 507.7,438.7 508.6,438.7 C509.5,438.7 510.3,438.7 511.2,438.7 C512.1,438.7 512.9,438.7 513.8,438.7 C514.7,438.7 515.5,438.7 516.4,438.7 C517.3,438.7 518.1,438.7 519.0,438.7 C519.9,438.7 520.7,438.7 521.6,438.7 C522.5,438.7 523.3,438.7 524.2,438.7 C525.1,438.7 525.9,438.7 526.8,438.7 C527.7,438.7 528.5,438.7 529.4,438.7 C530.3,438.7 531.1,438.7 532.0,438.7 C532.9,438.7 533.7,438.7 534.6,438.7 C535.5,438.7 536.3,438.7 537.2,438.7 C538.1,438.7 538.9,438.7 539.8,438.7 C540.7,438.7 541.5,438.7 542.4,438.7 C543.3,438.7 544.1,438.7 545.0,438.7 C545.9,438.7 546.7,438.7 547.6,438.7 C548.5,438.7 549.3,439.1 550.2,438.7 C551.1,438.3 551.9,436.5 552.8,436.0 C553.7,435.6 554.5,435.6 555.4,436.0 C556.3,436.5 557.1,438.3 558.0,438.7 C558.9,439.1 559.7,438.7 560.6,438.7 C561.5,438.7 562.3,438.7 563.2,438.7 C564.1,438.7 564.9,438.7 565.8,438.7 C566.7,438.7 567.5,438.7 568.4,438.7 C569.3,438.7 570.1,438.7 571.0,438.7 C571.9,438.7 572.7,438.7 573.6,438.7 C574.5,438.7 575.3,438.7 576.2,438.7 C577.1,438.7 577.9,438.7 578.8,438.7 C579.7,438.7 580.5,438.7 581.4,438.7 C582.3,438.7 583.1,438.7 584.0,438.7 C584.9,438.7 585.7,439.1 586.6,438.7 C587.5,438.3 588.3,436.9 589.2,436.0 C590.1,435.2 590.9,433.8 591.8,433.4 C592.7,432.9 593.5,433.4 594.4,433.4 C595.3,433.4 596.1,433.8 597.0,433.4 C597.9,432.9 598.7,431.6 599.6,430.7 C600.5,429.8 601.3,428.1 602.2,428.1 C603.1,428.1 603.9,430.3 604.8,430.7 C605.7,431.2 606.5,431.2 607.4,430.7 C608.3,430.3 609.1,429.0 610.0,428.1 C610.9,427.2 611.7,425.8 612.6,425.4 C613.5,425.0 614.3,425.8 615.2,425.4 C616.1,425.0 616.9,423.2 617.8,422.7 C618.7,422.3 619.5,423.2 620.4,422.7 C621.3,422.3 622.1,421.0 623.0,420.1 C623.9,419.2 624.7,417.9 625.6,417.4 C626.5,417.0 627.3,417.9 628.2,417.4 C629.1,417.0 629.9,415.7 630.8,414.8 C631.7,413.9 632.5,413.0 633.4,412.1 C634.3,411.2 635.1,410.3 636.0,409.5 C636.9,408.6 637.7,407.7 638.6,406.8 C639.5,405.9 640.3,405.0 641.2,404.1 C642.1,403.2 642.9,402.4 643.8,401.5 C644.7,400.6 645.5,399.7 646.4,398.8 C647.3,397.9 648.1,397.0 649.0,396.2 C649.9,395.3 650.7,394.4 651.6,393.5 C652.5,392.6 653.3,391.7 654.2,390.8 C655.1,390.0 655.9,389.1 656.8,388.2 C657.7,387.3 658.5,386.8 659.4,385.5 C660.3,384.2 661.1,382.0 662.0,380.2 C662.9,378.4 663.7,376.7 664.6,374.9 C665.5,373.1 666.3,371.3 667.2,369.6 C668.1,367.8 668.9,365.6 669.8,364.2 C670.7,362.9 671.5,362.9 672.4,361.6 C673.3,360.3 674.1,358.0 675.0,356.3 C675.9,354.5 676.7,352.7 677.6,351.0 C678.5,349.2 679.3,347.4 680.2,345.6 C681.1,343.9 681.9,341.6 682.8,340.3 C683.7,339.0 684.5,338.5 685.4,337.7 C686.3,336.8 687.1,335.9 688.0,335.0 C688.9,334.1 689.7,333.2 690.6,332.3 C691.5,331.5 692.3,330.1 693.2,329.7 C694.1,329.2 694.9,330.1 695.8,329.7 C696.7,329.2 697.5,327.5 698.4,327.0 C699.3,326.6 700.1,327.0 701.0,327.0 C701.9,327.0 702.7,326.6 703.6,327.0 C704.5,327.5 705.3,329.2 706.2,329.7 C707.1,330.1 707.9,328.8 708.8,329.7 C709.7,330.6 710.5,334.1 711.4,335.0 C712.3,335.9 713.1,334.6 714.0,335.0 C714.9,335.4 715.7,337.2 716.6,337.7 C717.5,338.1 718.3,337.7 719.2,337.7 C720.1,337.7 720.9,337.7 721.8,337.7 C722.7,337.7 723.5,337.7 724.4,337.7 C725.3,337.7 726.1,337.7 727.0,337.7 C727.9,337.7 728.7,337.2 729.6,337.7 C730.5,338.1 731.3,339.4 732.2,340.3 C733.1,341.2 733.9,342.5 734.8,343.0 C735.7,343.4 736.5,343.0 737.4,343.0 C738.3,343.0 739.1,343.0 740.0,343.0 C740.9,343.0 741.7,343.0 742.6,343.0 C743.5,343.0 744.3,342.5 745.2,343.0 C746.1,343.4 746.9,345.6 747.8,345.6 C748.7,345.6 749.5,343.4 750.4,343.0 C751.3,342.5 752.1,343.0 753.0,343.0 C753.9,343.0 754.7,343.0 755.6,343.0 C756.5,343.0 757.3,343.0 758.2,343.0 C759.1,343.0 759.9,343.0 760.8,343.0 C761.7,343.0 762.5,343.0 763.4,343.0 C764.3,343.0 765.1,342.5 766.0,343.0 C766.9,343.4 767.7,345.2 768.6,345.6 C769.5,346.1 770.3,345.6 771.2,345.6 C772.1,345.6 772.9,345.2 773.8,345.6 C774.7,346.1 775.5,348.3 776.4,348.3 C777.3,348.3 778.1,345.6 779.0,345.6 C779.9,345.6 780.7,348.3 781.6,348.3 C782.5,348.3 783.3,346.1 784.2,345.6 C785.1,345.2 785.9,345.6 786.8,345.6 C787.7,345.6 788.5,345.6 789.4,345.6 C790.3,345.6 791.1,345.6 792.0,345.6 C792.9,345.6 793.7,345.6 794.6,345.6 C795.5,345.6 796.3,345.2 797.2,345.6 C798.1,346.1 798.9,347.9 799.8,348.3 C800.7,348.7 801.5,348.3 802.4,348.3 C803.3,348.3 804.1,348.3 805.0,348.3 C805.9,348.3 806.7,348.3 807.6,348.3 C808.5,348.3 809.3,348.7 810.2,348.3 C811.1,347.9 811.9,345.6 812.8,345.6 C813.7,345.6 814.5,347.9 815.4,348.3 C816.3,348.7 817.1,348.3 818.0,348.3 C818.9,348.3 819.7,348.3 820.6,348.3 C821.5,348.3 822.3,347.9 823.2,348.3 C824.1,348.7 824.9,350.5 825.8,351.0 C826.7,351.4 827.5,351.0 828.4,351.0 C829.3,351.0 830.1,351.4 831.0,351.0 C831.9,350.5 832.7,348.3 833.6,348.3 C834.5,348.3 835.3,350.5 836.2,351.0 C837.1,351.4 837.9,351.4 838.8,351.0 C839.7,350.5 840.5,348.7 841.4,348.3 C842.3,347.9 843.1,348.3 844.0,348.3 C844.9,348.3 845.7,348.3 846.6,348.3 C847.5,348.3 848.3,347.9 849.2,348.3 C850.1,348.7 850.9,350.5 851.8,351.0 C852.7,351.4 853.5,351.0 854.4,351.0 C855.3,351.0 856.1,351.0 857.0,351.0 C857.9,351.0 858.7,351.0 859.6,351.0 C860.5,351.0 861.3,351.0 862.2,351.0 C863.1,351.0 863.9,351.0 864.8,351.0 C865.7,351.0 866.5,351.0 867.4,351.0 C868.3,351.0 869.1,350.5 870.0,351.0 C870.9,351.4 871.7,353.2 872.6,353.6 C873.5,354.1 874.3,353.6 875.2,353.6 C876.1,353.6 876.9,353.6 877.8,353.6 C878.7,353.6 879.5,353.6 880.4,353.6 C881.3,353.6 882.1,354.1 883.0,353.6 C883.9,353.2 884.7,351.4 885.6,351.0 C886.5,350.5 887.3,351.0 888.2,351.0 C889.1,351.0 889.9,351.4 890.8,351.0 C891.7,350.5 892.5,348.3 893.4,348.3 C894.3,348.3 895.1,350.5 896.0,351.0 C896.9,351.4 897.7,351.0 898.6,351.0 C899.5,351.0 900.3,351.0 901.2,351.0 C902.1,351.0 902.9,351.0 903.8,351.0 C904.7,351.0 905.5,350.5 906.4,351.0 C907.3,351.4 908.1,353.6 909.0,353.6 C909.9,353.6 910.7,351.4 911.6,351.0 C912.5,350.5 913.3,350.5 914.2,351.0 C915.1,351.4 915.9,353.2 916.8,353.6 C917.7,354.1 918.5,353.6 919.4,353.6 C920.3,353.6 921.1,353.6 922.0,353.6 C922.9,353.6 923.7,354.1 924.6,353.6 C925.5,353.2 926.3,351.0 927.2,351.0 C928.1,351.0 928.9,353.2 929.8,353.6 C930.7,354.1 931.5,353.6 932.4,353.6 C933.3,353.6 934.1,353.6 935.0,353.6 C935.9,353.6 936.7,353.6 937.6,353.6 C938.5,353.6 939.3,354.1 940.2,353.6 C941.1,353.2 941.9,351.0 942.8,351.0 C943.7,351.0 944.5,353.6 945.4,353.6 C946.3,353.6 947.1,351.0 948.0,351.0 C948.9,351.0 949.7,353.6 950.6,353.6 C951.5,353.6 952.3,351.0 953.2,351.0 C954.1,351.0 954.9,353.2 955.8,353.6 C956.7,354.1 957.5,353.6 958.4,353.6 C959.3,353.6 960.1,353.6 961.0,353.6 C961.9,353.6 962.7,353.6 963.6,353.6 C964.5,353.6 965.3,353.6 966.2,353.6 C967.1,353.6 967.9,353.6 968.8,353.6 C969.7,353.6 970.5,353.6 971.4,353.6 C972.3,353.6 973.1,353.6 974.0,353.6 C974.9,353.6 975.7,354.1 976.6,353.6 C977.5,353.2 978.3,351.4 979.2,351.0 C980.1,350.5 980.9,350.5 981.8,351.0 C982.7,351.4 983.5,353.2 984.4,353.6 C985.3,354.1 986.1,353.6 987.0,353.6 C987.9,353.6 988.7,353.6 989.6,353.6 C990.5,353.6 991.3,353.6 992.2,353.6 C993.1,353.6 993.9,353.6 994.8,353.6 C995.7,353.6 996.5,353.6 997.4,353.6 C998.3,353.6 999.1,353.6 1000.0,353.6 C1000.9,353.6 1001.7,353.2 1002.6,353.6 C1003.5,354.1 1004.3,355.8 1005.2,356.3 C1006.1,356.7 1006.9,356.7 1007.8,356.3 C1008.7,355.8 1009.5,353.6 1010.4,353.6 C1011.3,353.6 1012.1,355.8 1013.0,356.3 C1013.9,356.7 1014.7,356.3 1015.6,356.3 C1016.5,356.3 1017.3,356.3 1018.2,356.3 C1019.1,356.3 1019.9,356.3 1020.8,356.3 C1021.7,356.3 1022.5,356.3 1023.4,356.3 C1024.3,356.3 1025.1,356.3 1026.0,356.3 C1026.9,356.3 1027.7,356.3 1028.6,356.3 C1029.5,356.3 1030.3,356.3 1031.2,356.3 C1032.1,356.3 1032.9,356.7 1033.8,356.3 C1034.7,355.8 1035.5,353.6 1036.4,353.6 C1037.3,353.6 1038.1,355.8 1039.0,356.3 C1039.9,356.7 1040.7,356.3 1041.6,356.3 C1042.5,356.3 1043.3,356.3 1044.2,356.3 C1045.1,356.3 1045.9,356.3 1046.8,356.3 C1047.7,356.3 1048.5,356.3 1049.4,356.3 C1050.3,356.3 1051.1,356.3 1052.0,356.3 C1052.9,356.3 1053.7,356.3 1054.6,356.3 C1055.5,356.3 1056.3,356.3 1057.2,356.3 C1058.1,356.3 1058.9,356.7 1059.8,356.3 C1060.7,355.8 1061.5,353.6 1062.4,353.6 C1063.3,353.6 1064.1,355.8 1065.0,356.3 C1065.9,356.7 1066.7,356.3 1067.6,356.3 C1068.5,356.3 1069.3,356.3 1070.2,356.3 C1071.1,356.3 1071.9,356.3 1072.8,356.3 C1073.7,356.3 1074.5,356.3 1075.4,356.3 C1076.3,356.3 1077.1,355.8 1078.0,356.3 C1078.9,356.7 1079.7,358.9 1080.6,358.9 C1081.5,358.9 1082.3,356.7 1083.2,356.3 C1084.1,355.8 1084.9,356.3 1085.8,356.3 C1086.7,356.3 1087.5,355.8 1088.4,356.3 C1089.3,356.7 1090.1,358.5 1091.0,358.9 C1091.9,359.4 1092.7,358.9 1093.6,358.9 C1094.5,358.9 1095.3,358.9 1096.2,358.9 C1097.1,358.9 1097.9,359.4 1098.8,358.9 C1099.7,358.5 1100.5,356.3 1101.4,356.3 C1102.3,356.3 1103.1,358.9 1104.0,358.9 C1104.9,358.9 1105.7,356.7 1106.6,356.3 C1107.5,355.8 1108.3,356.3 1109.2,356.3 C1110.1,356.3 1110.9,355.8 1111.8,356.3 C1112.7,356.7 1113.5,358.9 1114.4,358.9 C1115.3,358.9 1116.1,356.7 1117.0,356.3 C1117.9,355.8 1118.7,356.3 1119.6,356.3 C1120.5,356.3 1121.3,355.8 1122.2,356.3 C1123.1,356.7 1123.9,358.5 1124.8,358.9 C1125.7,359.4 1126.5,358.9 1127.4,358.9 C1128.3,358.9 1129.1,359.4 1130.0,358.9 C1130.9,358.5 1131.7,356.7 1132.6,356.3 C1133.5,355.8 1134.3,355.8 1135.2,356.3 C1136.1,356.7 1136.9,358.5 1137.8,358.9 C1138.7,359.4 1139.5,358.9 1140.4,358.9 C1141.3,358.9 1142.1,358.9 1143.0,358.9 C1143.9,358.9 1144.7,358.9 1145.6,358.9 C1146.5,358.9 1147.3,358.9 1148.2,358.9 C1149.1,358.9 1149.9,358.9 1150.8,358.9 C1151.7,358.9 1152.5,358.9 1153.4,358.9 C1154.3,358.9 1155.1,358.9 1156.0,358.9 C1156.9,358.9 1157.7,359.4 1158.6,358.9 C1159.5,358.5 1160.3,356.3 1161.2,356.3 C1162.1,356.3 1162.9,358.5 1163.8,358.9 C1164.7,359.4 1165.5,358.9 1166.4,358.9 C1167.3,358.9 1168.1,359.4 1169.0,358.9 C1169.9,358.5 1170.7,356.3 1171.6,356.3 C1172.5,356.3 1173.3,358.9 1174.2,358.9 C1175.1,358.9 1175.9,356.7 1176.8,356.3 C1177.7,355.8 1178.5,355.8 1179.4,356.3 C1180.3,356.7 1181.1,358.5 1182.0,358.9 C1182.9,359.4 1183.7,358.9 1184.6,358.9 C1185.5,358.9 1186.3,358.9 1187.2,358.9 C1188.1,358.9 1188.9,358.9 1189.8,358.9 C1190.7,358.9 1191.5,358.9 1192.4,358.9 C1193.3,358.9 1194.1,358.9 1195.0,358.9 C1195.9,358.9 1196.7,358.5 1197.6,358.9 C1198.5,359.4 1199.3,361.1 1200.2,361.6 C1201.1,362.0 1201.9,361.6 1202.8,361.6 C1203.7,361.6 1205.0,361.6 1205.4,361.6' fill='none' stroke='#5B9BD5' stroke-width='3.0' stroke-linejoin='round' stroke-linecap='round'/>
<path d='M162.8,438.7 C163.2,438.7 164.5,438.7 165.4,438.7 C166.3,438.7 167.1,438.7 168.0,438.7 C168.9,438.7 169.7,438.7 170.6,438.7 C171.5,438.7 172.3,438.7 173.2,438.7 C174.1,438.7 174.9,438.7 175.8,438.7 C176.7,438.7 177.5,438.7 178.4,438.7 C179.3,438.7 180.1,438.7 181.0,438.7 C181.9,438.7 182.7,438.7 183.6,438.7 C184.5,438.7 185.3,438.7 186.2,438.7 C187.1,438.7 187.9,438.7 188.8,438.7 C189.7,438.7 190.5,438.7 191.4,438.7 C192.3,438.7 193.1,438.7 194.0,438.7 C194.9,438.7 195.7,438.7 196.6,438.7 C197.5,438.7 198.3,438.7 199.2,438.7 C200.1,438.7 200.9,439.1 201.8,438.7 C202.7,438.3 203.5,436.0 204.4,436.0 C205.3,436.0 206.1,438.3 207.0,438.7 C207.9,439.1 208.7,438.7 209.6,438.7 C210.5,438.7 211.3,438.7 212.2,438.7 C213.1,438.7 213.9,438.7 214.8,438.7 C215.7,438.7 216.5,438.7 217.4,438.7 C218.3,438.7 219.1,438.7 220.0,438.7 C220.9,438.7 221.7,438.7 222.6,438.7 C223.5,438.7 224.3,438.7 225.2,438.7 C226.1,438.7 226.9,438.7 227.8,438.7 C228.7,438.7 229.5,438.7 230.4,438.7 C231.3,438.7 232.1,438.7 233.0,438.7 C233.9,438.7 234.7,438.7 235.6,438.7 C236.5,438.7 237.3,438.7 238.2,438.7 C239.1,438.7 239.9,438.7 240.8,438.7 C241.7,438.7 242.5,439.1 243.4,438.7 C244.3,438.3 245.1,436.0 246.0,436.0 C246.9,436.0 247.7,438.3 248.6,438.7 C249.5,439.1 250.3,438.7 251.2,438.7 C252.1,438.7 252.9,438.7 253.8,438.7 C254.7,438.7 255.5,438.7 256.4,438.7 C257.3,438.7 258.1,438.7 259.0,438.7 C259.9,438.7 260.7,438.7 261.6,438.7 C262.5,438.7 263.3,438.7 264.2,438.7 C265.1,438.7 265.9,438.7 266.8,438.7 C267.7,438.7 268.5,438.7 269.4,438.7 C270.3,438.7 271.1,438.7 272.0,438.7 C272.9,438.7 273.7,438.7 274.6,438.7 C275.5,438.7 276.3,438.7 277.2,438.7 C278.1,438.7 278.9,439.1 279.8,438.7 C280.7,438.3 281.5,436.0 282.4,436.0 C283.3,436.0 284.1,438.3 285.0,438.7 C285.9,439.1 286.7,438.7 287.6,438.7 C288.5,438.7 289.3,438.7 290.2,438.7 C291.1,438.7 291.9,438.7 292.8,438.7 C293.7,438.7 294.5,438.7 295.4,438.7 C296.3,438.7 297.1,438.7 298.0,438.7 C298.9,438.7 299.7,438.7 300.6,438.7 C301.5,438.7 302.3,438.7 303.2,438.7 C304.1,438.7 304.9,438.7 305.8,438.7 C306.7,438.7 307.5,438.7 308.4,438.7 C309.3,438.7 310.1,438.7 311.0,438.7 C311.9,438.7 312.7,438.7 313.6,438.7 C314.5,438.7 315.3,439.1 316.2,438.7 C317.1,438.3 317.9,436.0 318.8,436.0 C319.7,436.0 320.5,438.7 321.4,438.7 C322.3,438.7 323.1,436.0 324.0,436.0 C324.9,436.0 325.7,438.3 326.6,438.7 C327.5,439.1 328.3,438.7 329.2,438.7 C330.1,438.7 330.9,438.7 331.8,438.7 C332.7,438.7 333.5,438.7 334.4,438.7 C335.3,438.7 336.1,438.7 337.0,438.7 C337.9,438.7 338.7,438.7 339.6,438.7 C340.5,438.7 341.3,438.7 342.2,438.7 C343.1,438.7 343.9,439.1 344.8,438.7 C345.7,438.3 346.5,436.0 347.4,436.0 C348.3,436.0 349.1,438.7 350.0,438.7 C350.9,438.7 351.7,436.5 352.6,436.0 C353.5,435.6 354.3,435.6 355.2,436.0 C356.1,436.5 356.9,438.3 357.8,438.7 C358.7,439.1 359.5,438.7 360.4,438.7 C361.3,438.7 362.1,438.7 363.0,438.7 C363.9,438.7 364.7,438.7 365.6,438.7 C366.5,438.7 367.3,438.7 368.2,438.7 C369.1,438.7 369.9,438.7 370.8,438.7 C371.7,438.7 372.5,438.7 373.4,438.7 C374.3,438.7 375.1,438.7 376.0,438.7 C376.9,438.7 377.7,438.7 378.6,438.7 C379.5,438.7 380.3,438.7 381.2,438.7 C382.1,438.7 382.9,438.7 383.8,438.7 C384.7,438.7 385.5,438.7 386.4,438.7 C387.3,438.7 388.1,438.7 389.0,438.7 C389.9,438.7 390.7,438.7 391.6,438.7 C392.5,438.7 393.3,439.1 394.2,438.7 C395.1,438.3 395.9,436.0 396.8,436.0 C397.7,436.0 398.5,438.3 399.4,438.7 C400.3,439.1 401.1,438.7 402.0,438.7 C402.9,438.7 403.7,438.7 404.6,438.7 C405.5,438.7 406.3,438.7 407.2,438.7 C408.1,438.7 408.9,438.7 409.8,438.7 C410.7,438.7 411.5,438.7 412.4,438.7 C413.3,438.7 414.1,438.7 415.0,438.7 C415.9,438.7 416.7,439.1 417.6,438.7 C418.5,438.3 419.3,436.0 420.2,436.0 C421.1,436.0 421.9,438.3 422.8,438.7 C423.7,439.1 424.5,438.7 425.4,438.7 C426.3,438.7 427.1,439.1 428.0,438.7 C428.9,438.3 429.7,436.0 430.6,436.0 C431.5,436.0 432.3,438.3 433.2,438.7 C434.1,439.1 434.9,438.7 435.8,438.7 C436.7,438.7 437.5,438.7 438.4,438.7 C439.3,438.7 440.1,438.7 441.0,438.7 C441.9,438.7 442.7,438.7 443.6,438.7 C444.5,438.7 445.3,439.1 446.2,438.7 C447.1,438.3 447.9,436.0 448.8,436.0 C449.7,436.0 450.5,438.3 451.4,438.7 C452.3,439.1 453.1,438.7 454.0,438.7 C454.9,438.7 455.7,438.7 456.6,438.7 C457.5,438.7 458.3,438.7 459.2,438.7 C460.1,438.7 460.9,438.7 461.8,438.7 C462.7,438.7 463.5,438.7 464.4,438.7 C465.3,438.7 466.1,438.7 467.0,438.7 C467.9,438.7 468.7,438.7 469.6,438.7 C470.5,438.7 471.3,438.7 472.2,438.7 C473.1,438.7 473.9,438.7 474.8,438.7 C475.7,438.7 476.5,438.7 477.4,438.7 C478.3,438.7 479.1,438.7 480.0,438.7 C480.9,438.7 481.7,438.7 482.6,438.7 C483.5,438.7 484.3,438.7 485.2,438.7 C486.1,438.7 486.9,438.7 487.8,438.7 C488.7,438.7 489.5,438.7 490.4,438.7 C491.3,438.7 492.1,438.7 493.0,438.7 C493.9,438.7 494.7,438.7 495.6,438.7 C496.5,438.7 497.3,438.7 498.2,438.7 C499.1,438.7 499.9,438.7 500.8,438.7 C501.7,438.7 502.5,438.7 503.4,438.7 C504.3,438.7 505.1,438.7 506.0,438.7 C506.9,438.7 507.7,438.7 508.6,438.7 C509.5,438.7 510.3,438.7 511.2,438.7 C512.1,438.7 512.9,438.7 513.8,438.7 C514.7,438.7 515.5,438.7 516.4,438.7 C517.3,438.7 518.1,438.7 519.0,438.7 C519.9,438.7 520.7,438.7 521.6,438.7 C522.5,438.7 523.3,438.7 524.2,438.7 C525.1,438.7 525.9,438.7 526.8,438.7 C527.7,438.7 528.5,438.7 529.4,438.7 C530.3,438.7 531.1,438.7 532.0,438.7 C532.9,438.7 533.7,438.7 534.6,438.7 C535.5,438.7 536.3,438.7 537.2,438.7 C538.1,438.7 538.9,438.7 539.8,438.7 C540.7,438.7 541.5,438.7 542.4,438.7 C543.3,438.7 544.1,438.7 545.0,438.7 C545.9,438.7 546.7,438.7 547.6,438.7 C548.5,438.7 549.3,438.7 550.2,438.7 C551.1,438.7 551.9,439.1 552.8,438.7 C553.7,438.3 554.5,436.5 555.4,436.0 C556.3,435.6 557.1,436.0 558.0,436.0 C558.9,436.0 559.7,436.0 560.6,436.0 C561.5,436.0 562.3,436.0 563.2,436.0 C564.1,436.0 564.9,436.0 565.8,436.0 C566.7,436.0 567.5,436.0 568.4,436.0 C569.3,436.0 570.1,436.0 571.0,436.0 C571.9,436.0 572.7,436.0 573.6,436.0 C574.5,436.0 575.3,436.9 576.2,436.0 C577.1,435.2 577.9,431.6 578.8,430.7 C579.7,429.8 580.5,431.2 581.4,430.7 C582.3,430.3 583.1,428.5 584.0,428.1 C584.9,427.6 585.7,427.6 586.6,428.1 C587.5,428.5 588.3,430.3 589.2,430.7 C590.1,431.2 590.9,430.7 591.8,430.7 C592.7,430.7 593.5,431.2 594.4,430.7 C595.3,430.3 596.1,428.5 597.0,428.1 C597.9,427.6 598.7,428.5 599.6,428.1 C600.5,427.6 601.3,426.3 602.2,425.4 C603.1,424.5 603.9,423.6 604.8,422.7 C605.7,421.9 606.5,421.0 607.4,420.1 C608.3,419.2 609.1,417.9 610.0,417.4 C610.9,417.0 611.7,417.4 612.6,417.4 C613.5,417.4 614.3,417.9 615.2,417.4 C616.1,417.0 616.9,415.2 617.8,414.8 C618.7,414.3 619.5,415.7 620.4,414.8 C621.3,413.9 622.1,410.3 623.0,409.5 C623.9,408.6 624.7,410.3 625.6,409.5 C626.5,408.6 627.3,405.5 628.2,404.1 C629.1,402.8 629.9,402.8 630.8,401.5 C631.7,400.1 632.5,397.5 633.4,396.2 C634.3,394.8 635.1,394.4 636.0,393.5 C636.9,392.6 637.7,392.2 638.6,390.8 C639.5,389.5 640.3,386.8 641.2,385.5 C642.1,384.2 642.9,383.7 643.8,382.9 C644.7,382.0 645.5,381.5 646.4,380.2 C647.3,378.9 648.1,376.2 649.0,374.9 C649.9,373.6 650.7,373.1 651.6,372.2 C652.5,371.3 653.3,370.9 654.2,369.6 C655.1,368.2 655.9,366.0 656.8,364.2 C657.7,362.5 658.5,360.7 659.4,358.9 C660.3,357.2 661.1,355.8 662.0,353.6 C662.9,351.4 663.7,347.4 664.6,345.6 C665.5,343.9 666.3,344.3 667.2,343.0 C668.1,341.6 668.9,339.4 669.8,337.7 C670.7,335.9 671.5,333.7 672.4,332.3 C673.3,331.0 674.1,331.0 675.0,329.7 C675.9,328.4 676.7,326.1 677.6,324.4 C678.5,322.6 679.3,320.4 680.2,319.0 C681.1,317.7 681.9,317.7 682.8,316.4 C683.7,315.1 684.5,312.8 685.4,311.1 C686.3,309.3 687.1,306.6 688.0,305.8 C688.9,304.9 689.7,305.8 690.6,305.8 C691.5,305.8 692.3,304.9 693.2,305.8 C694.1,306.6 694.9,310.2 695.8,311.1 C696.7,312.0 697.5,310.2 698.4,311.1 C699.3,312.0 700.1,315.1 701.0,316.4 C701.9,317.7 702.7,318.6 703.6,319.0 C704.5,319.5 705.3,318.6 706.2,319.0 C707.1,319.5 707.9,320.8 708.8,321.7 C709.7,322.6 710.5,323.9 711.4,324.4 C712.3,324.8 713.1,323.9 714.0,324.4 C714.9,324.8 715.7,326.6 716.6,327.0 C717.5,327.5 718.3,327.0 719.2,327.0 C720.1,327.0 720.9,327.0 721.8,327.0 C722.7,327.0 723.5,326.6 724.4,327.0 C725.3,327.5 726.1,329.2 727.0,329.7 C727.9,330.1 728.7,329.2 729.6,329.7 C730.5,330.1 731.3,331.9 732.2,332.3 C733.1,332.8 733.9,332.3 734.8,332.3 C735.7,332.3 736.5,332.3 737.4,332.3 C738.3,332.3 739.1,331.9 740.0,332.3 C740.9,332.8 741.7,334.6 742.6,335.0 C743.5,335.4 744.3,335.4 745.2,335.0 C746.1,334.6 746.9,332.3 747.8,332.3 C748.7,332.3 749.5,334.1 750.4,335.0 C751.3,335.9 752.1,336.8 753.0,337.7 C753.9,338.5 754.7,340.3 755.6,340.3 C756.5,340.3 757.3,337.7 758.2,337.7 C759.1,337.7 759.9,340.3 760.8,340.3 C761.7,340.3 762.5,338.1 763.4,337.7 C764.3,337.2 765.1,338.1 766.0,337.7 C766.9,337.2 767.7,335.0 768.6,335.0 C769.5,335.0 770.3,337.2 771.2,337.7 C772.1,338.1 772.9,337.7 773.8,337.7 C774.7,337.7 775.5,337.7 776.4,337.7 C777.3,337.7 778.1,337.2 779.0,337.7 C779.9,338.1 780.7,339.9 781.6,340.3 C782.5,340.8 783.3,340.3 784.2,340.3 C785.1,340.3 785.9,339.9 786.8,340.3 C787.7,340.8 788.5,342.5 789.4,343.0 C790.3,343.4 791.1,343.0 792.0,343.0 C792.9,343.0 793.7,343.0 794.6,343.0 C795.5,343.0 796.3,343.0 797.2,343.0 C798.1,343.0 798.9,343.0 799.8,343.0 C800.7,343.0 801.5,343.0 802.4,343.0 C803.3,343.0 804.1,343.0 805.0,343.0 C805.9,343.0 806.7,342.5 807.6,343.0 C808.5,343.4 809.3,345.2 810.2,345.6 C811.1,346.1 811.9,345.6 812.8,345.6 C813.7,345.6 814.5,345.6 815.4,345.6 C816.3,345.6 817.1,345.6 818.0,345.6 C818.9,345.6 819.7,345.6 820.6,345.6 C821.5,345.6 822.3,346.1 823.2,345.6 C824.1,345.2 824.9,343.4 825.8,343.0 C826.7,342.5 827.5,343.0 828.4,343.0 C829.3,343.0 830.1,343.0 831.0,343.0 C831.9,343.0 832.7,343.0 833.6,343.0 C834.5,343.0 835.3,342.5 836.2,343.0 C837.1,343.4 837.9,345.2 838.8,345.6 C839.7,346.1 840.5,345.6 841.4,345.6 C842.3,345.6 843.1,345.6 844.0,345.6 C844.9,345.6 845.7,345.6 846.6,345.6 C847.5,345.6 848.3,345.6 849.2,345.6 C850.1,345.6 850.9,345.6 851.8,345.6 C852.7,345.6 853.5,345.6 854.4,345.6 C855.3,345.6 856.1,345.2 857.0,345.6 C857.9,346.1 858.7,347.9 859.6,348.3 C860.5,348.7 861.3,348.3 862.2,348.3 C863.1,348.3 863.9,348.3 864.8,348.3 C865.7,348.3 866.5,348.3 867.4,348.3 C868.3,348.3 869.1,348.3 870.0,348.3 C870.9,348.3 871.7,348.3 872.6,348.3 C873.5,348.3 874.3,348.3 875.2,348.3 C876.1,348.3 876.9,348.7 877.8,348.3 C878.7,347.9 879.5,346.1 880.4,345.6 C881.3,345.2 882.1,345.6 883.0,345.6 C883.9,345.6 884.7,345.6 885.6,345.6 C886.5,345.6 887.3,345.6 888.2,345.6 C889.1,345.6 889.9,345.2 890.8,345.6 C891.7,346.1 892.5,347.9 893.4,348.3 C894.3,348.7 895.1,348.3 896.0,348.3 C896.9,348.3 897.7,348.3 898.6,348.3 C899.5,348.3 900.3,348.3 901.2,348.3 C902.1,348.3 902.9,348.7 903.8,348.3 C904.7,347.9 905.5,345.6 906.4,345.6 C907.3,345.6 908.1,347.9 909.0,348.3 C909.9,348.7 910.7,348.3 911.6,348.3 C912.5,348.3 913.3,348.3 914.2,348.3 C915.1,348.3 915.9,347.9 916.8,348.3 C917.7,348.7 918.5,351.0 919.4,351.0 C920.3,351.0 921.1,348.3 922.0,348.3 C922.9,348.3 923.7,351.0 924.6,351.0 C925.5,351.0 926.3,348.7 927.2,348.3 C928.1,347.9 928.9,348.3 929.8,348.3 C930.7,348.3 931.5,348.3 932.4,348.3 C933.3,348.3 934.1,348.3 935.0,348.3 C935.9,348.3 936.7,348.3 937.6,348.3 C938.5,348.3 939.3,348.3 940.2,348.3 C941.1,348.3 941.9,348.3 942.8,348.3 C943.7,348.3 944.5,348.3 945.4,348.3 C946.3,348.3 947.1,348.3 948.0,348.3 C948.9,348.3 949.7,347.9 950.6,348.3 C951.5,348.7 952.3,351.0 953.2,351.0 C954.1,351.0 954.9,348.7 955.8,348.3 C956.7,347.9 957.5,348.3 958.4,348.3 C959.3,348.3 960.1,348.3 961.0,348.3 C961.9,348.3 962.7,348.3 963.6,348.3 C964.5,348.3 965.3,347.9 966.2,348.3 C967.1,348.7 967.9,351.0 968.8,351.0 C969.7,351.0 970.5,348.3 971.4,348.3 C972.3,348.3 973.1,350.5 974.0,351.0 C974.9,351.4 975.7,351.0 976.6,351.0 C977.5,351.0 978.3,351.0 979.2,351.0 C980.1,351.0 980.9,351.0 981.8,351.0 C982.7,351.0 983.5,351.4 984.4,351.0 C985.3,350.5 986.1,348.3 987.0,348.3 C987.9,348.3 988.7,350.5 989.6,351.0 C990.5,351.4 991.3,351.0 992.2,351.0 C993.1,351.0 993.9,351.0 994.8,351.0 C995.7,351.0 996.5,351.0 997.4,351.0 C998.3,351.0 999.1,351.0 1000.0,351.0 C1000.9,351.0 1001.7,351.0 1002.6,351.0 C1003.5,351.0 1004.3,351.0 1005.2,351.0 C1006.1,351.0 1006.9,351.0 1007.8,351.0 C1008.7,351.0 1009.5,351.0 1010.4,351.0 C1011.3,351.0 1012.1,351.0 1013.0,351.0 C1013.9,351.0 1014.7,351.0 1015.6,351.0 C1016.5,351.0 1017.3,351.0 1018.2,351.0 C1019.1,351.0 1019.9,351.0 1020.8,351.0 C1021.7,351.0 1022.5,351.0 1023.4,351.0 C1024.3,351.0 1025.1,351.0 1026.0,351.0 C1026.9,351.0 1027.7,351.0 1028.6,351.0 C1029.5,351.0 1030.3,351.0 1031.2,351.0 C1032.1,351.0 1032.9,350.5 1033.8,351.0 C1034.7,351.4 1035.5,353.2 1036.4,353.6 C1037.3,354.1 1038.1,353.6 1039.0,353.6 C1039.9,353.6 1040.7,354.1 1041.6,353.6 C1042.5,353.2 1043.3,351.4 1044.2,351.0 C1045.1,350.5 1045.9,351.0 1046.8,351.0 C1047.7,351.0 1048.5,351.0 1049.4,351.0 C1050.3,351.0 1051.1,351.0 1052.0,351.0 C1052.9,351.0 1053.7,350.5 1054.6,351.0 C1055.5,351.4 1056.3,353.2 1057.2,353.6 C1058.1,354.1 1058.9,354.1 1059.8,353.6 C1060.7,353.2 1061.5,351.0 1062.4,351.0 C1063.3,351.0 1064.1,353.6 1065.0,353.6 C1065.9,353.6 1066.7,351.4 1067.6,351.0 C1068.5,350.5 1069.3,351.0 1070.2,351.0 C1071.1,351.0 1071.9,351.0 1072.8,351.0 C1073.7,351.0 1074.5,351.0 1075.4,351.0 C1076.3,351.0 1077.1,351.0 1078.0,351.0 C1078.9,351.0 1079.7,351.0 1080.6,351.0 C1081.5,351.0 1082.3,350.5 1083.2,351.0 C1084.1,351.4 1084.9,353.2 1085.8,353.6 C1086.7,354.1 1087.5,353.6 1088.4,353.6 C1089.3,353.6 1090.1,353.2 1091.0,353.6 C1091.9,354.1 1092.7,355.8 1093.6,356.3 C1094.5,356.7 1095.3,356.3 1096.2,356.3 C1097.1,356.3 1097.9,356.3 1098.8,356.3 C1099.7,356.3 1100.5,356.7 1101.4,356.3 C1102.3,355.8 1103.1,354.1 1104.0,353.6 C1104.9,353.2 1105.7,353.2 1106.6,353.6 C1107.5,354.1 1108.3,356.3 1109.2,356.3 C1110.1,356.3 1110.9,354.1 1111.8,353.6 C1112.7,353.2 1113.5,353.6 1114.4,353.6 C1115.3,353.6 1116.1,353.6 1117.0,353.6 C1117.9,353.6 1118.7,353.6 1119.6,353.6 C1120.5,353.6 1121.3,353.6 1122.2,353.6 C1123.1,353.6 1123.9,353.6 1124.8,353.6 C1125.7,353.6 1126.5,353.6 1127.4,353.6 C1128.3,353.6 1129.1,353.6 1130.0,353.6 C1130.9,353.6 1131.7,353.6 1132.6,353.6 C1133.5,353.6 1134.3,353.2 1135.2,353.6 C1136.1,354.1 1136.9,355.8 1137.8,356.3 C1138.7,356.7 1139.5,356.3 1140.4,356.3 C1141.3,356.3 1142.1,356.3 1143.0,356.3 C1143.9,356.3 1144.7,356.3 1145.6,356.3 C1146.5,356.3 1147.3,356.3 1148.2,356.3 C1149.1,356.3 1149.9,356.3 1150.8,356.3 C1151.7,356.3 1152.5,356.7 1153.4,356.3 C1154.3,355.8 1155.1,354.1 1156.0,353.6 C1156.9,353.2 1157.7,354.1 1158.6,353.6 C1159.5,353.2 1160.3,351.0 1161.2,351.0 C1162.1,351.0 1162.9,353.2 1163.8,353.6 C1164.7,354.1 1165.5,353.2 1166.4,353.6 C1167.3,354.1 1168.1,355.8 1169.0,356.3 C1169.9,356.7 1170.7,356.3 1171.6,356.3 C1172.5,356.3 1173.3,356.3 1174.2,356.3 C1175.1,356.3 1175.9,356.3 1176.8,356.3 C1177.7,356.3 1178.5,356.3 1179.4,356.3 C1180.3,356.3 1181.1,356.3 1182.0,356.3 C1182.9,356.3 1183.7,356.3 1184.6,356.3 C1185.5,356.3 1186.3,356.3 1187.2,356.3 C1188.1,356.3 1188.9,356.7 1189.8,356.3 C1190.7,355.8 1191.5,353.6 1192.4,353.6 C1193.3,353.6 1194.1,355.8 1195.0,356.3 C1195.9,356.7 1196.7,356.3 1197.6,356.3 C1198.5,356.3 1199.3,356.3 1200.2,356.3 C1201.1,356.3 1201.9,355.8 1202.8,356.3 C1203.7,356.7 1205.0,358.5 1205.4,358.9' fill='none' stroke='#70AD47' stroke-width='3.0' stroke-linejoin='round' stroke-linecap='round'/>
<line x1='162.8' y1='437.6' x2='1207.1' y2='437.6' stroke='#000' stroke-width='2.6' stroke-dasharray='12 14.97' stroke-dashoffset='85.01'/>
<path d='M162.8,433.0 C163.1,433.0 163.8,433.0 164.3,433.0 C164.8,433.0 165.3,433.0 165.8,433.0 C166.3,433.0 166.8,433.0 167.3,433.0 C167.8,433.0 168.3,433.0 168.8,433.0 C169.3,433.0 169.8,433.0 170.3,433.0 C170.8,433.0 171.3,433.0 171.8,433.0 C172.3,433.0 172.8,433.0 173.3,433.1 C173.8,433.2 174.3,433.4 174.8,433.6 C175.3,433.8 175.8,434.3 176.3,434.6 C176.8,434.8 177.3,435.0 177.8,435.1 C178.3,435.3 178.8,435.3 179.3,435.3 C179.8,435.3 180.3,435.3 180.8,435.3 C181.3,435.3 181.8,435.3 182.3,435.3 C182.8,435.3 183.3,435.3 183.8,435.2 C184.3,435.2 184.8,435.1 185.3,434.9 C185.8,434.7 186.3,434.4 186.8,434.1 C187.3,433.8 187.8,433.5 188.3,433.3 C188.8,433.1 189.3,433.1 189.8,433.0 C190.3,433.0 190.8,433.0 191.3,433.0 C191.8,433.0 192.3,433.0 192.8,433.0 C193.3,433.0 193.8,433.0 194.3,433.0 C194.8,433.0 195.3,433.0 195.8,433.0 C196.3,433.0 196.8,433.0 197.3,433.0 C197.8,433.0 198.3,433.0 198.8,433.0 C199.3,433.0 199.8,433.0 200.3,433.1 C200.8,433.2 201.3,433.4 201.8,433.6 C202.3,433.9 202.8,434.3 203.3,434.6 C203.8,434.8 204.3,435.0 204.8,435.1 C205.3,435.3 205.8,435.3 206.3,435.3 C206.8,435.3 207.3,435.3 207.8,435.3 C208.3,435.3 208.8,435.3 209.3,435.3 C209.8,435.3 210.3,435.3 210.8,435.2 C211.3,435.2 211.8,435.1 212.3,434.9 C212.8,434.7 213.3,434.3 213.8,434.1 C214.3,433.8 214.8,433.5 215.3,433.3 C215.8,433.1 216.3,433.1 216.8,433.0 C217.3,433.0 217.8,433.0 218.3,433.0 C218.8,433.0 219.3,433.0 219.8,433.0 C220.3,433.0 220.8,433.0 221.3,433.0 C221.8,433.0 222.3,433.0 222.8,433.0 C223.3,433.0 223.8,433.0 224.3,433.0 C224.8,433.0 225.3,433.0 225.8,433.0 C226.3,433.0 226.8,433.0 227.3,433.1 C227.8,433.2 228.3,433.4 228.8,433.6 C229.3,433.9 229.8,434.3 230.3,434.6 C230.8,434.8 231.3,435.0 231.8,435.1 C232.3,435.3 232.8,435.3 233.3,435.3 C233.8,435.3 234.3,435.3 234.8,435.3 C235.3,435.3 235.8,435.3 236.3,435.3 C236.8,435.3 237.3,435.3 237.8,435.2 C238.3,435.2 238.8,435.1 239.3,434.9 C239.8,434.7 240.3,434.3 240.8,434.0 C241.3,433.8 241.8,433.4 242.3,433.3 C242.8,433.1 243.3,433.1 243.8,433.0 C244.3,433.0 244.8,433.0 245.3,433.0 C245.8,433.0 246.3,433.0 246.8,433.0 C247.3,433.0 247.8,433.0 248.3,433.0 C248.8,433.0 249.3,433.0 249.8,433.0 C250.3,433.0 250.8,433.0 251.3,433.0 C251.8,433.0 252.3,433.0 252.8,433.0 C253.3,433.0 253.8,433.0 254.3,433.1 C254.8,433.2 255.3,433.4 255.8,433.6 C256.3,433.9 256.8,434.4 257.3,434.6 C257.8,434.9 258.3,435.0 258.8,435.2 C259.3,435.3 259.8,435.3 260.3,435.3 C260.8,435.3 261.3,435.3 261.8,435.3 C262.3,435.3 262.8,435.3 263.3,435.3 C263.8,435.3 264.3,435.3 264.8,435.2 C265.3,435.2 265.8,435.1 266.3,434.9 C266.8,434.7 267.3,434.3 267.8,434.0 C268.3,433.7 268.8,433.4 269.3,433.3 C269.8,433.1 270.3,433.1 270.8,433.0 C271.3,433.0 271.8,433.0 272.3,433.0 C272.8,433.0 273.3,433.0 273.8,433.0 C274.3,433.0 274.8,433.0 275.3,433.0 C275.8,433.0 276.3,433.0 276.8,433.0 C277.3,433.0 277.8,433.0 278.3,433.0 C278.8,433.0 279.3,433.0 279.8,433.0 C280.3,433.0 280.8,433.0 281.3,433.1 C281.8,433.2 282.3,433.4 282.8,433.7 C283.3,433.9 283.8,434.4 284.3,434.6 C284.8,434.9 285.3,435.0 285.8,435.2 C286.3,435.3 286.8,435.3 287.3,435.3 C287.8,435.3 288.3,435.3 288.8,435.3 C289.3,435.3 289.8,435.3 290.3,435.3 C290.8,435.3 291.3,435.3 291.8,435.2 C292.3,435.2 292.8,435.1 293.3,434.9 C293.8,434.7 294.3,434.3 294.8,434.0 C295.3,433.7 295.8,433.4 296.3,433.3 C296.8,433.1 297.3,433.1 297.8,433.0 C298.3,433.0 298.8,433.0 299.3,433.0 C299.8,433.0 300.3,433.0 300.8,433.0 C301.3,433.0 301.8,433.0 302.3,433.0 C302.8,433.0 303.3,433.0 303.8,433.0 C304.3,433.0 304.8,433.0 305.3,433.0 C305.8,433.0 306.3,433.0 306.8,433.0 C307.3,433.0 307.8,433.0 308.3,433.1 C308.8,433.3 309.3,433.4 309.8,433.7 C310.3,433.9 310.8,434.4 311.3,434.6 C311.8,434.9 312.3,435.0 312.8,435.2 C313.3,435.3 313.8,435.3 314.3,435.3 C314.8,435.3 315.3,435.3 315.8,435.3 C316.3,435.3 316.8,435.3 317.3,435.3 C317.8,435.3 318.3,435.3 318.8,435.2 C319.3,435.2 319.8,435.1 320.3,434.9 C320.8,434.7 321.3,434.2 321.8,434.0 C322.3,433.7 322.8,433.4 323.3,433.2 C323.8,433.1 324.3,433.1 324.8,433.0 C325.3,433.0 325.8,433.0 326.3,433.0 C326.8,433.0 327.3,433.0 327.8,433.0 C328.3,433.0 328.8,433.0 329.3,433.0 C329.8,433.0 330.3,433.0 330.8,433.0 C331.3,433.0 331.8,433.0 332.3,433.0 C332.8,433.0 333.3,433.0 333.8,433.0 C334.3,433.0 334.8,433.0 335.3,433.2 C335.8,433.3 336.3,433.4 336.8,433.7 C337.3,433.9 337.8,434.4 338.3,434.7 C338.8,434.9 339.3,435.1 339.8,435.2 C340.3,435.3 340.8,435.3 341.3,435.3 C341.8,435.3 342.3,435.3 342.8,435.3 C343.3,435.3 343.8,435.3 344.3,435.3 C344.8,435.3 345.3,435.3 345.8,435.2 C346.3,435.1 346.8,435.1 347.3,434.9 C347.8,434.6 348.3,434.2 348.8,434.0 C349.3,433.7 349.8,433.4 350.3,433.2 C350.8,433.1 351.3,433.1 351.8,433.0 C352.3,433.0 352.8,433.0 353.3,433.0 C353.8,433.0 354.3,433.0 354.8,433.0 C355.3,433.0 355.8,433.0 356.3,433.0 C356.8,433.0 357.3,433.0 357.8,433.0 C358.3,433.0 358.8,433.0 359.3,433.0 C359.8,433.0 360.3,433.0 360.8,433.0 C361.3,433.0 361.8,433.0 362.3,433.2 C362.8,433.3 363.3,433.5 363.8,433.7 C364.3,434.0 364.8,434.4 365.3,434.7 C365.8,434.9 366.3,435.1 366.8,435.2 C367.3,435.3 367.8,435.3 368.3,435.3 C368.8,435.3 369.3,435.3 369.8,435.3 C370.3,435.3 370.8,435.3 371.3,435.3 C371.8,435.3 372.3,435.3 372.8,435.2 C373.3,435.1 373.8,435.1 374.3,434.8 C374.8,434.6 375.3,434.2 375.8,433.9 C376.3,433.7 376.8,433.4 377.3,433.2 C377.8,433.1 378.3,433.1 378.8,433.0 C379.3,433.0 379.8,433.0 380.3,433.0 C380.8,433.0 381.3,433.0 381.8,433.0 C382.3,433.0 382.8,433.0 383.3,433.0 C383.8,433.0 384.3,433.0 384.8,433.0 C385.3,433.0 385.8,433.0 386.3,433.0 C386.8,433.0 387.3,433.0 387.8,433.0 C388.3,433.0 388.8,433.0 389.3,433.2 C389.8,433.3 390.3,433.5 390.8,433.7 C391.3,434.0 391.8,434.4 392.3,434.7 C392.8,434.9 393.3,435.1 393.8,435.2 C394.3,435.3 394.8,435.3 395.3,435.3 C395.8,435.3 396.3,435.3 396.8,435.3 C397.3,435.3 397.8,435.3 398.3,435.3 C398.8,435.3 399.3,435.3 399.8,435.2 C400.3,435.1 400.8,435.0 401.3,434.8 C401.8,434.6 402.3,434.2 402.8,433.9 C403.3,433.7 403.8,433.4 404.3,433.2 C404.8,433.1 405.3,433.1 405.8,433.0 C406.3,433.0 406.8,433.0 407.3,433.0 C407.8,433.0 408.3,433.0 408.8,433.0 C409.3,433.0 409.8,433.0 410.3,433.0 C410.8,433.0 411.3,433.0 411.8,433.0 C412.3,433.0 412.8,433.0 413.3,433.0 C413.8,433.0 414.3,433.0 414.8,433.0 C415.3,433.1 415.8,433.0 416.3,433.2 C416.8,433.3 417.3,433.5 417.8,433.8 C418.3,434.0 418.8,434.5 419.3,434.7 C419.8,434.9 420.3,435.1 420.8,435.2 C421.3,435.3 421.8,435.3 422.3,435.3 C422.8,435.3 423.3,435.3 423.8,435.3 C424.3,435.3 424.8,435.3 425.3,435.3 C425.8,435.3 426.3,435.3 426.8,435.2 C427.3,435.1 427.8,435.0 428.3,434.8 C428.8,434.6 429.3,434.2 429.8,433.9 C430.3,433.6 430.8,433.4 431.3,433.2 C431.8,433.1 432.3,433.1 432.8,433.0 C433.3,433.0 433.8,433.0 434.3,433.0 C434.8,433.0 435.3,433.0 435.8,433.0 C436.3,433.0 436.8,433.0 437.3,433.0 C437.8,433.0 438.3,433.0 438.8,433.0 C439.3,433.0 439.8,433.0 440.3,433.0 C440.8,433.0 441.3,433.0 441.8,433.0 C442.3,433.1 442.8,433.0 443.3,433.2 C443.8,433.3 444.3,433.5 444.8,433.8 C445.3,434.0 445.8,434.5 446.3,434.7 C446.8,435.0 447.3,435.1 447.8,435.2 C448.3,435.3 448.8,435.3 449.3,435.3 C449.8,435.3 450.3,435.3 450.8,435.3 C451.3,435.3 451.8,435.3 452.3,435.3 C452.8,435.3 453.3,435.3 453.8,435.2 C454.3,435.1 454.8,435.0 455.3,434.8 C455.8,434.6 456.3,434.1 456.8,433.9 C457.3,433.6 457.8,433.4 458.3,433.2 C458.8,433.1 459.3,433.1 459.8,433.0 C460.3,433.0 460.8,433.0 461.3,433.0 C461.8,433.0 462.3,433.0 462.8,433.0 C463.3,433.0 463.8,433.0 464.3,433.0 C464.8,433.0 465.3,433.0 465.8,433.0 C466.3,433.0 466.8,433.0 467.3,433.0 C467.8,433.0 468.3,433.0 468.8,433.0 C469.3,433.1 469.8,433.1 470.3,433.2 C470.8,433.3 471.3,433.5 471.8,433.8 C472.3,434.0 472.8,434.5 473.3,434.7 C473.8,435.0 474.3,435.1 474.8,435.2 C475.3,435.3 475.8,435.3 476.3,435.3 C476.8,435.3 477.3,435.3 477.8,435.3 C478.3,435.3 478.8,435.3 479.3,435.3 C479.8,435.3 480.3,435.3 480.8,435.2 C481.3,435.1 481.8,435.0 482.3,434.8 C482.8,434.6 483.3,434.1 483.8,433.9 C484.3,433.6 484.8,433.3 485.3,433.2 C485.8,433.1 486.3,433.1 486.8,433.0 C487.3,433.0 487.8,433.0 488.3,433.0 C488.8,433.0 489.3,433.0 489.8,433.0 C490.3,433.0 490.8,433.0 491.3,433.0 C491.8,433.0 492.3,433.0 492.8,433.0 C493.3,433.0 493.8,433.0 494.3,433.0 C494.8,433.0 495.3,433.0 495.8,433.0 C496.3,433.1 496.8,433.1 497.3,433.2 C497.8,433.3 498.3,433.5 498.8,433.8 C499.3,434.1 499.8,434.5 500.3,434.7 C500.8,435.0 501.3,435.1 501.8,435.2 C502.3,435.3 502.8,435.3 503.3,435.3 C503.8,435.3 504.3,435.3 504.8,435.3 C505.3,435.3 505.8,435.3 506.3,435.3 C506.8,435.3 507.3,435.3 507.8,435.2 C508.3,435.1 508.8,435.0 509.3,434.8 C509.8,434.5 510.3,434.1 510.8,433.8 C511.3,433.6 511.8,433.3 512.3,433.2 C512.8,433.1 513.3,433.1 513.8,433.0 C514.3,433.0 514.8,433.0 515.3,433.0 C515.8,433.0 516.0,432.9 516.8,433.0 C517.6,433.1 519.0,433.3 520.0,433.4 C521.0,433.4 521.7,432.9 522.6,433.4 C523.5,433.8 524.3,435.6 525.2,436.0 C526.1,436.5 526.9,436.0 527.8,436.0 C528.7,436.0 529.5,436.0 530.4,436.0 C531.3,436.0 532.1,436.0 533.0,436.0 C533.9,436.0 534.7,436.5 535.6,436.0 C536.5,435.6 537.3,433.8 538.2,433.4 C539.1,432.9 539.9,433.4 540.8,433.4 C541.7,433.4 542.5,433.8 543.4,433.4 C544.3,432.9 545.1,431.2 546.0,430.7 C546.9,430.3 547.7,430.7 548.6,430.7 C549.5,430.7 550.3,430.7 551.2,430.7 C552.1,430.7 552.9,430.7 553.8,430.7 C554.7,430.7 555.5,430.7 556.4,430.7 C557.3,430.7 558.1,431.2 559.0,430.7 C559.9,430.3 560.7,428.5 561.6,428.1 C562.5,427.6 563.3,428.1 564.2,428.1 C565.1,428.1 565.9,428.5 566.8,428.1 C567.7,427.6 568.5,425.8 569.4,425.4 C570.3,425.0 571.1,425.4 572.0,425.4 C572.9,425.4 573.7,425.4 574.6,425.4 C575.5,425.4 576.3,425.4 577.2,425.4 C578.1,425.4 578.9,425.4 579.8,425.4 C580.7,425.4 581.5,425.4 582.4,425.4 C583.3,425.4 584.1,425.8 585.0,425.4 C585.9,425.0 586.7,423.2 587.6,422.7 C588.5,422.3 589.3,423.2 590.2,422.7 C591.1,422.3 591.9,420.5 592.8,420.1 C593.7,419.6 594.5,420.1 595.4,420.1 C596.3,420.1 597.1,420.5 598.0,420.1 C598.9,419.6 599.7,417.9 600.6,417.4 C601.5,417.0 602.3,417.4 603.2,417.4 C604.1,417.4 604.9,417.9 605.8,417.4 C606.7,417.0 607.5,415.2 608.4,414.8 C609.3,414.3 610.1,415.2 611.0,414.8 C611.9,414.3 612.7,412.6 613.6,412.1 C614.5,411.7 615.3,412.6 616.2,412.1 C617.1,411.7 617.9,410.3 618.8,409.5 C619.7,408.6 620.5,407.2 621.4,406.8 C622.3,406.3 623.1,407.2 624.0,406.8 C624.9,406.3 625.7,405.0 626.6,404.1 C627.5,403.2 628.3,402.4 629.2,401.5 C630.1,400.6 630.9,399.3 631.8,398.8 C632.7,398.4 633.5,399.3 634.4,398.8 C635.3,398.4 636.1,397.0 637.0,396.2 C637.9,395.3 638.7,394.4 639.6,393.5 C640.5,392.6 641.3,392.2 642.2,390.8 C643.1,389.5 643.9,386.4 644.8,385.5 C645.7,384.6 646.5,386.4 647.4,385.5 C648.3,384.6 649.1,381.5 650.0,380.2 C650.9,378.9 651.7,378.9 652.6,377.5 C653.5,376.2 654.3,373.6 655.2,372.2 C656.1,370.9 656.9,370.5 657.8,369.6 C658.7,368.7 659.5,368.2 660.4,366.9 C661.3,365.6 662.1,363.4 663.0,361.6 C663.9,359.8 664.7,357.6 665.6,356.3 C666.5,354.9 667.3,355.4 668.2,353.6 C669.1,351.8 669.9,347.4 670.8,345.6 C671.7,343.9 672.5,344.7 673.4,343.0 C674.3,341.2 675.1,337.2 676.0,335.0 C676.9,332.8 677.7,331.5 678.6,329.7 C679.5,327.9 680.3,326.1 681.2,324.4 C682.1,322.6 682.9,320.8 683.8,319.0 C684.7,317.3 685.5,314.6 686.4,313.7 C687.3,312.8 688.1,314.2 689.0,313.7 C689.9,313.3 690.7,311.5 691.6,311.1 C692.5,310.6 693.3,311.1 694.2,311.1 C695.1,311.1 695.9,311.1 696.8,311.1 C697.7,311.1 698.5,310.6 699.4,311.1 C700.3,311.5 701.1,313.3 702.0,313.7 C702.9,314.2 703.7,313.3 704.6,313.7 C705.5,314.2 706.3,315.5 707.2,316.4 C708.1,317.3 708.9,318.2 709.8,319.0 C710.7,319.9 711.5,320.8 712.4,321.7 C713.3,322.6 714.1,323.9 715.0,324.4 C715.9,324.8 716.7,323.9 717.6,324.4 C718.5,324.8 719.3,326.6 720.2,327.0 C721.1,327.5 721.9,327.5 722.8,327.0 C723.7,326.6 724.5,324.8 725.4,324.4 C726.3,323.9 727.1,323.9 728.0,324.4 C728.9,324.8 729.7,326.6 730.6,327.0 C731.5,327.5 732.3,326.6 733.2,327.0 C734.1,327.5 734.9,329.2 735.8,329.7 C736.7,330.1 737.5,329.2 738.4,329.7 C739.3,330.1 740.1,331.9 741.0,332.3 C741.9,332.8 742.7,332.3 743.6,332.3 C744.5,332.3 745.3,332.3 746.2,332.3 C747.1,332.3 747.9,332.3 748.8,332.3 C749.7,332.3 750.5,332.3 751.4,332.3 C752.3,332.3 753.1,332.3 754.0,332.3 C754.9,332.3 755.7,332.3 756.6,332.3 C757.5,332.3 758.3,332.3 759.2,332.3 C760.1,332.3 760.9,332.3 761.8,332.3 C762.7,332.3 763.5,332.3 764.4,332.3 C765.3,332.3 766.1,332.3 767.0,332.3 C767.9,332.3 768.7,332.3 769.6,332.3 C770.5,332.3 771.3,331.9 772.2,332.3 C773.1,332.8 773.9,334.6 774.8,335.0 C775.7,335.4 776.5,335.0 777.4,335.0 C778.3,335.0 779.1,335.0 780.0,335.0 C780.9,335.0 781.7,335.0 782.6,335.0 C783.5,335.0 784.3,335.0 785.2,335.0 C786.1,335.0 786.9,335.0 787.8,335.0 C788.7,335.0 789.5,335.0 790.4,335.0 C791.3,335.0 792.1,334.6 793.0,335.0 C793.9,335.4 794.7,337.2 795.6,337.7 C796.5,338.1 797.3,337.2 798.2,337.7 C799.1,338.1 799.9,339.9 800.8,340.3 C801.7,340.8 802.5,340.3 803.4,340.3 C804.3,340.3 805.1,340.8 806.0,340.3 C806.9,339.9 807.7,338.1 808.6,337.7 C809.5,337.2 810.3,337.7 811.2,337.7 C812.1,337.7 812.9,337.7 813.8,337.7 C814.7,337.7 815.5,337.2 816.4,337.7 C817.3,338.1 818.1,339.9 819.0,340.3 C819.9,340.8 820.7,340.3 821.6,340.3 C822.5,340.3 823.3,339.9 824.2,340.3 C825.1,340.8 825.9,343.0 826.8,343.0 C827.7,343.0 828.5,340.8 829.4,340.3 C830.3,339.9 831.1,340.3 832.0,340.3 C832.9,340.3 833.7,339.9 834.6,340.3 C835.5,340.8 836.3,343.0 837.2,343.0 C838.1,343.0 838.9,340.8 839.8,340.3 C840.7,339.9 841.5,340.3 842.4,340.3 C843.3,340.3 844.1,340.3 845.0,340.3 C845.9,340.3 846.7,339.9 847.6,340.3 C848.5,340.8 849.3,342.5 850.2,343.0 C851.1,343.4 851.9,343.0 852.8,343.0 C853.7,343.0 854.5,343.0 855.4,343.0 C856.3,343.0 857.1,343.4 858.0,343.0 C858.9,342.5 859.7,340.8 860.6,340.3 C861.5,339.9 862.3,340.3 863.2,340.3 C864.1,340.3 864.9,340.3 865.8,340.3 C866.7,340.3 867.5,340.3 868.4,340.3 C869.3,340.3 870.1,340.3 871.0,340.3 C871.9,340.3 872.7,340.3 873.6,340.3 C874.5,340.3 875.3,339.4 876.2,340.3 C877.1,341.2 877.9,344.7 878.8,345.6 C879.7,346.5 880.5,345.6 881.4,345.6 C882.3,345.6 883.1,346.1 884.0,345.6 C884.9,345.2 885.7,343.0 886.6,343.0 C887.5,343.0 888.3,345.2 889.2,345.6 C890.1,346.1 890.9,345.6 891.8,345.6 C892.7,345.6 893.5,345.6 894.4,345.6 C895.3,345.6 896.1,346.1 897.0,345.6 C897.9,345.2 898.7,343.0 899.6,343.0 C900.5,343.0 901.3,345.2 902.2,345.6 C903.1,346.1 903.9,345.6 904.8,345.6 C905.7,345.6 906.5,345.6 907.4,345.6 C908.3,345.6 909.1,345.6 910.0,345.6 C910.9,345.6 911.7,345.6 912.6,345.6 C913.5,345.6 914.3,346.1 915.2,345.6 C916.1,345.2 916.9,343.0 917.8,343.0 C918.7,343.0 919.5,345.6 920.4,345.6 C921.3,345.6 922.1,343.4 923.0,343.0 C923.9,342.5 924.7,342.5 925.6,343.0 C926.5,343.4 927.3,345.2 928.2,345.6 C929.1,346.1 929.9,345.6 930.8,345.6 C931.7,345.6 932.5,345.6 933.4,345.6 C934.3,345.6 935.1,345.6 936.0,345.6 C936.9,345.6 937.7,346.1 938.6,345.6 C939.5,345.2 940.3,343.0 941.2,343.0 C942.1,343.0 942.9,345.6 943.8,345.6 C944.7,345.6 945.5,343.4 946.4,343.0 C947.3,342.5 948.1,342.5 949.0,343.0 C949.9,343.4 950.7,345.2 951.6,345.6 C952.5,346.1 953.3,345.2 954.2,345.6 C955.1,346.1 955.9,347.9 956.8,348.3 C957.7,348.7 958.5,348.3 959.4,348.3 C960.3,348.3 961.1,348.3 962.0,348.3 C962.9,348.3 963.7,348.7 964.6,348.3 C965.5,347.9 966.3,345.6 967.2,345.6 C968.1,345.6 968.9,348.3 969.8,348.3 C970.7,348.3 971.5,346.1 972.4,345.6 C973.3,345.2 974.1,345.6 975.0,345.6 C975.9,345.6 976.7,345.6 977.6,345.6 C978.5,345.6 979.3,345.6 980.2,345.6 C981.1,345.6 981.9,345.6 982.8,345.6 C983.7,345.6 984.5,345.6 985.4,345.6 C986.3,345.6 987.1,345.6 988.0,345.6 C988.9,345.6 989.7,345.6 990.6,345.6 C991.5,345.6 992.3,345.6 993.2,345.6 C994.1,345.6 994.9,345.6 995.8,345.6 C996.7,345.6 997.5,345.6 998.4,345.6 C999.3,345.6 1000.1,345.6 1001.0,345.6 C1001.9,345.6 1002.7,345.6 1003.6,345.6 C1004.5,345.6 1005.3,345.6 1006.2,345.6 C1007.1,345.6 1007.9,345.6 1008.8,345.6 C1009.7,345.6 1010.5,345.2 1011.4,345.6 C1012.3,346.1 1013.1,347.9 1014.0,348.3 C1014.9,348.7 1015.7,348.7 1016.6,348.3 C1017.5,347.9 1018.3,346.1 1019.2,345.6 C1020.1,345.2 1020.9,345.6 1021.8,345.6 C1022.7,345.6 1023.5,345.2 1024.4,345.6 C1025.3,346.1 1026.1,347.9 1027.0,348.3 C1027.9,348.7 1028.7,348.3 1029.6,348.3 C1030.5,348.3 1031.3,347.9 1032.2,348.3 C1033.1,348.7 1033.9,350.5 1034.8,351.0 C1035.7,351.4 1036.5,351.0 1037.4,351.0 C1038.3,351.0 1039.1,351.4 1040.0,351.0 C1040.9,350.5 1041.7,348.7 1042.6,348.3 C1043.5,347.9 1044.3,348.3 1045.2,348.3 C1046.1,348.3 1046.9,348.3 1047.8,348.3 C1048.7,348.3 1049.5,348.3 1050.4,348.3 C1051.3,348.3 1052.1,348.3 1053.0,348.3 C1053.9,348.3 1054.7,348.3 1055.6,348.3 C1056.5,348.3 1057.3,348.3 1058.2,348.3 C1059.1,348.3 1059.9,348.3 1060.8,348.3 C1061.7,348.3 1062.5,348.3 1063.4,348.3 C1064.3,348.3 1065.1,348.3 1066.0,348.3 C1066.9,348.3 1067.7,348.3 1068.6,348.3 C1069.5,348.3 1070.3,348.3 1071.2,348.3 C1072.1,348.3 1072.9,348.3 1073.8,348.3 C1074.7,348.3 1075.5,348.3 1076.4,348.3 C1077.3,348.3 1078.1,348.3 1079.0,348.3 C1079.9,348.3 1080.7,348.3 1081.6,348.3 C1082.5,348.3 1083.3,348.3 1084.2,348.3 C1085.1,348.3 1085.9,347.9 1086.8,348.3 C1087.7,348.7 1088.5,351.0 1089.4,351.0 C1090.3,351.0 1091.1,348.3 1092.0,348.3 C1092.9,348.3 1093.7,350.5 1094.6,351.0 C1095.5,351.4 1096.3,351.0 1097.2,351.0 C1098.1,351.0 1098.9,351.0 1099.8,351.0 C1100.7,351.0 1101.5,351.4 1102.4,351.0 C1103.3,350.5 1104.1,348.7 1105.0,348.3 C1105.9,347.9 1106.7,348.3 1107.6,348.3 C1108.5,348.3 1109.3,348.3 1110.2,348.3 C1111.1,348.3 1111.9,348.3 1112.8,348.3 C1113.7,348.3 1114.5,348.3 1115.4,348.3 C1116.3,348.3 1117.1,347.9 1118.0,348.3 C1118.9,348.7 1119.7,350.5 1120.6,351.0 C1121.5,351.4 1122.3,351.0 1123.2,351.0 C1124.1,351.0 1124.9,351.0 1125.8,351.0 C1126.7,351.0 1127.5,351.0 1128.4,351.0 C1129.3,351.0 1130.1,351.0 1131.0,351.0 C1131.9,351.0 1132.7,351.0 1133.6,351.0 C1134.5,351.0 1135.3,351.0 1136.2,351.0 C1137.1,351.0 1137.9,351.0 1138.8,351.0 C1139.7,351.0 1140.5,351.0 1141.4,351.0 C1142.3,351.0 1143.1,351.0 1144.0,351.0 C1144.9,351.0 1145.7,351.0 1146.6,351.0 C1147.5,351.0 1148.3,351.0 1149.2,351.0 C1150.1,351.0 1150.9,351.0 1151.8,351.0 C1152.7,351.0 1153.5,351.4 1154.4,351.0 C1155.3,350.5 1156.1,348.3 1157.0,348.3 C1157.9,348.3 1158.7,350.5 1159.6,351.0 C1160.5,351.4 1161.3,351.4 1162.2,351.0 C1163.1,350.5 1163.9,348.3 1164.8,348.3 C1165.7,348.3 1166.5,350.5 1167.4,351.0 C1168.3,351.4 1169.1,350.5 1170.0,351.0 C1170.9,351.4 1171.7,353.2 1172.6,353.6 C1173.5,354.1 1174.3,353.6 1175.2,353.6 C1176.1,353.6 1176.9,353.6 1177.8,353.6 C1178.7,353.6 1179.5,353.6 1180.4,353.6 C1181.3,353.6 1182.1,354.1 1183.0,353.6 C1183.9,353.2 1184.7,351.4 1185.6,351.0 C1186.5,350.5 1187.3,351.0 1188.2,351.0 C1189.1,351.0 1189.9,351.0 1190.8,351.0 C1191.7,351.0 1192.5,351.0 1193.4,351.0 C1194.3,351.0 1195.1,351.0 1196.0,351.0 C1196.9,351.0 1197.7,350.5 1198.6,351.0 C1199.5,351.4 1200.3,353.2 1201.2,353.6 C1202.1,354.1 1202.9,353.6 1203.8,353.6 C1204.7,353.6 1206.0,353.6 1206.4,353.6' fill='none' stroke='#FFC000' stroke-width='3.0' stroke-linejoin='round' stroke-linecap='round'/>
<path d='M162.8,429.8 C163.1,429.7 163.8,429.7 164.3,429.7 C164.8,429.7 165.3,429.7 165.8,429.7 C166.3,429.7 166.8,429.7 167.3,429.7 C167.8,429.7 168.3,429.7 168.8,429.7 C169.3,429.7 169.8,429.7 170.3,429.7 C170.8,429.7 171.3,429.7 171.8,429.7 C172.3,429.7 172.8,429.7 173.3,429.8 C173.8,430.0 174.3,430.1 174.8,430.4 C175.3,430.7 175.8,431.2 176.3,431.5 C176.8,431.8 177.3,432.0 177.8,432.2 C178.3,432.3 178.8,432.3 179.3,432.4 C179.8,432.4 180.3,432.4 180.8,432.4 C181.3,432.4 181.8,432.4 182.3,432.4 C182.8,432.4 183.3,432.4 183.8,432.3 C184.3,432.2 184.8,432.2 185.3,431.9 C185.8,431.7 186.3,431.3 186.8,431.0 C187.3,430.6 187.8,430.2 188.3,430.0 C188.8,429.8 189.3,429.8 189.8,429.8 C190.3,429.7 190.8,429.7 191.3,429.7 C191.8,429.7 192.3,429.7 192.8,429.7 C193.3,429.7 193.8,429.7 194.3,429.7 C194.8,429.7 195.3,429.7 195.8,429.7 C196.3,429.7 196.8,429.7 197.3,429.7 C197.8,429.7 198.3,429.7 198.8,429.7 C199.3,429.7 199.8,429.7 200.3,429.8 C200.8,430.0 201.3,430.1 201.8,430.4 C202.3,430.7 202.8,431.2 203.3,431.5 C203.8,431.8 204.3,432.1 204.8,432.2 C205.3,432.3 205.8,432.3 206.3,432.4 C206.8,432.4 207.3,432.4 207.8,432.4 C208.3,432.4 208.8,432.4 209.3,432.4 C209.8,432.4 210.3,432.4 210.8,432.3 C211.3,432.2 211.8,432.2 212.3,431.9 C212.8,431.7 213.3,431.3 213.8,430.9 C214.3,430.6 214.8,430.2 215.3,430.0 C215.8,429.8 216.3,429.8 216.8,429.8 C217.3,429.7 217.8,429.7 218.3,429.7 C218.8,429.7 219.3,429.7 219.8,429.7 C220.3,429.7 220.8,429.7 221.3,429.7 C221.8,429.7 222.3,429.7 222.8,429.7 C223.3,429.7 223.8,429.7 224.3,429.7 C224.8,429.7 225.3,429.7 225.8,429.7 C226.3,429.7 226.8,429.7 227.3,429.9 C227.8,430.0 228.3,430.2 228.8,430.4 C229.3,430.7 229.8,431.3 230.3,431.6 C230.8,431.8 231.3,432.1 231.8,432.2 C232.3,432.3 232.8,432.4 233.3,432.4 C233.8,432.4 234.3,432.4 234.8,432.4 C235.3,432.4 235.8,432.4 236.3,432.4 C236.8,432.4 237.3,432.4 237.8,432.3 C238.3,432.2 238.8,432.2 239.3,431.9 C239.8,431.7 240.3,431.2 240.8,430.9 C241.3,430.6 241.8,430.2 242.3,430.0 C242.8,429.8 243.3,429.8 243.8,429.8 C244.3,429.7 244.8,429.7 245.3,429.7 C245.8,429.7 246.3,429.7 246.8,429.7 C247.3,429.7 247.8,429.7 248.3,429.7 C248.8,429.7 249.3,429.7 249.8,429.7 C250.3,429.7 250.8,429.7 251.3,429.7 C251.8,429.7 252.3,429.7 252.8,429.7 C253.3,429.7 253.8,429.7 254.3,429.9 C254.8,430.0 255.3,430.2 255.8,430.5 C256.3,430.7 256.8,431.3 257.3,431.6 C257.8,431.9 258.3,432.1 258.8,432.2 C259.3,432.3 259.8,432.4 260.3,432.4 C260.8,432.4 261.3,432.4 261.8,432.4 C262.3,432.4 262.8,432.4 263.3,432.4 C263.8,432.4 264.3,432.4 264.8,432.3 C265.3,432.2 265.8,432.1 266.3,431.9 C266.8,431.7 267.3,431.2 267.8,430.9 C268.3,430.6 268.8,430.2 269.3,430.0 C269.8,429.8 270.3,429.8 270.8,429.7 C271.3,429.7 271.8,429.7 272.3,429.7 C272.8,429.7 273.3,429.7 273.8,429.7 C274.3,429.7 274.8,429.7 275.3,429.7 C275.8,429.7 276.3,429.7 276.8,429.7 C277.3,429.7 277.8,429.7 278.3,429.7 C278.8,429.7 279.3,429.7 279.8,429.7 C280.3,429.7 280.8,429.7 281.3,429.9 C281.8,430.0 282.3,430.2 282.8,430.5 C283.3,430.8 283.8,431.3 284.3,431.6 C284.8,431.9 285.3,432.1 285.8,432.2 C286.3,432.3 286.8,432.4 287.3,432.4 C287.8,432.4 288.3,432.4 288.8,432.4 C289.3,432.4 289.8,432.4 290.3,432.4 C290.8,432.4 291.3,432.4 291.8,432.3 C292.3,432.2 292.8,432.1 293.3,431.9 C293.8,431.6 294.3,431.2 294.8,430.9 C295.3,430.5 295.8,430.2 296.3,430.0 C296.8,429.8 297.3,429.8 297.8,429.7 C298.3,429.7 298.8,429.7 299.3,429.7 C299.8,429.7 300.3,429.7 300.8,429.7 C301.3,429.7 301.8,429.7 302.3,429.7 C302.8,429.7 303.3,429.7 303.8,429.7 C304.3,429.7 304.8,429.7 305.3,429.7 C305.8,429.7 306.3,429.7 306.8,429.7 C307.3,429.8 307.8,429.7 308.3,429.9 C308.8,430.0 309.3,430.2 309.8,430.5 C310.3,430.8 310.8,431.3 311.3,431.6 C311.8,431.9 312.3,432.1 312.8,432.2 C313.3,432.4 313.8,432.4 314.3,432.4 C314.8,432.4 315.3,432.4 315.8,432.4 C316.3,432.4 316.8,432.4 317.3,432.4 C317.8,432.4 318.3,432.4 318.8,432.3 C319.3,432.2 319.8,432.1 320.3,431.9 C320.8,431.6 321.3,431.2 321.8,430.8 C322.3,430.5 322.8,430.2 323.3,430.0 C323.8,429.8 324.3,429.8 324.8,429.7 C325.3,429.7 325.8,429.7 326.3,429.7 C326.8,429.7 327.3,429.7 327.8,429.7 C328.3,429.7 328.8,429.7 329.3,429.7 C329.8,429.7 330.3,429.7 330.8,429.7 C331.3,429.7 331.8,429.7 332.3,429.7 C332.8,429.7 333.3,429.7 333.8,429.7 C334.3,429.8 334.8,429.7 335.3,429.9 C335.8,430.0 336.3,430.2 336.8,430.5 C337.3,430.8 337.8,431.3 338.3,431.6 C338.8,431.9 339.3,432.1 339.8,432.2 C340.3,432.4 340.8,432.4 341.3,432.4 C341.8,432.4 342.3,432.4 342.8,432.4 C343.3,432.4 343.8,432.4 344.3,432.4 C344.8,432.4 345.3,432.4 345.8,432.3 C346.3,432.2 346.8,432.1 347.3,431.9 C347.8,431.6 348.3,431.1 348.8,430.8 C349.3,430.5 349.8,430.2 350.3,430.0 C350.8,429.8 351.3,429.8 351.8,429.7 C352.3,429.7 352.8,429.7 353.3,429.7 C353.8,429.7 354.3,429.7 354.8,429.7 C355.3,429.7 355.8,429.7 356.3,429.7 C356.8,429.7 357.3,429.7 357.8,429.7 C358.3,429.7 358.8,429.7 359.3,429.7 C359.8,429.7 360.3,429.7 360.8,429.7 C361.3,429.8 361.8,429.7 362.3,429.9 C362.8,430.0 363.3,430.2 363.8,430.5 C364.3,430.8 364.8,431.4 365.3,431.6 C365.8,431.9 366.3,432.1 366.8,432.2 C367.3,432.4 367.8,432.4 368.3,432.4 C368.8,432.4 369.3,432.4 369.8,432.4 C370.3,432.4 370.8,432.4 371.3,432.4 C371.8,432.4 372.3,432.4 372.8,432.3 C373.3,432.2 373.8,432.1 374.3,431.8 C374.8,431.6 375.3,431.1 375.8,430.8 C376.3,430.5 376.8,430.1 377.3,430.0 C377.8,429.8 378.3,429.8 378.8,429.7 C379.3,429.7 379.8,429.7 380.3,429.7 C380.8,429.7 381.3,429.7 381.8,429.7 C382.3,429.7 382.8,429.7 383.3,429.7 C383.8,429.7 384.3,429.7 384.8,429.7 C385.3,429.7 385.8,429.7 386.3,429.7 C386.8,429.7 387.3,429.7 387.8,429.7 C388.3,429.8 388.8,429.7 389.3,429.9 C389.8,430.0 390.3,430.3 390.8,430.6 C391.3,430.9 391.8,431.4 392.3,431.7 C392.8,431.9 393.3,432.1 393.8,432.2 C394.3,432.4 394.8,432.4 395.3,432.4 C395.8,432.4 396.3,432.4 396.8,432.4 C397.3,432.4 397.8,432.4 398.3,432.4 C398.8,432.4 399.3,432.4 399.8,432.3 C400.3,432.2 400.8,432.1 401.3,431.8 C401.8,431.6 402.3,431.1 402.8,430.8 C403.3,430.5 403.8,430.1 404.3,430.0 C404.8,429.8 405.3,429.8 405.8,429.7 C406.3,429.7 406.8,429.7 407.3,429.7 C407.8,429.7 408.3,429.7 408.8,429.7 C409.3,429.7 409.8,429.7 410.3,429.7 C410.8,429.7 411.3,429.7 411.8,429.7 C412.3,429.7 412.8,429.7 413.3,429.7 C413.8,429.7 414.3,429.7 414.8,429.7 C415.3,429.8 415.8,429.8 416.3,429.9 C416.8,430.0 417.3,430.3 417.8,430.6 C418.3,430.9 418.8,431.4 419.3,431.7 C419.8,432.0 420.3,432.1 420.8,432.2 C421.3,432.4 421.8,432.4 422.3,432.4 C422.8,432.4 423.3,432.4 423.8,432.4 C424.3,432.4 424.8,432.4 425.3,432.4 C425.8,432.4 426.3,432.4 426.8,432.3 C427.3,432.2 427.8,432.1 428.3,431.8 C428.8,431.6 429.3,431.1 429.8,430.7 C430.3,430.4 430.8,430.1 431.3,430.0 C431.8,429.8 432.3,429.8 432.8,429.7 C433.3,429.7 433.8,429.7 434.3,429.7 C434.8,429.7 435.3,429.7 435.8,429.7 C436.3,429.7 436.8,429.7 437.3,429.7 C437.8,429.7 438.3,429.7 438.8,429.7 C439.3,429.7 439.8,429.7 440.3,429.7 C440.8,429.7 441.3,429.7 441.8,429.7 C442.3,429.8 442.8,429.8 443.3,429.9 C443.8,430.0 444.3,430.3 444.8,430.6 C445.3,430.9 445.8,431.4 446.3,431.7 C446.8,432.0 447.3,432.1 447.8,432.3 C448.3,432.4 448.8,432.4 449.3,432.4 C449.8,432.4 450.3,432.4 450.8,432.4 C451.3,432.4 451.8,432.4 452.3,432.4 C452.8,432.4 453.3,432.4 453.8,432.3 C454.3,432.2 454.8,432.1 455.3,431.8 C455.8,431.5 456.3,431.0 456.8,430.7 C457.3,430.4 457.8,430.1 458.3,429.9 C458.8,429.8 459.3,429.8 459.8,429.7 C460.3,429.7 460.8,429.7 461.3,429.7 C461.8,429.7 462.3,429.7 462.8,429.7 C463.3,429.7 463.8,429.7 464.3,429.7 C464.8,429.7 465.3,429.7 465.8,429.7 C466.3,429.7 466.8,429.7 467.3,429.7 C467.8,429.7 468.3,429.7 468.8,429.7 C469.3,429.8 469.8,429.8 470.3,429.9 C470.8,430.1 471.3,430.3 471.8,430.6 C472.3,430.9 472.8,431.4 473.3,431.7 C473.8,432.0 474.3,432.1 474.8,432.3 C475.3,432.4 475.8,432.4 476.3,432.4 C476.8,432.4 477.3,432.4 477.8,432.4 C478.3,432.4 478.8,432.4 479.3,432.4 C479.8,432.4 480.3,432.4 480.8,432.3 C481.3,432.2 481.8,432.0 482.3,431.8 C482.8,431.5 483.3,431.0 483.8,430.7 C484.3,430.4 484.8,430.1 485.3,429.9 C485.8,429.8 486.3,429.8 486.8,429.7 C487.3,429.7 487.8,429.7 488.3,429.7 C488.8,429.7 489.3,429.7 489.8,429.7 C490.3,429.7 490.3,429.5 491.3,429.7 C492.3,429.8 493.9,431.4 496.0,430.6 C498.1,429.8 501.9,427.8 504.0,424.9 C506.1,422.0 507.2,418.0 508.4,413.1 C509.6,408.2 510.6,401.5 511.3,395.4 C512.0,389.2 512.4,389.2 512.8,376.2 C513.2,363.1 513.2,339.2 513.5,317.1 C513.8,295.0 514.0,265.4 514.3,243.3 C514.6,221.2 515.1,201.5 515.5,184.3 C515.9,167.1 516.1,157.4 516.5,140.0 C516.9,122.6 517.2,94.3 517.6,80.0 C518.0,65.7 518.3,57.4 518.6,54.1 C518.9,50.8 519.2,52.4 519.6,60.0 C520.0,67.7 520.5,86.7 521.0,100.0 C521.5,113.3 522.0,130.8 522.5,140.0 C523.0,149.2 523.4,154.7 524.0,155.5 C524.6,156.3 525.4,150.1 526.0,145.0 C526.6,139.9 527.0,129.5 527.5,125.0 C528.0,120.5 528.3,119.6 529.2,117.9 C530.1,116.2 531.9,117.2 533.1,115.0 C534.3,112.8 535.5,108.3 536.5,105.0 C537.5,101.7 538.0,97.4 539.0,95.0 C540.0,92.6 541.5,91.3 542.8,90.8 C544.0,90.3 545.2,91.0 546.5,92.0 C547.8,93.0 549.2,94.4 550.5,96.6 C551.8,98.8 552.7,101.6 554.0,105.0 C555.3,108.4 556.4,113.5 558.2,116.9 C560.0,120.3 562.3,123.0 565.0,125.6 C567.7,128.2 571.4,131.2 574.6,132.3 C577.8,133.4 581.7,131.5 584.3,132.3 C586.9,133.1 587.8,134.9 590.0,137.0 C592.2,139.1 595.2,143.4 597.8,144.9 C600.4,146.4 601.5,144.3 605.5,145.9 C609.5,147.5 617.9,153.7 621.9,154.5 C625.9,155.3 626.9,150.2 629.6,150.7 C632.3,151.2 636.0,156.4 638.3,157.4 C640.6,158.4 640.8,155.2 643.2,156.5 C645.6,157.8 650.2,164.7 652.8,165.2 C655.4,165.7 656.2,159.9 658.6,159.4 C661.0,158.9 664.4,161.3 667.3,162.3 C670.2,163.3 673.4,164.6 676.0,165.5 C678.6,166.4 681.4,167.5 682.7,168.0 C684.1,168.5 683.4,167.1 684.1,168.3 C684.8,169.5 685.9,170.1 687.0,175.1 C688.1,180.1 689.7,192.8 690.9,198.3 C692.1,203.8 692.7,205.1 694.0,208.0 C695.3,210.9 696.9,215.0 698.6,215.6 C700.3,216.2 702.3,215.0 704.4,211.8 C706.5,208.6 708.6,198.9 711.2,196.3 C713.8,193.7 716.9,195.0 719.9,196.3 C722.9,197.6 726.8,203.1 729.5,204.1 C732.2,205.1 733.7,201.5 736.3,202.1 C738.9,202.7 741.6,205.8 745.0,207.9 C748.4,210.0 753.5,213.9 756.5,214.7 C759.5,215.5 760.1,211.7 763.3,212.8 C766.5,213.9 772.2,219.2 775.9,221.4 C779.6,223.7 782.3,225.2 785.5,226.3 C788.7,227.4 791.7,227.4 795.2,228.2 C798.7,229.0 802.9,230.1 806.7,231.1 C810.6,232.1 815.1,232.7 818.3,234.0 C821.5,235.3 824.1,238.3 826.0,238.8 C827.9,239.3 828.0,236.9 829.9,236.9 C831.8,236.9 834.7,238.0 837.6,238.8 C840.5,239.6 844.1,242.0 847.3,241.7 C850.5,241.4 854.4,237.2 857.0,236.9 C859.6,236.6 860.8,238.2 862.7,239.8 C864.6,241.4 866.9,245.4 868.5,246.5 C870.1,247.6 869.5,245.5 872.4,246.5 C875.3,247.5 883.0,251.5 885.9,252.3 C888.8,253.1 888.2,252.1 890.0,251.5 C891.8,250.9 893.4,248.5 896.4,248.9 C899.4,249.3 903.9,252.7 908.0,254.1 C912.1,255.5 916.4,256.7 920.9,257.2 C925.4,257.7 931.7,256.6 935.1,257.2 C938.5,257.8 938.7,259.9 941.5,260.5 C944.3,261.1 947.5,259.5 951.8,260.5 C956.1,261.5 963.8,266.0 967.2,266.4 C970.6,266.8 970.5,263.1 972.4,263.1 C974.3,263.1 972.8,265.8 978.8,266.4 C984.8,266.9 1002.4,266.1 1008.4,266.4 C1014.4,266.7 1010.6,267.9 1014.9,268.2 C1019.2,268.5 1029.3,267.2 1034.2,268.2 C1039.1,269.1 1041.7,273.4 1044.5,273.9 C1047.3,274.4 1048.3,271.3 1050.9,271.3 C1053.5,271.3 1057.3,273.0 1059.9,273.9 C1062.5,274.8 1064.5,276.5 1066.4,276.5 C1068.3,276.5 1064.8,274.3 1071.5,273.9 C1078.2,273.5 1099.2,274.4 1106.3,273.9 C1113.4,273.4 1108.8,271.3 1114.0,270.8 C1119.2,270.3 1131.8,271.4 1137.2,270.8 C1142.6,270.2 1143.2,267.4 1146.2,267.5 C1149.2,267.6 1152.9,271.2 1155.2,271.3 C1157.5,271.4 1157.7,268.7 1160.3,268.2 C1162.9,267.7 1167.8,268.6 1170.6,268.2 C1173.4,267.8 1171.0,266.1 1177.1,265.7 C1183.2,265.3 1202.1,265.7 1207.1,265.7' fill='none' stroke='#4472C4' stroke-width='3.2' stroke-linejoin='round' stroke-linecap='round'/>
</g>
<g clip-path='url(#cpb)'>
<path d='M164.6,883.6 C187.2,883.7 252.4,884.1 300.0,884.3 C347.6,884.4 412.7,884.5 450.0,884.5 C487.3,884.5 511.1,884.7 524.0,884.5 C536.9,884.3 525.2,884.2 527.1,883.3 C529.0,882.4 532.2,880.4 535.2,879.2 C538.2,878.0 542.0,876.9 545.4,876.1 C548.8,875.3 551.4,874.9 555.6,874.6 C559.8,874.4 564.9,874.5 570.8,874.6 C576.7,874.7 584.3,874.8 591.1,875.1 C597.9,875.4 604.1,876.0 611.5,876.6 C618.9,877.2 624.8,877.9 635.2,878.7 C645.6,879.5 665.1,880.6 673.8,881.6 C682.5,882.6 682.5,883.0 687.3,884.5 C692.1,886.0 697.2,889.0 702.7,890.3 C708.2,891.6 710.5,891.0 720.0,892.5 C729.5,894.0 746.1,897.9 759.4,899.6 C772.7,901.4 786.9,902.0 800.0,903.0 C813.1,904.0 814.8,904.6 838.2,905.5 C861.7,906.4 907.9,908.1 940.7,908.6 C973.6,909.1 1006.4,908.8 1035.3,908.6 C1064.2,908.4 1085.6,907.9 1114.2,907.4 C1142.8,906.9 1191.6,905.8 1207.1,905.5' fill='none' stroke='#000' stroke-width='3.0' stroke-linejoin='round' stroke-linecap='round' filter='url(#sob)'/><path d='M164.6,881.9 C187.2,881.9 252.4,881.8 300.0,881.7 C347.6,881.6 413.0,881.5 450.0,881.5 C487.0,881.5 509.3,881.8 522.0,881.8 C534.7,881.8 524.6,883.0 526.1,881.5 C527.6,880.0 529.7,877.1 531.2,873.1 C532.7,869.1 533.9,862.9 535.2,857.8 C536.6,852.7 538.0,847.7 539.3,842.6 C540.6,837.5 541.8,832.5 542.9,827.4 C544.0,822.3 545.0,817.2 545.9,812.1 C546.8,807.0 547.7,802.0 548.5,796.9 C549.3,791.8 549.8,786.2 550.5,781.6 C551.2,777.0 551.6,774.1 552.5,769.4 C553.4,764.7 554.6,757.9 555.6,753.2 C556.6,748.5 557.6,745.1 558.6,741.0 C559.6,736.9 560.5,732.5 561.7,728.8 C562.9,725.1 564.2,721.6 565.7,718.6 C567.2,715.6 568.9,713.2 570.8,710.5 C572.7,707.8 574.5,705.4 576.9,702.4 C579.3,699.4 582.3,694.9 585.0,692.2 C587.7,689.5 590.5,687.6 593.2,686.1 C595.9,684.6 598.8,683.6 601.3,683.0 C603.8,682.4 605.3,683.0 608.4,682.5 C611.5,682.0 616.8,680.6 620.0,680.0 C623.2,679.4 623.6,680.0 627.4,678.8 C631.2,677.6 638.1,674.9 642.9,673.0 C647.7,671.1 652.9,669.8 656.4,667.2 C659.9,664.6 661.2,661.5 664.1,657.6 C667.0,653.8 670.6,648.6 673.8,644.1 C677.0,639.6 681.1,634.7 683.4,630.5 C685.7,626.3 686.2,622.0 687.5,619.0 C688.8,616.0 690.0,613.2 691.2,612.2 C692.5,611.2 693.1,611.9 695.0,613.0 C696.9,614.1 699.5,615.8 702.7,619.0 C705.9,622.2 710.1,628.3 714.3,632.5 C718.5,636.7 723.5,640.7 727.8,644.1 C732.1,647.5 736.7,650.9 740.0,652.8 C743.3,654.6 743.4,653.7 747.6,655.2 C751.8,656.7 757.8,659.7 765.0,662.0 C772.2,664.3 778.8,667.0 791.0,669.0 C803.2,671.0 813.2,672.1 838.2,674.1 C863.2,676.1 907.9,678.4 940.7,680.8 C973.6,683.2 1006.4,686.7 1035.3,688.7 C1064.2,690.7 1085.6,691.3 1114.2,692.6 C1142.8,693.9 1191.6,695.9 1207.1,696.6' fill='none' stroke='#000' stroke-width='3.0' stroke-linejoin='round' stroke-linecap='round' filter='url(#sob)'/><path d='M164.6,879.6 C178.8,879.5 219.1,879.2 250.0,879.0 C280.9,878.8 316.7,878.6 350.0,878.5 C383.3,878.4 420.6,878.4 450.0,878.4 C479.4,878.4 512.6,878.9 526.1,878.2 C539.6,877.5 529.3,876.3 531.2,874.1 C533.1,871.9 535.3,868.0 537.3,865.0 C539.3,862.0 541.4,858.5 543.4,855.8 C545.4,853.1 547.5,850.7 549.5,848.7 C551.5,846.7 552.9,845.0 555.6,843.6 C558.3,842.2 561.5,841.0 565.7,840.1 C569.9,839.2 575.1,838.9 581.0,838.5 C586.9,838.1 594.8,838.0 601.3,838.0 C607.8,838.0 611.8,838.5 620.0,838.5 C628.2,838.5 642.3,839.1 650.6,838.1 C658.9,837.1 664.4,833.9 669.9,832.3 C675.4,830.7 680.0,829.6 683.4,828.5 C686.8,827.4 687.0,825.3 690.2,825.6 C693.4,825.9 699.0,828.8 702.7,830.4 C706.4,832.0 709.5,834.3 712.4,835.2 C715.3,836.1 714.1,834.7 720.0,835.7 C725.9,836.7 727.9,839.9 747.6,841.2 C767.3,842.5 806.0,842.7 838.2,843.6 C870.4,844.5 901.3,845.4 940.7,846.4 C980.1,847.4 1030.4,848.6 1074.8,849.5 C1119.2,850.4 1185.0,851.2 1207.1,851.5' fill='none' stroke='#000' stroke-width='3.0' stroke-linejoin='round' stroke-linecap='round' filter='url(#sob)'/>
<path d='M164.6,883.6 C187.2,883.7 252.4,884.1 300.0,884.3 C347.6,884.4 412.7,884.5 450.0,884.5 C487.3,884.5 511.1,884.7 524.0,884.5 C536.9,884.3 525.2,884.2 527.1,883.3 C529.0,882.4 532.2,880.4 535.2,879.2 C538.2,878.0 542.0,876.9 545.4,876.1 C548.8,875.3 551.4,874.9 555.6,874.6 C559.8,874.4 564.9,874.5 570.8,874.6 C576.7,874.7 584.3,874.8 591.1,875.1 C597.9,875.4 604.1,876.0 611.5,876.6 C618.9,877.2 624.8,877.9 635.2,878.7 C645.6,879.5 665.1,880.6 673.8,881.6 C682.5,882.6 682.5,883.0 687.3,884.5 C692.1,886.0 697.2,889.0 702.7,890.3 C708.2,891.6 710.5,891.0 720.0,892.5 C729.5,894.0 746.1,897.9 759.4,899.6 C772.7,901.4 786.9,902.0 800.0,903.0 C813.1,904.0 814.8,904.6 838.2,905.5 C861.7,906.4 907.9,908.1 940.7,908.6 C973.6,909.1 1006.4,908.8 1035.3,908.6 C1064.2,908.4 1085.6,907.9 1114.2,907.4 C1142.8,906.9 1191.6,905.8 1207.1,905.5' fill='none' stroke='#4472C4' stroke-width='3.0' stroke-linejoin='round' stroke-linecap='round'/>
<path d='M164.6,881.9 C187.2,881.9 252.4,881.8 300.0,881.7 C347.6,881.6 413.0,881.5 450.0,881.5 C487.0,881.5 509.3,881.8 522.0,881.8 C534.7,881.8 524.6,883.0 526.1,881.5 C527.6,880.0 529.7,877.1 531.2,873.1 C532.7,869.1 533.9,862.9 535.2,857.8 C536.6,852.7 538.0,847.7 539.3,842.6 C540.6,837.5 541.8,832.5 542.9,827.4 C544.0,822.3 545.0,817.2 545.9,812.1 C546.8,807.0 547.7,802.0 548.5,796.9 C549.3,791.8 549.8,786.2 550.5,781.6 C551.2,777.0 551.6,774.1 552.5,769.4 C553.4,764.7 554.6,757.9 555.6,753.2 C556.6,748.5 557.6,745.1 558.6,741.0 C559.6,736.9 560.5,732.5 561.7,728.8 C562.9,725.1 564.2,721.6 565.7,718.6 C567.2,715.6 568.9,713.2 570.8,710.5 C572.7,707.8 574.5,705.4 576.9,702.4 C579.3,699.4 582.3,694.9 585.0,692.2 C587.7,689.5 590.5,687.6 593.2,686.1 C595.9,684.6 598.8,683.6 601.3,683.0 C603.8,682.4 605.3,683.0 608.4,682.5 C611.5,682.0 616.8,680.6 620.0,680.0 C623.2,679.4 623.6,680.0 627.4,678.8 C631.2,677.6 638.1,674.9 642.9,673.0 C647.7,671.1 652.9,669.8 656.4,667.2 C659.9,664.6 661.2,661.5 664.1,657.6 C667.0,653.8 670.6,648.6 673.8,644.1 C677.0,639.6 681.1,634.7 683.4,630.5 C685.7,626.3 686.2,622.0 687.5,619.0 C688.8,616.0 690.0,613.2 691.2,612.2 C692.5,611.2 693.1,611.9 695.0,613.0 C696.9,614.1 699.5,615.8 702.7,619.0 C705.9,622.2 710.1,628.3 714.3,632.5 C718.5,636.7 723.5,640.7 727.8,644.1 C732.1,647.5 736.7,650.9 740.0,652.8 C743.3,654.6 743.4,653.7 747.6,655.2 C751.8,656.7 757.8,659.7 765.0,662.0 C772.2,664.3 778.8,667.0 791.0,669.0 C803.2,671.0 813.2,672.1 838.2,674.1 C863.2,676.1 907.9,678.4 940.7,680.8 C973.6,683.2 1006.4,686.7 1035.3,688.7 C1064.2,690.7 1085.6,691.3 1114.2,692.6 C1142.8,693.9 1191.6,695.9 1207.1,696.6' fill='none' stroke='#A5A5A5' stroke-width='3.0' stroke-linejoin='round' stroke-linecap='round'/>
<path d='M164.6,879.6 C178.8,879.5 219.1,879.2 250.0,879.0 C280.9,878.8 316.7,878.6 350.0,878.5 C383.3,878.4 420.6,878.4 450.0,878.4 C479.4,878.4 512.6,878.9 526.1,878.2 C539.6,877.5 529.3,876.3 531.2,874.1 C533.1,871.9 535.3,868.0 537.3,865.0 C539.3,862.0 541.4,858.5 543.4,855.8 C545.4,853.1 547.5,850.7 549.5,848.7 C551.5,846.7 552.9,845.0 555.6,843.6 C558.3,842.2 561.5,841.0 565.7,840.1 C569.9,839.2 575.1,838.9 581.0,838.5 C586.9,838.1 594.8,838.0 601.3,838.0 C607.8,838.0 611.8,838.5 620.0,838.5 C628.2,838.5 642.3,839.1 650.6,838.1 C658.9,837.1 664.4,833.9 669.9,832.3 C675.4,830.7 680.0,829.6 683.4,828.5 C686.8,827.4 687.0,825.3 690.2,825.6 C693.4,825.9 699.0,828.8 702.7,830.4 C706.4,832.0 709.5,834.3 712.4,835.2 C715.3,836.1 714.1,834.7 720.0,835.7 C725.9,836.7 727.9,839.9 747.6,841.2 C767.3,842.5 806.0,842.7 838.2,843.6 C870.4,844.5 901.3,845.4 940.7,846.4 C980.1,847.4 1030.4,848.6 1074.8,849.5 C1119.2,850.4 1185.0,851.2 1207.1,851.5' fill='none' stroke='#ED7D31' stroke-width='3.0' stroke-linejoin='round' stroke-linecap='round'/>
</g>
<g clip-path='url(#cpc)'>
<polyline points='166.1,1467.0 1212.3,1467.0' fill='none' stroke='#000' stroke-width='2.4' stroke-linejoin='round' stroke-linecap='round' stroke-dasharray='10 10' filter='url(#soc)'/><polyline points='166.1,1468.8 560.0,1468.8' fill='none' stroke='#000' stroke-width='2.8' stroke-linejoin='round' stroke-linecap='round' filter='url(#soc)'/><polyline points='166.1,1467.0 520.0,1467.0 522.0,1464.7 524.6,1462.1 527.2,1462.1 529.8,1462.1 532.4,1462.1 535.0,1462.1 537.6,1462.1 540.2,1462.1 542.8,1462.1 545.4,1462.1 548.0,1459.6 550.6,1459.6 553.2,1459.6 555.8,1457.1 558.4,1457.1 561.0,1457.1 563.6,1457.1 566.2,1457.1 568.8,1457.1 571.4,1457.1 574.0,1457.1 576.6,1457.1 579.2,1459.6 581.8,1457.1 584.4,1457.1 587.0,1454.5 589.6,1452.0 592.2,1449.4 594.8,1449.4 597.4,1449.4 600.0,1449.4 602.6,1446.9 605.2,1446.9 607.8,1446.9 610.4,1444.4 613.0,1444.4 615.6,1444.4 618.2,1441.8 620.8,1441.8 623.4,1441.8 626.0,1439.3 628.6,1436.8 631.2,1436.8 633.8,1434.2 636.4,1429.1 639.0,1426.6 641.6,1421.5 644.2,1419.0 646.8,1416.5 649.4,1413.9 652.0,1411.4 654.6,1408.8 657.2,1406.3 659.8,1403.8 662.4,1401.2 665.0,1398.7 667.6,1396.2 670.2,1393.6 672.8,1391.1 675.4,1388.6 678.0,1386.0 680.6,1386.0 683.2,1383.5 685.8,1380.9 688.4,1380.9 691.0,1378.4 693.6,1378.4 696.2,1375.9 698.8,1375.9 701.4,1373.3 704.0,1370.8 706.6,1370.8 709.2,1370.8 711.8,1370.8 714.4,1370.8 717.0,1368.3 719.6,1368.3 722.2,1368.3 724.8,1368.3 727.4,1368.3 730.0,1368.3 732.6,1368.3 735.2,1368.3 737.8,1368.3 740.4,1368.3 743.0,1368.3 745.6,1368.3 748.2,1368.3 750.8,1368.3 753.4,1368.3 756.0,1368.3 758.6,1368.3 761.2,1368.3 763.8,1368.3 766.4,1368.3 769.0,1368.3 771.6,1368.3 774.2,1365.7 776.8,1365.7 779.4,1363.2 782.0,1365.7 784.6,1365.7 787.2,1365.7 789.8,1365.7 792.4,1365.7 795.0,1368.3 797.6,1368.3 800.2,1370.8 802.8,1370.8 805.4,1370.8 808.0,1370.8 810.6,1373.3 813.2,1373.3 815.8,1375.9 818.4,1375.9 821.0,1378.4 823.6,1378.4 826.2,1378.4 828.8,1378.4 831.4,1378.4 834.0,1380.9 836.6,1380.9 839.2,1380.9 841.8,1383.5 844.4,1383.5 847.0,1386.0 849.6,1386.0 852.2,1383.5 854.8,1383.5 857.4,1383.5 860.0,1383.5 862.6,1383.5 865.2,1386.0 867.8,1386.0 870.4,1386.0 873.0,1386.0 875.6,1388.6 878.2,1388.6 880.8,1386.0 883.4,1386.0 886.0,1386.0 888.6,1386.0 891.2,1388.6 893.8,1388.6 896.4,1388.6 899.0,1391.1 901.6,1391.1 904.2,1393.6 906.8,1393.6 909.4,1393.6 912.0,1396.2 914.6,1396.2 917.2,1396.2 919.8,1396.2 922.4,1396.2 925.0,1396.2 927.6,1396.2 930.2,1396.2 932.8,1396.2 935.4,1396.2 938.0,1396.2 940.6,1396.2 943.2,1396.2 945.8,1398.7 948.4,1398.7 951.0,1398.7 953.6,1398.7 956.2,1398.7 958.8,1398.7 961.4,1398.7 964.0,1398.7 966.6,1401.2 969.2,1401.2 971.8,1401.2 974.4,1401.2 977.0,1403.8 979.6,1403.8 982.2,1403.8 984.8,1406.3 987.4,1406.3 990.0,1406.3 992.6,1406.3 995.2,1403.8 997.8,1403.8 1000.4,1403.8 1003.0,1406.3 1005.6,1406.3 1008.2,1403.8 1010.8,1406.3 1013.4,1403.8 1016.0,1406.3 1018.6,1403.8 1021.2,1403.8 1023.8,1406.3 1026.4,1403.8 1029.0,1403.8 1031.6,1406.3 1034.2,1403.8 1036.8,1403.8 1039.4,1406.3 1042.0,1406.3 1044.6,1406.3 1047.2,1406.3 1049.8,1408.8 1052.4,1408.8 1055.0,1406.3 1057.6,1408.8 1060.2,1408.8 1062.8,1408.8 1065.4,1408.8 1068.0,1408.8 1070.6,1408.8 1073.2,1408.8 1075.8,1408.8 1078.4,1408.8 1081.0,1408.8 1083.6,1408.8 1086.2,1411.4 1088.8,1408.8 1091.4,1408.8 1094.0,1408.8 1096.6,1408.8 1099.2,1408.8 1101.8,1408.8 1104.4,1408.8 1107.0,1408.8 1109.6,1408.8 1112.2,1408.8 1114.8,1408.8 1117.4,1408.8 1120.0,1408.8 1122.6,1408.8 1125.2,1411.4 1127.8,1411.4 1130.4,1411.4 1133.0,1411.4 1135.6,1411.4 1138.2,1411.4 1140.8,1411.4 1143.4,1413.9 1146.0,1413.9 1148.6,1413.9 1151.2,1413.9 1153.8,1416.5 1156.4,1416.5 1159.0,1416.5 1161.6,1416.5 1164.2,1416.5 1166.8,1416.5 1169.4,1416.5 1172.0,1416.5 1174.6,1416.5 1177.2,1413.9 1179.8,1416.5 1182.4,1413.9 1185.0,1416.5 1187.6,1416.5 1190.2,1416.5 1192.8,1419.0 1195.4,1419.0 1198.0,1419.0 1200.6,1419.0 1203.2,1416.5 1205.8,1416.5 1208.4,1416.5 1211.0,1416.5' fill='none' stroke='#000' stroke-width='3.0' stroke-linejoin='round' stroke-linecap='round' filter='url(#soc)'/><polyline points='166.1,1467.6 545.0,1467.6 547.0,1464.7 549.6,1464.7 552.2,1462.1 554.8,1462.1 557.4,1462.1 560.0,1462.1 562.6,1462.1 565.2,1459.6 567.8,1459.6 570.4,1459.6 573.0,1459.6 575.6,1462.1 578.2,1462.1 580.8,1462.1 583.4,1462.1 586.0,1459.6 588.6,1459.6 591.2,1457.1 593.8,1457.1 596.4,1457.1 599.0,1457.1 601.6,1457.1 604.2,1457.1 606.8,1454.5 609.4,1454.5 612.0,1454.5 614.6,1452.0 617.2,1452.0 619.8,1452.0 622.4,1449.4 625.0,1449.4 627.6,1449.4 630.2,1449.4 632.8,1449.4 635.4,1446.9 638.0,1446.9 640.6,1446.9 643.2,1446.9 645.8,1446.9 648.4,1446.9 651.0,1446.9 653.6,1446.9 656.2,1446.9 658.8,1444.4 661.4,1444.4 664.0,1444.4 666.6,1444.4 669.2,1441.8 671.8,1441.8 674.4,1439.3 677.0,1439.3 679.6,1439.3 682.2,1439.3 684.8,1439.3 687.4,1436.8 690.0,1434.2 692.6,1434.2 695.2,1431.7 697.8,1429.1 700.4,1424.1 703.0,1424.1 705.6,1421.5 708.2,1421.5 710.8,1419.0 713.4,1421.5 716.0,1419.0 718.6,1419.0 721.2,1419.0 723.8,1419.0 726.4,1416.5 729.0,1419.0 731.6,1419.0 734.2,1419.0 736.8,1416.5 739.4,1416.5 742.0,1413.9 744.6,1413.9 747.2,1411.4 749.8,1411.4 752.4,1408.8 755.0,1408.8 757.6,1408.8 760.2,1408.8 762.8,1408.8 765.4,1406.3 768.0,1408.8 770.6,1408.8 773.2,1406.3 775.8,1403.8 778.4,1403.8 781.0,1403.8 783.6,1403.8 786.2,1403.8 788.8,1403.8 791.4,1406.3 794.0,1403.8 796.6,1403.8 799.2,1403.8 801.8,1401.2 804.4,1401.2 807.0,1401.2 809.6,1403.8 812.2,1401.2 814.8,1401.2 817.4,1403.8 820.0,1403.8 822.6,1403.8 825.2,1403.8 827.8,1403.8 830.4,1401.2 833.0,1401.2 835.6,1401.2 838.2,1401.2 840.8,1401.2 843.4,1403.8 846.0,1406.3 848.6,1406.3 851.2,1406.3 853.8,1406.3 856.4,1406.3 859.0,1403.8 861.6,1403.8 864.2,1403.8 866.8,1403.8 869.4,1406.3 872.0,1406.3 874.6,1406.3 877.2,1408.8 879.8,1408.8 882.4,1411.4 885.0,1411.4 887.6,1411.4 890.2,1411.4 892.8,1408.8 895.4,1408.8 898.0,1408.8 900.6,1408.8 903.2,1408.8 905.8,1408.8 908.4,1408.8 911.0,1408.8 913.6,1408.8 916.2,1411.4 918.8,1411.4 921.4,1411.4 924.0,1411.4 926.6,1411.4 929.2,1413.9 931.8,1413.9 934.4,1413.9 937.0,1413.9 939.6,1413.9 942.2,1413.9 944.8,1416.5 947.4,1416.5 950.0,1416.5 952.6,1416.5 955.2,1416.5 957.8,1416.5 960.4,1416.5 963.0,1419.0 965.6,1419.0 968.2,1419.0 970.8,1416.5 973.4,1416.5 976.0,1416.5 978.6,1416.5 981.2,1416.5 983.8,1419.0 986.4,1419.0 989.0,1419.0 991.6,1416.5 994.2,1416.5 996.8,1416.5 999.4,1416.5 1002.0,1419.0 1004.6,1416.5 1007.2,1416.5 1009.8,1416.5 1012.4,1416.5 1015.0,1419.0 1017.6,1419.0 1020.2,1421.5 1022.8,1421.5 1025.4,1421.5 1028.0,1421.5 1030.6,1424.1 1033.2,1424.1 1035.8,1424.1 1038.4,1424.1 1041.0,1424.1 1043.6,1424.1 1046.2,1424.1 1048.8,1424.1 1051.4,1424.1 1054.0,1424.1 1056.6,1424.1 1059.2,1424.1 1061.8,1424.1 1064.4,1424.1 1067.0,1424.1 1069.6,1424.1 1072.2,1426.6 1074.8,1426.6 1077.4,1426.6 1080.0,1426.6 1082.6,1426.6 1085.2,1426.6 1087.8,1426.6 1090.4,1429.1 1093.0,1429.1 1095.6,1426.6 1098.2,1426.6 1100.8,1426.6 1103.4,1429.1 1106.0,1429.1 1108.6,1429.1 1111.2,1429.1 1113.8,1429.1 1116.4,1429.1 1119.0,1429.1 1121.6,1429.1 1124.2,1429.1 1126.8,1429.1 1129.4,1426.6 1132.0,1426.6 1134.6,1426.6 1137.2,1426.6 1139.8,1426.6 1142.4,1429.1 1145.0,1429.1 1147.6,1429.1 1150.2,1429.1 1152.8,1431.7 1155.4,1429.1 1158.0,1431.7 1160.6,1431.7 1163.2,1429.1 1165.8,1429.1 1168.4,1429.1 1171.0,1429.1 1173.6,1429.1 1176.2,1429.1 1178.8,1429.1 1181.4,1429.1 1184.0,1429.1 1186.6,1429.1 1189.2,1429.1 1191.8,1429.1 1194.4,1429.1 1197.0,1429.1 1199.6,1429.1 1202.2,1431.7 1204.8,1431.7 1207.4,1429.1 1210.0,1429.1' fill='none' stroke='#000' stroke-width='3.0' stroke-linejoin='round' stroke-linecap='round' filter='url(#soc)'/><polyline points='166.1,1466.2 690.0,1465.0 693.0,1464.9 696.0,1464.7 696.5,1464.7 699.0,1466.5 702.0,1466.4 705.0,1466.2 706.8,1466.2 708.0,1465.1 709.3,1464.0 711.0,1464.0 714.0,1463.8 717.0,1463.7 720.0,1463.5 723.0,1463.3 723.8,1463.3 726.0,1465.0 726.3,1465.2 729.0,1465.0 732.0,1464.9 734.1,1464.8 735.0,1464.0 736.6,1462.7 738.0,1462.6 741.0,1462.5 744.0,1462.3 747.0,1462.2 750.0,1462.0 751.1,1461.9 753.0,1463.4 753.6,1463.8 756.0,1463.7 759.0,1463.5 761.4,1463.4 762.0,1462.9 763.9,1461.3 765.0,1461.2 768.0,1461.1 771.0,1461.0 774.0,1460.8 777.0,1460.7 778.4,1460.6 780.0,1461.8 780.9,1462.5 783.0,1462.3 786.0,1462.2 788.7,1462.1 789.0,1461.8 791.2,1459.9 792.0,1459.9 795.0,1459.8 798.0,1459.6 801.0,1459.5 804.0,1459.4 805.7,1459.4 807.0,1460.4 808.2,1461.3 810.0,1461.3 813.0,1461.2 816.0,1461.1 818.5,1459.1 819.0,1459.1 822.0,1459.0 825.0,1459.0 828.0,1458.9 831.0,1458.8 833.0,1458.8 834.0,1459.6 835.5,1460.7 837.0,1460.7 840.0,1460.6 843.0,1460.6 843.3,1460.5 845.8,1458.5 846.0,1458.5 849.0,1458.4 852.0,1458.4 855.0,1458.3 858.0,1458.2 860.3,1458.2 861.0,1458.7 862.8,1460.1 864.0,1460.1 867.0,1460.0 870.0,1460.0 870.6,1459.9 873.0,1458.0 873.1,1457.9 876.0,1457.8 879.0,1457.8 882.0,1457.7 885.0,1457.6 887.6,1457.6 888.0,1457.9 890.1,1459.5 891.0,1459.5 894.0,1459.4 897.0,1459.4 897.9,1459.3 900.0,1457.6 900.4,1457.3 903.0,1457.3 906.0,1457.2 909.0,1457.2 912.0,1457.1 914.9,1457.1 915.0,1457.2 917.4,1459.0 918.0,1459.0 921.0,1459.0 924.0,1458.9 925.2,1458.9 927.0,1457.5 927.7,1456.9 930.0,1456.8 933.0,1456.8 936.0,1456.8 939.0,1456.7 942.0,1456.7 942.2,1456.7 944.7,1458.6 945.0,1458.6 948.0,1458.6 951.0,1458.5 952.5,1458.5 954.0,1457.3 955.0,1456.5 957.0,1456.4 960.0,1456.4 963.0,1456.4 966.0,1456.3 969.0,1456.3 969.5,1456.3 972.0,1458.2 975.0,1458.2 978.0,1458.1 979.8,1458.1 981.0,1457.1 982.3,1456.1 984.0,1456.0 987.0,1456.0 990.0,1456.0 993.0,1455.9 996.0,1455.9 996.8,1455.8 999.0,1457.6 999.3,1457.8 1002.0,1457.8 1005.0,1457.8 1007.1,1457.7 1008.0,1457.0 1009.6,1455.7 1011.0,1455.7 1014.0,1455.7 1017.0,1455.6 1020.0,1455.6 1023.0,1455.6 1024.1,1455.6 1026.0,1457.1 1026.6,1457.5 1029.0,1457.5 1032.0,1457.5 1034.4,1457.5 1035.0,1457.0 1036.9,1455.4 1038.0,1455.4 1041.0,1455.4 1044.0,1455.4 1047.0,1455.3 1050.0,1455.3 1051.4,1455.3 1053.0,1456.5 1053.9,1457.3 1056.0,1457.2 1059.0,1457.2 1061.7,1457.2 1062.0,1456.9 1064.2,1455.2 1065.0,1455.1 1068.0,1455.1 1071.0,1455.1 1074.0,1455.1 1077.0,1455.0 1078.7,1455.0 1080.0,1456.0 1081.2,1457.0 1083.0,1457.0 1086.0,1456.9 1089.0,1456.9 1091.5,1454.9 1092.0,1454.9 1095.0,1454.8 1098.0,1454.8 1101.0,1454.8 1104.0,1454.8 1106.0,1454.8 1107.0,1455.6 1108.5,1456.7 1110.0,1456.7 1113.0,1456.7 1116.0,1456.7 1116.3,1456.7 1118.8,1454.7 1119.0,1454.7 1122.0,1454.6 1125.0,1454.6 1128.0,1454.6 1131.0,1454.6 1133.3,1454.6 1134.0,1455.1 1135.8,1456.5 1137.0,1456.5 1140.0,1456.5 1143.0,1456.5 1143.6,1456.5 1146.0,1454.6 1146.1,1454.5 1149.0,1454.5 1152.0,1454.4 1155.0,1454.4 1158.0,1454.4 1160.6,1454.4 1161.0,1454.7 1163.1,1456.4 1164.0,1456.3 1167.0,1456.3 1170.0,1456.3 1170.9,1456.3 1173.0,1454.6 1173.4,1454.3 1176.0,1454.3 1179.0,1454.2 1182.0,1454.2 1185.0,1454.2 1187.9,1454.2 1188.0,1454.3 1190.4,1456.2 1191.0,1456.2 1194.0,1456.1 1197.0,1456.1 1198.2,1456.1 1200.0,1454.6 1200.7,1454.1 1203.0,1454.1 1206.0,1454.1 1209.0,1454.0 1212.0,1454.0 1212.3,1454.0' fill='none' stroke='#000' stroke-width='2.6' stroke-linejoin='round' stroke-linecap='round' filter='url(#soc)'/><polyline points='166.1,1467.4 690.0,1468.5 693.0,1468.4 693.2,1468.4 695.7,1465.8 696.0,1465.8 699.0,1465.7 702.0,1465.6 705.0,1465.6 708.0,1465.5 710.2,1465.5 711.0,1466.3 712.7,1468.0 714.0,1468.0 717.0,1467.9 720.0,1467.8 720.5,1467.8 723.0,1465.2 726.0,1465.1 729.0,1465.0 732.0,1465.0 735.0,1464.9 737.5,1464.9 738.0,1465.4 740.0,1467.4 741.0,1467.4 744.0,1467.3 747.0,1467.3 747.8,1467.2 750.0,1464.9 750.3,1464.6 753.0,1464.5 756.0,1464.5 759.0,1464.4 762.0,1464.3 764.8,1464.3 765.0,1464.5 767.3,1466.8 768.0,1466.8 771.0,1466.7 774.0,1466.7 775.1,1466.6 777.0,1464.6 777.6,1464.0 780.0,1463.9 783.0,1463.9 786.0,1463.8 789.0,1463.7 792.0,1463.7 792.1,1463.7 794.6,1466.2 795.0,1466.2 798.0,1466.1 801.0,1466.1 802.4,1466.1 804.0,1464.4 804.9,1463.4 807.0,1463.4 810.0,1463.3 813.0,1463.3 816.0,1463.2 819.0,1463.2 819.4,1463.2 821.9,1465.7 822.0,1465.7 825.0,1465.7 828.0,1465.7 829.7,1465.6 831.0,1464.3 832.2,1463.0 834.0,1463.0 837.0,1462.9 840.0,1462.9 843.0,1462.8 846.0,1462.8 846.7,1462.8 849.0,1465.1 849.2,1465.3 852.0,1465.3 855.0,1465.2 857.0,1465.2 858.0,1464.1 859.5,1462.5 861.0,1462.5 864.0,1462.5 867.0,1462.4 870.0,1462.4 873.0,1462.3 874.0,1462.3 876.0,1464.4 876.5,1464.9 879.0,1464.8 882.0,1464.8 884.3,1464.8 885.0,1464.0 886.8,1462.1 888.0,1462.1 891.0,1462.0 894.0,1462.0 897.0,1461.9 900.0,1461.9 901.3,1461.9 903.0,1463.6 903.8,1464.4 906.0,1464.4 909.0,1464.4 911.6,1464.3 912.0,1463.9 914.1,1461.7 915.0,1461.7 918.0,1461.6 921.0,1461.6 924.0,1461.6 927.0,1461.5 928.6,1461.5 930.0,1462.9 931.1,1464.1 933.0,1464.0 936.0,1464.0 938.9,1464.0 939.0,1463.8 941.4,1461.3 942.0,1461.3 945.0,1461.3 948.0,1461.2 951.0,1461.2 954.0,1461.1 955.9,1461.1 957.0,1462.2 958.4,1463.7 960.0,1463.7 963.0,1463.6 966.0,1463.6 966.2,1463.6 968.7,1460.9 969.0,1460.9 972.0,1460.9 975.0,1460.9 978.0,1460.8 981.0,1460.8 983.2,1460.7 984.0,1461.6 985.7,1463.3 987.0,1463.3 990.0,1463.2 993.0,1463.2 993.5,1463.2 996.0,1460.6 999.0,1460.5 1002.0,1460.5 1005.0,1460.4 1008.0,1460.4 1010.5,1460.4 1011.0,1460.9 1013.0,1462.9 1014.0,1462.9 1017.0,1462.9 1020.0,1462.8 1020.8,1462.8 1023.0,1460.5 1023.3,1460.2 1026.0,1460.2 1029.0,1460.1 1032.0,1460.1 1035.0,1460.0 1037.8,1460.0 1038.0,1460.2 1040.3,1462.6 1041.0,1462.6 1044.0,1462.5 1047.0,1462.5 1048.1,1462.5 1050.0,1460.5 1050.6,1459.8 1053.0,1459.8 1056.0,1459.8 1059.0,1459.7 1062.0,1459.7 1065.0,1459.7 1065.1,1459.7 1067.6,1462.2 1068.0,1462.2 1071.0,1462.2 1074.0,1462.1 1075.4,1462.1 1077.0,1460.4 1077.9,1459.5 1080.0,1459.5 1083.0,1459.4 1086.0,1459.4 1089.0,1459.3 1092.0,1459.3 1092.4,1459.3 1094.9,1461.9 1095.0,1461.9 1098.0,1461.8 1101.0,1461.8 1102.7,1461.8 1104.0,1460.4 1105.2,1459.1 1107.0,1459.1 1110.0,1459.1 1113.0,1459.1 1116.0,1459.0 1119.0,1459.0 1119.7,1459.0 1122.0,1461.4 1122.2,1461.6 1125.0,1461.5 1128.0,1461.5 1130.0,1461.5 1131.0,1460.4 1132.5,1458.9 1134.0,1458.8 1137.0,1458.8 1140.0,1458.8 1143.0,1458.7 1146.0,1458.7 1147.0,1458.7 1149.0,1460.8 1149.5,1461.3 1152.0,1461.2 1155.0,1461.2 1157.3,1461.2 1158.0,1460.5 1159.8,1458.6 1161.0,1458.5 1164.0,1458.5 1167.0,1458.5 1170.0,1458.5 1173.0,1458.4 1174.3,1458.4 1176.0,1460.2 1176.8,1461.0 1179.0,1461.0 1182.0,1460.9 1184.6,1460.9 1185.0,1460.5 1187.1,1458.3 1188.0,1458.3 1191.0,1458.2 1194.0,1458.2 1197.0,1458.2 1200.0,1458.1 1201.6,1458.1 1203.0,1459.6 1204.1,1460.7 1206.0,1460.7 1209.0,1460.6 1211.9,1460.6 1212.0,1460.6 1212.3,1460.6' fill='none' stroke='#000' stroke-width='2.6' stroke-linejoin='round' stroke-linecap='round' filter='url(#soc)'/><polyline points='166.1,1460.5 166.7,1460.5 174.5,1460.5 177.0,1456.5 191.5,1456.5 194.0,1460.5 201.8,1460.5 204.3,1456.5 218.8,1456.5 221.3,1460.5 229.1,1460.5 231.6,1456.5 246.1,1456.5 248.6,1460.5 256.4,1460.5 258.9,1456.5 273.4,1456.5 275.9,1460.5 283.7,1460.5 286.2,1456.5 300.7,1456.5 303.2,1460.5 311.0,1460.5 313.5,1456.5 328.0,1456.5 330.5,1460.5 338.3,1460.5 340.8,1456.5 355.3,1456.5 357.8,1460.5 365.6,1460.5 368.1,1456.5 382.6,1456.5 385.1,1460.5 392.9,1460.5 395.4,1456.5 409.9,1456.5 412.4,1460.5 420.2,1460.5 422.7,1456.5 433.1,1456.5 433.1,1456.8 437.0,1453.0 440.2,1444.4 443.0,1432.0 445.5,1416.1 447.5,1395.0 449.0,1370.1 451.0,1340.0 452.6,1317.0 454.5,1298.0 456.1,1288.7 459.0,1280.0 463.2,1271.0 467.0,1268.0 470.0,1266.8 472.6,1264.2 475.2,1264.2 477.8,1264.2 480.4,1264.2 483.0,1266.8 485.6,1266.8 488.2,1269.3 490.8,1271.9 493.4,1271.9 496.0,1274.4 498.6,1274.4 501.2,1274.4 503.8,1274.4 506.4,1276.9 509.0,1276.9 511.6,1279.5 514.2,1282.0 516.8,1282.0 519.4,1284.5 522.0,1284.5 524.6,1284.5 527.2,1284.5 529.8,1284.5 532.4,1284.5 535.0,1284.5 537.6,1284.5 540.2,1287.1 542.8,1289.6 545.4,1289.6 548.0,1289.6 550.6,1289.6 553.2,1287.1 555.8,1284.5 558.4,1287.1 561.0,1289.6 563.6,1289.6 566.2,1289.6 568.8,1287.1 571.4,1287.1 574.0,1287.1 576.6,1287.1 579.2,1287.1 581.8,1287.1 584.4,1287.1 587.0,1289.6 589.6,1292.1 592.2,1292.1 594.8,1294.7 597.4,1297.2 600.0,1299.8 602.6,1302.3 605.2,1302.3 607.8,1299.8 610.4,1299.8 613.0,1302.3 615.6,1302.3 618.2,1304.8 620.8,1304.8 623.4,1307.4 626.0,1307.4 628.6,1309.9 631.2,1312.4 633.8,1312.4 636.4,1315.0 639.0,1315.0 641.6,1317.5 644.2,1320.1 646.8,1320.1 649.4,1320.1 652.0,1320.1 654.6,1322.6 657.2,1322.6 659.8,1320.1 662.4,1320.1 665.0,1317.5 667.6,1317.5 670.2,1317.5 672.8,1317.5 675.4,1317.5 678.0,1317.5 680.6,1317.5 683.2,1317.5 685.8,1315.0 688.4,1315.0 691.0,1315.0 693.6,1315.0 696.2,1315.0 698.8,1317.5 701.4,1317.5 704.0,1320.1 706.6,1320.1 709.2,1322.6 711.8,1325.1 714.4,1325.1 717.0,1325.1 719.6,1327.7 722.2,1330.2 724.8,1330.2 727.4,1332.7 730.0,1332.7 732.6,1335.3 735.2,1335.3 737.8,1335.3 740.4,1335.3 743.0,1335.3 745.6,1335.3 748.2,1335.3 750.8,1332.7 753.4,1335.3 756.0,1335.3 758.6,1332.7 761.2,1335.3 763.8,1335.3 766.4,1337.8 769.0,1337.8 771.6,1340.4 774.2,1342.9 776.8,1342.9 779.4,1342.9 782.0,1345.4 784.6,1345.4 787.2,1345.4 789.8,1348.0 792.4,1348.0 795.0,1348.0 797.6,1348.0 800.2,1350.5 802.8,1350.5 805.4,1350.5 808.0,1353.0 810.6,1355.6 813.2,1355.6 815.8,1358.1 818.4,1360.6 821.0,1363.2 823.6,1363.2 826.2,1365.7 828.8,1365.7 831.4,1365.7 834.0,1365.7 836.6,1365.7 839.2,1365.7 841.8,1368.3 844.4,1368.3 847.0,1368.3 849.6,1368.3 852.2,1370.8 854.8,1370.8 857.4,1370.8 860.0,1370.8 862.6,1370.8 865.2,1370.8 867.8,1370.8 870.4,1370.8 873.0,1370.8 875.6,1370.8 878.2,1373.3 880.8,1375.9 883.4,1375.9 886.0,1378.4 888.6,1378.4 891.2,1378.4 893.8,1380.9 896.4,1380.9 899.0,1383.5 901.6,1380.9 904.2,1380.9 906.8,1378.4 909.4,1378.4 912.0,1378.4 914.6,1378.4 917.2,1378.4 919.8,1378.4 922.4,1378.4 925.0,1378.4 927.6,1380.9 930.2,1383.5 932.8,1383.5 935.4,1383.5 938.0,1383.5 940.6,1383.5 943.2,1383.5 945.8,1386.0 948.4,1386.0 951.0,1386.0 953.6,1386.0 956.2,1386.0 958.8,1386.0 961.4,1388.6 964.0,1388.6 966.6,1388.6 969.2,1391.1 971.8,1391.1 974.4,1391.1 977.0,1388.6 979.6,1388.6 982.2,1388.6 984.8,1388.6 987.4,1388.6 990.0,1388.6 992.6,1388.6 995.2,1388.6 997.8,1388.6 1000.4,1391.1 1003.0,1391.1 1005.6,1391.1 1008.2,1391.1 1010.8,1391.1 1013.4,1393.6 1016.0,1391.1 1018.6,1393.6 1021.2,1393.6 1023.8,1393.6 1026.4,1393.6 1029.0,1393.6 1031.6,1396.2 1034.2,1393.6 1036.8,1393.6 1039.4,1396.2 1042.0,1396.2 1044.6,1396.2 1047.2,1396.2 1049.8,1393.6 1052.4,1393.6 1055.0,1393.6 1057.6,1393.6 1060.2,1396.2 1062.8,1396.2 1065.4,1396.2 1068.0,1396.2 1070.6,1396.2 1073.2,1396.2 1075.8,1396.2 1078.4,1396.2 1081.0,1396.2 1083.6,1398.7 1086.2,1398.7 1088.8,1398.7 1091.4,1401.2 1094.0,1401.2 1096.6,1398.7 1099.2,1398.7 1101.8,1401.2 1104.4,1401.2 1107.0,1401.2 1109.6,1398.7 1112.2,1398.7 1114.8,1398.7 1117.4,1398.7 1120.0,1401.2 1122.6,1401.2 1125.2,1401.2 1127.8,1401.2 1130.4,1401.2 1133.0,1403.8 1135.6,1403.8 1138.2,1403.8 1140.8,1403.8 1143.4,1403.8 1146.0,1403.8 1148.6,1403.8 1151.2,1403.8 1153.8,1403.8 1156.4,1403.8 1159.0,1403.8 1161.6,1406.3 1164.2,1406.3 1166.8,1406.3 1169.4,1406.3 1172.0,1408.8 1174.6,1408.8 1177.2,1408.8 1179.8,1408.8 1182.4,1408.8 1185.0,1411.4 1187.6,1408.8 1190.2,1408.8 1192.8,1408.8 1195.4,1408.8 1198.0,1408.8 1200.6,1406.3 1203.2,1406.3 1205.8,1406.3 1208.4,1406.3 1211.0,1406.3' fill='none' stroke='#000' stroke-width='3.0' stroke-linejoin='round' stroke-linecap='round' filter='url(#soc)'/>
<polyline points='166.1,1467.0 1212.3,1467.0' fill='none' stroke='#000' stroke-width='2.4' stroke-linejoin='round' stroke-linecap='round' stroke-dasharray='10 10'/>
<polyline points='166.1,1468.8 560.0,1468.8' fill='none' stroke='#5B9BD5' stroke-width='2.8' stroke-linejoin='round' stroke-linecap='round'/>
<polyline points='166.1,1467.0 520.0,1467.0 522.0,1464.7 524.6,1462.1 527.2,1462.1 529.8,1462.1 532.4,1462.1 535.0,1462.1 537.6,1462.1 540.2,1462.1 542.8,1462.1 545.4,1462.1 548.0,1459.6 550.6,1459.6 553.2,1459.6 555.8,1457.1 558.4,1457.1 561.0,1457.1 563.6,1457.1 566.2,1457.1 568.8,1457.1 571.4,1457.1 574.0,1457.1 576.6,1457.1 579.2,1459.6 581.8,1457.1 584.4,1457.1 587.0,1454.5 589.6,1452.0 592.2,1449.4 594.8,1449.4 597.4,1449.4 600.0,1449.4 602.6,1446.9 605.2,1446.9 607.8,1446.9 610.4,1444.4 613.0,1444.4 615.6,1444.4 618.2,1441.8 620.8,1441.8 623.4,1441.8 626.0,1439.3 628.6,1436.8 631.2,1436.8 633.8,1434.2 636.4,1429.1 639.0,1426.6 641.6,1421.5 644.2,1419.0 646.8,1416.5 649.4,1413.9 652.0,1411.4 654.6,1408.8 657.2,1406.3 659.8,1403.8 662.4,1401.2 665.0,1398.7 667.6,1396.2 670.2,1393.6 672.8,1391.1 675.4,1388.6 678.0,1386.0 680.6,1386.0 683.2,1383.5 685.8,1380.9 688.4,1380.9 691.0,1378.4 693.6,1378.4 696.2,1375.9 698.8,1375.9 701.4,1373.3 704.0,1370.8 706.6,1370.8 709.2,1370.8 711.8,1370.8 714.4,1370.8 717.0,1368.3 719.6,1368.3 722.2,1368.3 724.8,1368.3 727.4,1368.3 730.0,1368.3 732.6,1368.3 735.2,1368.3 737.8,1368.3 740.4,1368.3 743.0,1368.3 745.6,1368.3 748.2,1368.3 750.8,1368.3 753.4,1368.3 756.0,1368.3 758.6,1368.3 761.2,1368.3 763.8,1368.3 766.4,1368.3 769.0,1368.3 771.6,1368.3 774.2,1365.7 776.8,1365.7 779.4,1363.2 782.0,1365.7 784.6,1365.7 787.2,1365.7 789.8,1365.7 792.4,1365.7 795.0,1368.3 797.6,1368.3 800.2,1370.8 802.8,1370.8 805.4,1370.8 808.0,1370.8 810.6,1373.3 813.2,1373.3 815.8,1375.9 818.4,1375.9 821.0,1378.4 823.6,1378.4 826.2,1378.4 828.8,1378.4 831.4,1378.4 834.0,1380.9 836.6,1380.9 839.2,1380.9 841.8,1383.5 844.4,1383.5 847.0,1386.0 849.6,1386.0 852.2,1383.5 854.8,1383.5 857.4,1383.5 860.0,1383.5 862.6,1383.5 865.2,1386.0 867.8,1386.0 870.4,1386.0 873.0,1386.0 875.6,1388.6 878.2,1388.6 880.8,1386.0 883.4,1386.0 886.0,1386.0 888.6,1386.0 891.2,1388.6 893.8,1388.6 896.4,1388.6 899.0,1391.1 901.6,1391.1 904.2,1393.6 906.8,1393.6 909.4,1393.6 912.0,1396.2 914.6,1396.2 917.2,1396.2 919.8,1396.2 922.4,1396.2 925.0,1396.2 927.6,1396.2 930.2,1396.2 932.8,1396.2 935.4,1396.2 938.0,1396.2 940.6,1396.2 943.2,1396.2 945.8,1398.7 948.4,1398.7 951.0,1398.7 953.6,1398.7 956.2,1398.7 958.8,1398.7 961.4,1398.7 964.0,1398.7 966.6,1401.2 969.2,1401.2 971.8,1401.2 974.4,1401.2 977.0,1403.8 979.6,1403.8 982.2,1403.8 984.8,1406.3 987.4,1406.3 990.0,1406.3 992.6,1406.3 995.2,1403.8 997.8,1403.8 1000.4,1403.8 1003.0,1406.3 1005.6,1406.3 1008.2,1403.8 1010.8,1406.3 1013.4,1403.8 1016.0,1406.3 1018.6,1403.8 1021.2,1403.8 1023.8,1406.3 1026.4,1403.8 1029.0,1403.8 1031.6,1406.3 1034.2,1403.8 1036.8,1403.8 1039.4,1406.3 1042.0,1406.3 1044.6,1406.3 1047.2,1406.3 1049.8,1408.8 1052.4,1408.8 1055.0,1406.3 1057.6,1408.8 1060.2,1408.8 1062.8,1408.8 1065.4,1408.8 1068.0,1408.8 1070.6,1408.8 1073.2,1408.8 1075.8,1408.8 1078.4,1408.8 1081.0,1408.8 1083.6,1408.8 1086.2,1411.4 1088.8,1408.8 1091.4,1408.8 1094.0,1408.8 1096.6,1408.8 1099.2,1408.8 1101.8,1408.8 1104.4,1408.8 1107.0,1408.8 1109.6,1408.8 1112.2,1408.8 1114.8,1408.8 1117.4,1408.8 1120.0,1408.8 1122.6,1408.8 1125.2,1411.4 1127.8,1411.4 1130.4,1411.4 1133.0,1411.4 1135.6,1411.4 1138.2,1411.4 1140.8,1411.4 1143.4,1413.9 1146.0,1413.9 1148.6,1413.9 1151.2,1413.9 1153.8,1416.5 1156.4,1416.5 1159.0,1416.5 1161.6,1416.5 1164.2,1416.5 1166.8,1416.5 1169.4,1416.5 1172.0,1416.5 1174.6,1416.5 1177.2,1413.9 1179.8,1416.5 1182.4,1413.9 1185.0,1416.5 1187.6,1416.5 1190.2,1416.5 1192.8,1419.0 1195.4,1419.0 1198.0,1419.0 1200.6,1419.0 1203.2,1416.5 1205.8,1416.5 1208.4,1416.5 1211.0,1416.5' fill='none' stroke='#FFC000' stroke-width='3.0' stroke-linejoin='round' stroke-linecap='round'/>
<polyline points='166.1,1467.6 545.0,1467.6 547.0,1464.7 549.6,1464.7 552.2,1462.1 554.8,1462.1 557.4,1462.1 560.0,1462.1 562.6,1462.1 565.2,1459.6 567.8,1459.6 570.4,1459.6 573.0,1459.6 575.6,1462.1 578.2,1462.1 580.8,1462.1 583.4,1462.1 586.0,1459.6 588.6,1459.6 591.2,1457.1 593.8,1457.1 596.4,1457.1 599.0,1457.1 601.6,1457.1 604.2,1457.1 606.8,1454.5 609.4,1454.5 612.0,1454.5 614.6,1452.0 617.2,1452.0 619.8,1452.0 622.4,1449.4 625.0,1449.4 627.6,1449.4 630.2,1449.4 632.8,1449.4 635.4,1446.9 638.0,1446.9 640.6,1446.9 643.2,1446.9 645.8,1446.9 648.4,1446.9 651.0,1446.9 653.6,1446.9 656.2,1446.9 658.8,1444.4 661.4,1444.4 664.0,1444.4 666.6,1444.4 669.2,1441.8 671.8,1441.8 674.4,1439.3 677.0,1439.3 679.6,1439.3 682.2,1439.3 684.8,1439.3 687.4,1436.8 690.0,1434.2 692.6,1434.2 695.2,1431.7 697.8,1429.1 700.4,1424.1 703.0,1424.1 705.6,1421.5 708.2,1421.5 710.8,1419.0 713.4,1421.5 716.0,1419.0 718.6,1419.0 721.2,1419.0 723.8,1419.0 726.4,1416.5 729.0,1419.0 731.6,1419.0 734.2,1419.0 736.8,1416.5 739.4,1416.5 742.0,1413.9 744.6,1413.9 747.2,1411.4 749.8,1411.4 752.4,1408.8 755.0,1408.8 757.6,1408.8 760.2,1408.8 762.8,1408.8 765.4,1406.3 768.0,1408.8 770.6,1408.8 773.2,1406.3 775.8,1403.8 778.4,1403.8 781.0,1403.8 783.6,1403.8 786.2,1403.8 788.8,1403.8 791.4,1406.3 794.0,1403.8 796.6,1403.8 799.2,1403.8 801.8,1401.2 804.4,1401.2 807.0,1401.2 809.6,1403.8 812.2,1401.2 814.8,1401.2 817.4,1403.8 820.0,1403.8 822.6,1403.8 825.2,1403.8 827.8,1403.8 830.4,1401.2 833.0,1401.2 835.6,1401.2 838.2,1401.2 840.8,1401.2 843.4,1403.8 846.0,1406.3 848.6,1406.3 851.2,1406.3 853.8,1406.3 856.4,1406.3 859.0,1403.8 861.6,1403.8 864.2,1403.8 866.8,1403.8 869.4,1406.3 872.0,1406.3 874.6,1406.3 877.2,1408.8 879.8,1408.8 882.4,1411.4 885.0,1411.4 887.6,1411.4 890.2,1411.4 892.8,1408.8 895.4,1408.8 898.0,1408.8 900.6,1408.8 903.2,1408.8 905.8,1408.8 908.4,1408.8 911.0,1408.8 913.6,1408.8 916.2,1411.4 918.8,1411.4 921.4,1411.4 924.0,1411.4 926.6,1411.4 929.2,1413.9 931.8,1413.9 934.4,1413.9 937.0,1413.9 939.6,1413.9 942.2,1413.9 944.8,1416.5 947.4,1416.5 950.0,1416.5 952.6,1416.5 955.2,1416.5 957.8,1416.5 960.4,1416.5 963.0,1419.0 965.6,1419.0 968.2,1419.0 970.8,1416.5 973.4,1416.5 976.0,1416.5 978.6,1416.5 981.2,1416.5 983.8,1419.0 986.4,1419.0 989.0,1419.0 991.6,1416.5 994.2,1416.5 996.8,1416.5 999.4,1416.5 1002.0,1419.0 1004.6,1416.5 1007.2,1416.5 1009.8,1416.5 1012.4,1416.5 1015.0,1419.0 1017.6,1419.0 1020.2,1421.5 1022.8,1421.5 1025.4,1421.5 1028.0,1421.5 1030.6,1424.1 1033.2,1424.1 1035.8,1424.1 1038.4,1424.1 1041.0,1424.1 1043.6,1424.1 1046.2,1424.1 1048.8,1424.1 1051.4,1424.1 1054.0,1424.1 1056.6,1424.1 1059.2,1424.1 1061.8,1424.1 1064.4,1424.1 1067.0,1424.1 1069.6,1424.1 1072.2,1426.6 1074.8,1426.6 1077.4,1426.6 1080.0,1426.6 1082.6,1426.6 1085.2,1426.6 1087.8,1426.6 1090.4,1429.1 1093.0,1429.1 1095.6,1426.6 1098.2,1426.6 1100.8,1426.6 1103.4,1429.1 1106.0,1429.1 1108.6,1429.1 1111.2,1429.1 1113.8,1429.1 1116.4,1429.1 1119.0,1429.1 1121.6,1429.1 1124.2,1429.1 1126.8,1429.1 1129.4,1426.6 1132.0,1426.6 1134.6,1426.6 1137.2,1426.6 1139.8,1426.6 1142.4,1429.1 1145.0,1429.1 1147.6,1429.1 1150.2,1429.1 1152.8,1431.7 1155.4,1429.1 1158.0,1431.7 1160.6,1431.7 1163.2,1429.1 1165.8,1429.1 1168.4,1429.1 1171.0,1429.1 1173.6,1429.1 1176.2,1429.1 1178.8,1429.1 1181.4,1429.1 1184.0,1429.1 1186.6,1429.1 1189.2,1429.1 1191.8,1429.1 1194.4,1429.1 1197.0,1429.1 1199.6,1429.1 1202.2,1431.7 1204.8,1431.7 1207.4,1429.1 1210.0,1429.1' fill='none' stroke='#5B9BD5' stroke-width='3.0' stroke-linejoin='round' stroke-linecap='round'/>
<polyline points='166.1,1466.2 690.0,1465.0 693.0,1464.9 696.0,1464.7 696.5,1464.7 699.0,1466.5 702.0,1466.4 705.0,1466.2 706.8,1466.2 708.0,1465.1 709.3,1464.0 711.0,1464.0 714.0,1463.8 717.0,1463.7 720.0,1463.5 723.0,1463.3 723.8,1463.3 726.0,1465.0 726.3,1465.2 729.0,1465.0 732.0,1464.9 734.1,1464.8 735.0,1464.0 736.6,1462.7 738.0,1462.6 741.0,1462.5 744.0,1462.3 747.0,1462.2 750.0,1462.0 751.1,1461.9 753.0,1463.4 753.6,1463.8 756.0,1463.7 759.0,1463.5 761.4,1463.4 762.0,1462.9 763.9,1461.3 765.0,1461.2 768.0,1461.1 771.0,1461.0 774.0,1460.8 777.0,1460.7 778.4,1460.6 780.0,1461.8 780.9,1462.5 783.0,1462.3 786.0,1462.2 788.7,1462.1 789.0,1461.8 791.2,1459.9 792.0,1459.9 795.0,1459.8 798.0,1459.6 801.0,1459.5 804.0,1459.4 805.7,1459.4 807.0,1460.4 808.2,1461.3 810.0,1461.3 813.0,1461.2 816.0,1461.1 818.5,1459.1 819.0,1459.1 822.0,1459.0 825.0,1459.0 828.0,1458.9 831.0,1458.8 833.0,1458.8 834.0,1459.6 835.5,1460.7 837.0,1460.7 840.0,1460.6 843.0,1460.6 843.3,1460.5 845.8,1458.5 846.0,1458.5 849.0,1458.4 852.0,1458.4 855.0,1458.3 858.0,1458.2 860.3,1458.2 861.0,1458.7 862.8,1460.1 864.0,1460.1 867.0,1460.0 870.0,1460.0 870.6,1459.9 873.0,1458.0 873.1,1457.9 876.0,1457.8 879.0,1457.8 882.0,1457.7 885.0,1457.6 887.6,1457.6 888.0,1457.9 890.1,1459.5 891.0,1459.5 894.0,1459.4 897.0,1459.4 897.9,1459.3 900.0,1457.6 900.4,1457.3 903.0,1457.3 906.0,1457.2 909.0,1457.2 912.0,1457.1 914.9,1457.1 915.0,1457.2 917.4,1459.0 918.0,1459.0 921.0,1459.0 924.0,1458.9 925.2,1458.9 927.0,1457.5 927.7,1456.9 930.0,1456.8 933.0,1456.8 936.0,1456.8 939.0,1456.7 942.0,1456.7 942.2,1456.7 944.7,1458.6 945.0,1458.6 948.0,1458.6 951.0,1458.5 952.5,1458.5 954.0,1457.3 955.0,1456.5 957.0,1456.4 960.0,1456.4 963.0,1456.4 966.0,1456.3 969.0,1456.3 969.5,1456.3 972.0,1458.2 975.0,1458.2 978.0,1458.1 979.8,1458.1 981.0,1457.1 982.3,1456.1 984.0,1456.0 987.0,1456.0 990.0,1456.0 993.0,1455.9 996.0,1455.9 996.8,1455.8 999.0,1457.6 999.3,1457.8 1002.0,1457.8 1005.0,1457.8 1007.1,1457.7 1008.0,1457.0 1009.6,1455.7 1011.0,1455.7 1014.0,1455.7 1017.0,1455.6 1020.0,1455.6 1023.0,1455.6 1024.1,1455.6 1026.0,1457.1 1026.6,1457.5 1029.0,1457.5 1032.0,1457.5 1034.4,1457.5 1035.0,1457.0 1036.9,1455.4 1038.0,1455.4 1041.0,1455.4 1044.0,1455.4 1047.0,1455.3 1050.0,1455.3 1051.4,1455.3 1053.0,1456.5 1053.9,1457.3 1056.0,1457.2 1059.0,1457.2 1061.7,1457.2 1062.0,1456.9 1064.2,1455.2 1065.0,1455.1 1068.0,1455.1 1071.0,1455.1 1074.0,1455.1 1077.0,1455.0 1078.7,1455.0 1080.0,1456.0 1081.2,1457.0 1083.0,1457.0 1086.0,1456.9 1089.0,1456.9 1091.5,1454.9 1092.0,1454.9 1095.0,1454.8 1098.0,1454.8 1101.0,1454.8 1104.0,1454.8 1106.0,1454.8 1107.0,1455.6 1108.5,1456.7 1110.0,1456.7 1113.0,1456.7 1116.0,1456.7 1116.3,1456.7 1118.8,1454.7 1119.0,1454.7 1122.0,1454.6 1125.0,1454.6 1128.0,1454.6 1131.0,1454.6 1133.3,1454.6 1134.0,1455.1 1135.8,1456.5 1137.0,1456.5 1140.0,1456.5 1143.0,1456.5 1143.6,1456.5 1146.0,1454.6 1146.1,1454.5 1149.0,1454.5 1152.0,1454.4 1155.0,1454.4 1158.0,1454.4 1160.6,1454.4 1161.0,1454.7 1163.1,1456.4 1164.0,1456.3 1167.0,1456.3 1170.0,1456.3 1170.9,1456.3 1173.0,1454.6 1173.4,1454.3 1176.0,1454.3 1179.0,1454.2 1182.0,1454.2 1185.0,1454.2 1187.9,1454.2 1188.0,1454.3 1190.4,1456.2 1191.0,1456.2 1194.0,1456.1 1197.0,1456.1 1198.2,1456.1 1200.0,1454.6 1200.7,1454.1 1203.0,1454.1 1206.0,1454.1 1209.0,1454.0 1212.0,1454.0 1212.3,1454.0' fill='none' stroke='#A5A5A5' stroke-width='2.6' stroke-linejoin='round' stroke-linecap='round'/>
<polyline points='166.1,1467.4 690.0,1468.5 693.0,1468.4 693.2,1468.4 695.7,1465.8 696.0,1465.8 699.0,1465.7 702.0,1465.6 705.0,1465.6 708.0,1465.5 710.2,1465.5 711.0,1466.3 712.7,1468.0 714.0,1468.0 717.0,1467.9 720.0,1467.8 720.5,1467.8 723.0,1465.2 726.0,1465.1 729.0,1465.0 732.0,1465.0 735.0,1464.9 737.5,1464.9 738.0,1465.4 740.0,1467.4 741.0,1467.4 744.0,1467.3 747.0,1467.3 747.8,1467.2 750.0,1464.9 750.3,1464.6 753.0,1464.5 756.0,1464.5 759.0,1464.4 762.0,1464.3 764.8,1464.3 765.0,1464.5 767.3,1466.8 768.0,1466.8 771.0,1466.7 774.0,1466.7 775.1,1466.6 777.0,1464.6 777.6,1464.0 780.0,1463.9 783.0,1463.9 786.0,1463.8 789.0,1463.7 792.0,1463.7 792.1,1463.7 794.6,1466.2 795.0,1466.2 798.0,1466.1 801.0,1466.1 802.4,1466.1 804.0,1464.4 804.9,1463.4 807.0,1463.4 810.0,1463.3 813.0,1463.3 816.0,1463.2 819.0,1463.2 819.4,1463.2 821.9,1465.7 822.0,1465.7 825.0,1465.7 828.0,1465.7 829.7,1465.6 831.0,1464.3 832.2,1463.0 834.0,1463.0 837.0,1462.9 840.0,1462.9 843.0,1462.8 846.0,1462.8 846.7,1462.8 849.0,1465.1 849.2,1465.3 852.0,1465.3 855.0,1465.2 857.0,1465.2 858.0,1464.1 859.5,1462.5 861.0,1462.5 864.0,1462.5 867.0,1462.4 870.0,1462.4 873.0,1462.3 874.0,1462.3 876.0,1464.4 876.5,1464.9 879.0,1464.8 882.0,1464.8 884.3,1464.8 885.0,1464.0 886.8,1462.1 888.0,1462.1 891.0,1462.0 894.0,1462.0 897.0,1461.9 900.0,1461.9 901.3,1461.9 903.0,1463.6 903.8,1464.4 906.0,1464.4 909.0,1464.4 911.6,1464.3 912.0,1463.9 914.1,1461.7 915.0,1461.7 918.0,1461.6 921.0,1461.6 924.0,1461.6 927.0,1461.5 928.6,1461.5 930.0,1462.9 931.1,1464.1 933.0,1464.0 936.0,1464.0 938.9,1464.0 939.0,1463.8 941.4,1461.3 942.0,1461.3 945.0,1461.3 948.0,1461.2 951.0,1461.2 954.0,1461.1 955.9,1461.1 957.0,1462.2 958.4,1463.7 960.0,1463.7 963.0,1463.6 966.0,1463.6 966.2,1463.6 968.7,1460.9 969.0,1460.9 972.0,1460.9 975.0,1460.9 978.0,1460.8 981.0,1460.8 983.2,1460.7 984.0,1461.6 985.7,1463.3 987.0,1463.3 990.0,1463.2 993.0,1463.2 993.5,1463.2 996.0,1460.6 999.0,1460.5 1002.0,1460.5 1005.0,1460.4 1008.0,1460.4 1010.5,1460.4 1011.0,1460.9 1013.0,1462.9 1014.0,1462.9 1017.0,1462.9 1020.0,1462.8 1020.8,1462.8 1023.0,1460.5 1023.3,1460.2 1026.0,1460.2 1029.0,1460.1 1032.0,1460.1 1035.0,1460.0 1037.8,1460.0 1038.0,1460.2 1040.3,1462.6 1041.0,1462.6 1044.0,1462.5 1047.0,1462.5 1048.1,1462.5 1050.0,1460.5 1050.6,1459.8 1053.0,1459.8 1056.0,1459.8 1059.0,1459.7 1062.0,1459.7 1065.0,1459.7 1065.1,1459.7 1067.6,1462.2 1068.0,1462.2 1071.0,1462.2 1074.0,1462.1 1075.4,1462.1 1077.0,1460.4 1077.9,1459.5 1080.0,1459.5 1083.0,1459.4 1086.0,1459.4 1089.0,1459.3 1092.0,1459.3 1092.4,1459.3 1094.9,1461.9 1095.0,1461.9 1098.0,1461.8 1101.0,1461.8 1102.7,1461.8 1104.0,1460.4 1105.2,1459.1 1107.0,1459.1 1110.0,1459.1 1113.0,1459.1 1116.0,1459.0 1119.0,1459.0 1119.7,1459.0 1122.0,1461.4 1122.2,1461.6 1125.0,1461.5 1128.0,1461.5 1130.0,1461.5 1131.0,1460.4 1132.5,1458.9 1134.0,1458.8 1137.0,1458.8 1140.0,1458.8 1143.0,1458.7 1146.0,1458.7 1147.0,1458.7 1149.0,1460.8 1149.5,1461.3 1152.0,1461.2 1155.0,1461.2 1157.3,1461.2 1158.0,1460.5 1159.8,1458.6 1161.0,1458.5 1164.0,1458.5 1167.0,1458.5 1170.0,1458.5 1173.0,1458.4 1174.3,1458.4 1176.0,1460.2 1176.8,1461.0 1179.0,1461.0 1182.0,1460.9 1184.6,1460.9 1185.0,1460.5 1187.1,1458.3 1188.0,1458.3 1191.0,1458.2 1194.0,1458.2 1197.0,1458.2 1200.0,1458.1 1201.6,1458.1 1203.0,1459.6 1204.1,1460.7 1206.0,1460.7 1209.0,1460.6 1211.9,1460.6 1212.0,1460.6 1212.3,1460.6' fill='none' stroke='#70AD47' stroke-width='2.6' stroke-linejoin='round' stroke-linecap='round'/>
<line x1='166.1' y1='1466.6' x2='1212.3' y2='1466.6' stroke='#000' stroke-width='2.4' stroke-dasharray='5 22.3' stroke-dashoffset='-7.60'/>
<polyline points='166.1,1460.5 166.7,1460.5 174.5,1460.5 177.0,1456.5 191.5,1456.5 194.0,1460.5 201.8,1460.5 204.3,1456.5 218.8,1456.5 221.3,1460.5 229.1,1460.5 231.6,1456.5 246.1,1456.5 248.6,1460.5 256.4,1460.5 258.9,1456.5 273.4,1456.5 275.9,1460.5 283.7,1460.5 286.2,1456.5 300.7,1456.5 303.2,1460.5 311.0,1460.5 313.5,1456.5 328.0,1456.5 330.5,1460.5 338.3,1460.5 340.8,1456.5 355.3,1456.5 357.8,1460.5 365.6,1460.5 368.1,1456.5 382.6,1456.5 385.1,1460.5 392.9,1460.5 395.4,1456.5 409.9,1456.5 412.4,1460.5 420.2,1460.5 422.7,1456.5 433.1,1456.5 433.1,1456.8 437.0,1453.0 440.2,1444.4 443.0,1432.0 445.5,1416.1 447.5,1395.0 449.0,1370.1 451.0,1340.0 452.6,1317.0 454.5,1298.0 456.1,1288.7 459.0,1280.0 463.2,1271.0 467.0,1268.0 470.0,1266.8 472.6,1264.2 475.2,1264.2 477.8,1264.2 480.4,1264.2 483.0,1266.8 485.6,1266.8 488.2,1269.3 490.8,1271.9 493.4,1271.9 496.0,1274.4 498.6,1274.4 501.2,1274.4 503.8,1274.4 506.4,1276.9 509.0,1276.9 511.6,1279.5 514.2,1282.0 516.8,1282.0 519.4,1284.5 522.0,1284.5 524.6,1284.5 527.2,1284.5 529.8,1284.5 532.4,1284.5 535.0,1284.5 537.6,1284.5 540.2,1287.1 542.8,1289.6 545.4,1289.6 548.0,1289.6 550.6,1289.6 553.2,1287.1 555.8,1284.5 558.4,1287.1 561.0,1289.6 563.6,1289.6 566.2,1289.6 568.8,1287.1 571.4,1287.1 574.0,1287.1 576.6,1287.1 579.2,1287.1 581.8,1287.1 584.4,1287.1 587.0,1289.6 589.6,1292.1 592.2,1292.1 594.8,1294.7 597.4,1297.2 600.0,1299.8 602.6,1302.3 605.2,1302.3 607.8,1299.8 610.4,1299.8 613.0,1302.3 615.6,1302.3 618.2,1304.8 620.8,1304.8 623.4,1307.4 626.0,1307.4 628.6,1309.9 631.2,1312.4 633.8,1312.4 636.4,1315.0 639.0,1315.0 641.6,1317.5 644.2,1320.1 646.8,1320.1 649.4,1320.1 652.0,1320.1 654.6,1322.6 657.2,1322.6 659.8,1320.1 662.4,1320.1 665.0,1317.5 667.6,1317.5 670.2,1317.5 672.8,1317.5 675.4,1317.5 678.0,1317.5 680.6,1317.5 683.2,1317.5 685.8,1315.0 688.4,1315.0 691.0,1315.0 693.6,1315.0 696.2,1315.0 698.8,1317.5 701.4,1317.5 704.0,1320.1 706.6,1320.1 709.2,1322.6 711.8,1325.1 714.4,1325.1 717.0,1325.1 719.6,1327.7 722.2,1330.2 724.8,1330.2 727.4,1332.7 730.0,1332.7 732.6,1335.3 735.2,1335.3 737.8,1335.3 740.4,1335.3 743.0,1335.3 745.6,1335.3 748.2,1335.3 750.8,1332.7 753.4,1335.3 756.0,1335.3 758.6,1332.7 761.2,1335.3 763.8,1335.3 766.4,1337.8 769.0,1337.8 771.6,1340.4 774.2,1342.9 776.8,1342.9 779.4,1342.9 782.0,1345.4 784.6,1345.4 787.2,1345.4 789.8,1348.0 792.4,1348.0 795.0,1348.0 797.6,1348.0 800.2,1350.5 802.8,1350.5 805.4,1350.5 808.0,1353.0 810.6,1355.6 813.2,1355.6 815.8,1358.1 818.4,1360.6 821.0,1363.2 823.6,1363.2 826.2,1365.7 828.8,1365.7 831.4,1365.7 834.0,1365.7 836.6,1365.7 839.2,1365.7 841.8,1368.3 844.4,1368.3 847.0,1368.3 849.6,1368.3 852.2,1370.8 854.8,1370.8 857.4,1370.8 860.0,1370.8 862.6,1370.8 865.2,1370.8 867.8,1370.8 870.4,1370.8 873.0,1370.8 875.6,1370.8 878.2,1373.3 880.8,1375.9 883.4,1375.9 886.0,1378.4 888.6,1378.4 891.2,1378.4 893.8,1380.9 896.4,1380.9 899.0,1383.5 901.6,1380.9 904.2,1380.9 906.8,1378.4 909.4,1378.4 912.0,1378.4 914.6,1378.4 917.2,1378.4 919.8,1378.4 922.4,1378.4 925.0,1378.4 927.6,1380.9 930.2,1383.5 932.8,1383.5 935.4,1383.5 938.0,1383.5 940.6,1383.5 943.2,1383.5 945.8,1386.0 948.4,1386.0 951.0,1386.0 953.6,1386.0 956.2,1386.0 958.8,1386.0 961.4,1388.6 964.0,1388.6 966.6,1388.6 969.2,1391.1 971.8,1391.1 974.4,1391.1 977.0,1388.6 979.6,1388.6 982.2,1388.6 984.8,1388.6 987.4,1388.6 990.0,1388.6 992.6,1388.6 995.2,1388.6 997.8,1388.6 1000.4,1391.1 1003.0,1391.1 1005.6,1391.1 1008.2,1391.1 1010.8,1391.1 1013.4,1393.6 1016.0,1391.1 1018.6,1393.6 1021.2,1393.6 1023.8,1393.6 1026.4,1393.6 1029.0,1393.6 1031.6,1396.2 1034.2,1393.6 1036.8,1393.6 1039.4,1396.2 1042.0,1396.2 1044.6,1396.2 1047.2,1396.2 1049.8,1393.6 1052.4,1393.6 1055.0,1393.6 1057.6,1393.6 1060.2,1396.2 1062.8,1396.2 1065.4,1396.2 1068.0,1396.2 1070.6,1396.2 1073.2,1396.2 1075.8,1396.2 1078.4,1396.2 1081.0,1396.2 1083.6,1398.7 1086.2,1398.7 1088.8,1398.7 1091.4,1401.2 1094.0,1401.2 1096.6,1398.7 1099.2,1398.7 1101.8,1401.2 1104.4,1401.2 1107.0,1401.2 1109.6,1398.7 1112.2,1398.7 1114.8,1398.7 1117.4,1398.7 1120.0,1401.2 1122.6,1401.2 1125.2,1401.2 1127.8,1401.2 1130.4,1401.2 1133.0,1403.8 1135.6,1403.8 1138.2,1403.8 1140.8,1403.8 1143.4,1403.8 1146.0,1403.8 1148.6,1403.8 1151.2,1403.8 1153.8,1403.8 1156.4,1403.8 1159.0,1403.8 1161.6,1406.3 1164.2,1406.3 1166.8,1406.3 1169.4,1406.3 1172.0,1408.8 1174.6,1408.8 1177.2,1408.8 1179.8,1408.8 1182.4,1408.8 1185.0,1411.4 1187.6,1408.8 1190.2,1408.8 1192.8,1408.8 1195.4,1408.8 1198.0,1408.8 1200.6,1406.3 1203.2,1406.3 1205.8,1406.3 1208.4,1406.3 1211.0,1406.3' fill='none' stroke='#4472C4' stroke-width='3.0' stroke-linejoin='round' stroke-linecap='round'/>
</g>
<g clip-path='url(#cpd)'>
<path d='M164.5,1879.5 C179.8,1879.0 225.1,1877.1 256.0,1876.8 C286.9,1876.5 319.3,1877.2 350.0,1877.5 C380.7,1877.8 423.7,1878.5 440.0,1878.5 C456.3,1878.5 442.3,1878.3 447.7,1877.8 C453.1,1877.3 462.8,1876.1 472.2,1875.3 C481.6,1874.5 494.1,1873.6 504.4,1872.7 C514.7,1871.8 524.4,1870.5 534.0,1870.1 C543.6,1869.7 553.7,1870.5 562.3,1870.1 C570.9,1869.7 579.2,1867.7 585.5,1867.5 C591.8,1867.3 594.2,1868.0 600.0,1868.8 C605.8,1869.6 613.4,1871.7 620.0,1872.5 C626.6,1873.3 628.0,1873.7 639.5,1873.6 C651.0,1873.5 666.6,1871.9 689.0,1871.9 C711.4,1871.9 753.9,1872.8 774.0,1873.6 C794.1,1874.4 798.4,1875.4 809.4,1876.5 C820.4,1877.6 828.2,1879.2 840.0,1880.0 C851.8,1880.8 865.7,1880.7 880.0,1881.0 C894.3,1881.3 913.9,1881.5 925.6,1882.1 C937.3,1882.7 941.4,1883.8 950.1,1884.6 C958.8,1885.4 960.3,1886.6 977.6,1887.0 C994.9,1887.4 1026.0,1886.6 1054.0,1887.0 C1082.0,1887.4 1119.0,1888.6 1145.7,1889.2 C1172.4,1889.8 1202.7,1890.5 1214.1,1890.7' fill='none' stroke='#000' stroke-width='2.8' stroke-linejoin='round' stroke-linecap='round' filter='url(#sod)'/><path d='M164.5,1878.0 C179.8,1877.3 225.1,1874.8 256.0,1874.0 C286.9,1873.2 319.3,1873.5 350.0,1873.2 C380.7,1872.9 423.7,1872.4 440.0,1872.3 C456.3,1872.2 445.6,1873.5 447.7,1872.7 C449.8,1871.9 451.2,1870.3 452.9,1867.5 C454.6,1864.7 456.3,1860.5 458.0,1856.0 C459.7,1851.5 461.5,1845.9 463.2,1840.5 C464.9,1835.1 466.8,1829.4 468.3,1823.8 C469.8,1818.2 470.9,1812.4 472.2,1807.0 C473.5,1801.6 474.5,1796.8 476.0,1791.6 C477.5,1786.4 479.3,1781.0 481.2,1776.1 C483.1,1771.2 485.2,1766.7 487.6,1762.0 C490.0,1757.3 492.5,1752.3 495.3,1747.8 C498.1,1743.3 501.4,1738.4 504.4,1735.0 C507.4,1731.6 510.4,1730.4 513.4,1727.2 C516.4,1724.0 519.2,1719.7 522.4,1715.6 C525.6,1711.5 528.9,1707.1 532.7,1702.8 C536.6,1698.5 541.2,1693.8 545.5,1689.9 C549.8,1686.0 554.5,1682.4 558.4,1679.6 C562.3,1676.8 565.3,1675.2 568.7,1673.2 C572.1,1671.2 576.0,1668.7 579.0,1667.4 C582.0,1666.1 584.3,1665.1 586.7,1665.4 C589.1,1665.7 591.0,1668.4 593.2,1669.3 C595.4,1670.2 597.5,1670.0 600.0,1670.6 C602.5,1671.2 604.4,1671.9 608.0,1673.0 C611.6,1674.1 617.7,1675.3 621.8,1677.2 C625.9,1679.1 628.9,1682.0 632.4,1684.2 C635.9,1686.4 639.5,1689.2 643.0,1690.3 C646.5,1691.4 649.5,1691.3 653.6,1690.6 C657.7,1689.9 663.7,1687.4 667.8,1686.0 C671.9,1684.6 674.5,1683.2 678.0,1682.0 C681.5,1680.8 684.8,1679.2 689.0,1678.9 C693.2,1678.6 697.9,1678.7 703.2,1680.0 C708.5,1681.3 715.0,1685.2 720.9,1686.7 C726.8,1688.2 733.0,1688.5 738.6,1688.8 C744.2,1689.1 750.4,1689.7 754.5,1688.8 C758.6,1687.9 760.1,1684.1 763.4,1683.2 C766.6,1682.3 768.7,1682.1 774.0,1683.2 C779.3,1684.3 789.2,1687.6 795.2,1689.6 C801.2,1691.6 804.7,1693.1 810.0,1695.0 C815.3,1696.9 822.1,1699.4 827.1,1700.9 C832.1,1702.4 832.8,1702.6 840.0,1704.2 C847.2,1705.8 860.6,1708.3 870.6,1710.3 C880.6,1712.3 891.4,1714.6 900.0,1716.0 C908.6,1717.4 913.6,1718.1 922.5,1718.9 C931.4,1719.7 936.3,1719.9 953.1,1721.0 C969.9,1722.1 1001.5,1724.3 1023.4,1725.6 C1045.3,1726.9 1064.2,1727.4 1084.6,1728.7 C1105.0,1730.0 1124.1,1731.9 1145.7,1733.2 C1167.3,1734.5 1202.7,1735.8 1214.1,1736.3' fill='none' stroke='#000' stroke-width='2.8' stroke-linejoin='round' stroke-linecap='round' filter='url(#sod)'/><path d='M164.5,1879.5 C179.8,1879.5 223.1,1879.2 256.0,1879.5 C288.9,1879.8 331.3,1881.1 362.0,1881.6 C392.7,1882.1 426.1,1882.3 440.0,1882.3 C453.9,1882.3 443.6,1882.9 445.1,1881.7 C446.6,1880.5 447.3,1877.9 449.0,1875.3 C450.7,1872.7 453.0,1869.4 455.4,1866.2 C457.8,1863.0 460.2,1859.3 463.2,1856.0 C466.2,1852.7 469.9,1849.5 473.5,1846.3 C477.1,1843.1 479.9,1839.3 485.0,1836.6 C490.1,1833.9 499.0,1832.0 504.4,1830.2 C509.8,1828.4 512.3,1827.3 517.2,1825.7 C522.1,1824.1 527.6,1822.0 534.0,1820.5 C540.4,1819.0 548.5,1817.7 555.8,1816.7 C563.1,1815.8 571.9,1814.8 577.7,1814.8 C583.5,1814.8 586.9,1816.1 590.6,1816.7 C594.3,1817.3 596.8,1818.0 600.0,1818.6 C603.2,1819.1 606.4,1819.2 610.0,1820.0 C613.6,1820.8 618.1,1821.7 621.8,1823.4 C625.5,1825.1 629.4,1828.7 632.4,1830.1 C635.4,1831.5 637.0,1831.5 640.0,1832.0 C643.0,1832.5 640.8,1832.8 650.1,1832.9 C659.5,1833.1 685.8,1832.2 696.1,1832.9 C706.4,1833.6 706.1,1835.5 712.0,1837.0 C717.9,1838.5 723.5,1840.4 731.5,1841.8 C739.5,1843.2 751.5,1844.2 759.8,1845.3 C768.1,1846.3 775.2,1847.0 781.1,1848.1 C787.0,1849.2 790.3,1850.6 795.0,1852.0 C799.7,1853.4 804.4,1855.4 809.4,1856.6 C814.4,1857.8 819.9,1858.3 825.0,1859.0 C830.1,1859.7 831.4,1859.5 840.0,1860.7 C848.6,1861.9 861.4,1864.5 876.7,1866.2 C892.0,1867.9 912.3,1869.7 931.7,1870.8 C951.1,1871.9 972.5,1872.2 992.9,1873.0 C1013.3,1873.8 1033.6,1874.5 1054.0,1875.4 C1074.4,1876.3 1097.3,1877.5 1115.1,1878.5 C1132.9,1879.5 1144.5,1880.9 1161.0,1881.5 C1177.5,1882.1 1205.2,1882.0 1214.1,1882.1' fill='none' stroke='#000' stroke-width='2.8' stroke-linejoin='round' stroke-linecap='round' filter='url(#sod)'/>
<path d='M164.5,1879.5 C179.8,1879.0 225.1,1877.1 256.0,1876.8 C286.9,1876.5 319.3,1877.2 350.0,1877.5 C380.7,1877.8 423.7,1878.5 440.0,1878.5 C456.3,1878.5 442.3,1878.3 447.7,1877.8 C453.1,1877.3 462.8,1876.1 472.2,1875.3 C481.6,1874.5 494.1,1873.6 504.4,1872.7 C514.7,1871.8 524.4,1870.5 534.0,1870.1 C543.6,1869.7 553.7,1870.5 562.3,1870.1 C570.9,1869.7 579.2,1867.7 585.5,1867.5 C591.8,1867.3 594.2,1868.0 600.0,1868.8 C605.8,1869.6 613.4,1871.7 620.0,1872.5 C626.6,1873.3 628.0,1873.7 639.5,1873.6 C651.0,1873.5 666.6,1871.9 689.0,1871.9 C711.4,1871.9 753.9,1872.8 774.0,1873.6 C794.1,1874.4 798.4,1875.4 809.4,1876.5 C820.4,1877.6 828.2,1879.2 840.0,1880.0 C851.8,1880.8 865.7,1880.7 880.0,1881.0 C894.3,1881.3 913.9,1881.5 925.6,1882.1 C937.3,1882.7 941.4,1883.8 950.1,1884.6 C958.8,1885.4 960.3,1886.6 977.6,1887.0 C994.9,1887.4 1026.0,1886.6 1054.0,1887.0 C1082.0,1887.4 1119.0,1888.6 1145.7,1889.2 C1172.4,1889.8 1202.7,1890.5 1214.1,1890.7' fill='none' stroke='#4472C4' stroke-width='2.8' stroke-linejoin='round' stroke-linecap='round'/>
<path d='M164.5,1878.0 C179.8,1877.3 225.1,1874.8 256.0,1874.0 C286.9,1873.2 319.3,1873.5 350.0,1873.2 C380.7,1872.9 423.7,1872.4 440.0,1872.3 C456.3,1872.2 445.6,1873.5 447.7,1872.7 C449.8,1871.9 451.2,1870.3 452.9,1867.5 C454.6,1864.7 456.3,1860.5 458.0,1856.0 C459.7,1851.5 461.5,1845.9 463.2,1840.5 C464.9,1835.1 466.8,1829.4 468.3,1823.8 C469.8,1818.2 470.9,1812.4 472.2,1807.0 C473.5,1801.6 474.5,1796.8 476.0,1791.6 C477.5,1786.4 479.3,1781.0 481.2,1776.1 C483.1,1771.2 485.2,1766.7 487.6,1762.0 C490.0,1757.3 492.5,1752.3 495.3,1747.8 C498.1,1743.3 501.4,1738.4 504.4,1735.0 C507.4,1731.6 510.4,1730.4 513.4,1727.2 C516.4,1724.0 519.2,1719.7 522.4,1715.6 C525.6,1711.5 528.9,1707.1 532.7,1702.8 C536.6,1698.5 541.2,1693.8 545.5,1689.9 C549.8,1686.0 554.5,1682.4 558.4,1679.6 C562.3,1676.8 565.3,1675.2 568.7,1673.2 C572.1,1671.2 576.0,1668.7 579.0,1667.4 C582.0,1666.1 584.3,1665.1 586.7,1665.4 C589.1,1665.7 591.0,1668.4 593.2,1669.3 C595.4,1670.2 597.5,1670.0 600.0,1670.6 C602.5,1671.2 604.4,1671.9 608.0,1673.0 C611.6,1674.1 617.7,1675.3 621.8,1677.2 C625.9,1679.1 628.9,1682.0 632.4,1684.2 C635.9,1686.4 639.5,1689.2 643.0,1690.3 C646.5,1691.4 649.5,1691.3 653.6,1690.6 C657.7,1689.9 663.7,1687.4 667.8,1686.0 C671.9,1684.6 674.5,1683.2 678.0,1682.0 C681.5,1680.8 684.8,1679.2 689.0,1678.9 C693.2,1678.6 697.9,1678.7 703.2,1680.0 C708.5,1681.3 715.0,1685.2 720.9,1686.7 C726.8,1688.2 733.0,1688.5 738.6,1688.8 C744.2,1689.1 750.4,1689.7 754.5,1688.8 C758.6,1687.9 760.1,1684.1 763.4,1683.2 C766.6,1682.3 768.7,1682.1 774.0,1683.2 C779.3,1684.3 789.2,1687.6 795.2,1689.6 C801.2,1691.6 804.7,1693.1 810.0,1695.0 C815.3,1696.9 822.1,1699.4 827.1,1700.9 C832.1,1702.4 832.8,1702.6 840.0,1704.2 C847.2,1705.8 860.6,1708.3 870.6,1710.3 C880.6,1712.3 891.4,1714.6 900.0,1716.0 C908.6,1717.4 913.6,1718.1 922.5,1718.9 C931.4,1719.7 936.3,1719.9 953.1,1721.0 C969.9,1722.1 1001.5,1724.3 1023.4,1725.6 C1045.3,1726.9 1064.2,1727.4 1084.6,1728.7 C1105.0,1730.0 1124.1,1731.9 1145.7,1733.2 C1167.3,1734.5 1202.7,1735.8 1214.1,1736.3' fill='none' stroke='#A5A5A5' stroke-width='2.8' stroke-linejoin='round' stroke-linecap='round'/>
<path d='M164.5,1879.5 C179.8,1879.5 223.1,1879.2 256.0,1879.5 C288.9,1879.8 331.3,1881.1 362.0,1881.6 C392.7,1882.1 426.1,1882.3 440.0,1882.3 C453.9,1882.3 443.6,1882.9 445.1,1881.7 C446.6,1880.5 447.3,1877.9 449.0,1875.3 C450.7,1872.7 453.0,1869.4 455.4,1866.2 C457.8,1863.0 460.2,1859.3 463.2,1856.0 C466.2,1852.7 469.9,1849.5 473.5,1846.3 C477.1,1843.1 479.9,1839.3 485.0,1836.6 C490.1,1833.9 499.0,1832.0 504.4,1830.2 C509.8,1828.4 512.3,1827.3 517.2,1825.7 C522.1,1824.1 527.6,1822.0 534.0,1820.5 C540.4,1819.0 548.5,1817.7 555.8,1816.7 C563.1,1815.8 571.9,1814.8 577.7,1814.8 C583.5,1814.8 586.9,1816.1 590.6,1816.7 C594.3,1817.3 596.8,1818.0 600.0,1818.6 C603.2,1819.1 606.4,1819.2 610.0,1820.0 C613.6,1820.8 618.1,1821.7 621.8,1823.4 C625.5,1825.1 629.4,1828.7 632.4,1830.1 C635.4,1831.5 637.0,1831.5 640.0,1832.0 C643.0,1832.5 640.8,1832.8 650.1,1832.9 C659.5,1833.1 685.8,1832.2 696.1,1832.9 C706.4,1833.6 706.1,1835.5 712.0,1837.0 C717.9,1838.5 723.5,1840.4 731.5,1841.8 C739.5,1843.2 751.5,1844.2 759.8,1845.3 C768.1,1846.3 775.2,1847.0 781.1,1848.1 C787.0,1849.2 790.3,1850.6 795.0,1852.0 C799.7,1853.4 804.4,1855.4 809.4,1856.6 C814.4,1857.8 819.9,1858.3 825.0,1859.0 C830.1,1859.7 831.4,1859.5 840.0,1860.7 C848.6,1861.9 861.4,1864.5 876.7,1866.2 C892.0,1867.9 912.3,1869.7 931.7,1870.8 C951.1,1871.9 972.5,1872.2 992.9,1873.0 C1013.3,1873.8 1033.6,1874.5 1054.0,1875.4 C1074.4,1876.3 1097.3,1877.5 1115.1,1878.5 C1132.9,1879.5 1144.5,1880.9 1161.0,1881.5 C1177.5,1882.1 1205.2,1882.0 1214.1,1882.1' fill='none' stroke='#ED7D31' stroke-width='2.8' stroke-linejoin='round' stroke-linecap='round'/>
</g>
<g stroke='#7030A0' stroke-width='2.2' stroke-dasharray='5.5 7' stroke-linecap='round'>
<line x1='520.0' y1='164' x2='520.0' y2='951'/>
<line x1='684.0' y1='169' x2='684.0' y2='956'/>
<line x1='474.8' y1='1259' x2='474.8' y2='1936'/>
<line x1='772.0' y1='1324' x2='772.0' y2='1936'/>
</g>
<line x1='449.6' y1='101.9' x2='495.6' y2='64.5' stroke='#7030A0' stroke-width='2.2'/><polygon points='501.5,73.2 488.2,56.9 511.9,51.2' fill='#7030A0'/>
<line x1='684.0' y1='101.6' x2='684.0' y2='142.2' stroke='#7030A0' stroke-width='2.2'/><polygon points='673.0,141.2 695.0,141.2 684.0,162.0' fill='#7030A0'/>
<line x1='191.7' y1='879.5' x2='191.7' y2='839.7' stroke='#7030A0' stroke-width='2.2'/><polygon points='180.6,840.7 202.79999999999998,840.7 191.7,819.7' fill='#7030A0'/>
<line x1='471.3' y1='1194.1' x2='471.3' y2='1238.4' stroke='#7030A0' stroke-width='2.2'/><polygon points='460.3,1237.4 482.3,1237.4 471.3,1258.2' fill='#7030A0'/>
<line x1='771.9' y1='1264.3' x2='771.9' y2='1303.7' stroke='#7030A0' stroke-width='2.2'/><polygon points='760.9,1302.7 782.9,1302.7 771.9,1323.5' fill='#7030A0'/>
<line x1='182.9' y1='1883.3' x2='182.9' y2='1843.9' stroke='#7030A0' stroke-width='2.2'/><polygon points='171.8,1844.9 194.0,1844.9 182.9,1823.9' fill='#7030A0'/>
<line x1='641.5' y1='1388.8' x2='656.1' y2='1388.8' stroke='#000' stroke-width='2.2'/><polygon points='655.1,1399.2 655.1,1378.4 676.1,1388.8' fill='#000'/>
<line x1='641.5' y1='1388.8' x2='664.9' y2='1423.2' stroke='#000' stroke-width='2.2'/><polygon points='655.7,1428.3 672.9,1416.6 676.1,1439.8' fill='#000'/>
<g style="font-family:'Liberation Sans'" fill='#000' stroke='#fff' stroke-width='0.45' opacity='0.999'>
<text x='110.40' y='451.10' style='font-size:36.17px'>0</text>
<text x='110.40' y='397.92' style='font-size:36.17px'>2</text>
<text x='109.37' y='344.75' style='font-size:36.17px'>4</text>
<text x='110.40' y='291.57' style='font-size:36.17px'>6</text>
<text x='110.40' y='238.40' style='font-size:36.17px'>8</text>
<text x='89.73' y='185.22' style='font-size:36.17px'>10</text>
<text x='90.77' y='132.05' style='font-size:36.17px'>12</text>
<text x='89.73' y='78.88' style='font-size:36.17px'>14</text>
<text x='89.73' y='25.70' style='font-size:36.17px'>16</text>
<text x='152.98' y='496.90' style='font-size:36.17px'>0</text>
<text x='403.21' y='496.90' style='font-size:36.17px'>50</text>
<text x='653.95' y='496.90' style='font-size:36.17px'>100</text>
<text x='915.02' y='496.90' style='font-size:36.17px'>150</text>
<text x='1176.62' y='496.90' style='font-size:36.17px'>200</text>
<text x='80.57' y='964.50' style='font-size:36.17px'>-20</text>
<text x='112.60' y='893.62' style='font-size:36.17px'>0</text>
<text x='91.93' y='822.73' style='font-size:36.17px'>20</text>
<text x='91.93' y='751.85' style='font-size:36.17px'>40</text>
<text x='91.93' y='680.97' style='font-size:36.17px'>60</text>
<text x='91.93' y='610.08' style='font-size:36.17px'>80</text>
<text x='72.30' y='539.20' style='font-size:36.17px'>100</text>
<text x='154.78' y='1010.60' style='font-size:36.17px'>0</text>
<text x='404.56' y='1010.60' style='font-size:36.17px'>50</text>
<text x='654.85' y='1010.60' style='font-size:36.17px'>100</text>
<text x='915.48' y='1010.60' style='font-size:36.17px'>150</text>
<text x='1176.62' y='1010.60' style='font-size:36.17px'>200</text>
<text x='114.10' y='1479.60' style='font-size:36.17px'>0</text>
<text x='114.10' y='1428.86' style='font-size:36.17px'>2</text>
<text x='113.07' y='1378.12' style='font-size:36.17px'>4</text>
<text x='114.10' y='1327.39' style='font-size:36.17px'>6</text>
<text x='114.10' y='1276.65' style='font-size:36.17px'>8</text>
<text x='93.43' y='1225.91' style='font-size:36.17px'>10</text>
<text x='94.47' y='1175.18' style='font-size:36.17px'>12</text>
<text x='93.43' y='1124.44' style='font-size:36.17px'>14</text>
<text x='93.43' y='1073.70' style='font-size:36.17px'>16</text>
<text x='156.28' y='1527.40' style='font-size:36.17px'>0</text>
<text x='406.98' y='1527.40' style='font-size:36.17px'>50</text>
<text x='658.20' y='1527.40' style='font-size:36.17px'>100</text>
<text x='919.75' y='1527.40' style='font-size:36.17px'>150</text>
<text x='1181.82' y='1527.40' style='font-size:36.17px'>200</text>
<text x='79.37' y='1956.20' style='font-size:36.17px'>-20</text>
<text x='111.40' y='1890.92' style='font-size:36.17px'>0</text>
<text x='90.73' y='1825.63' style='font-size:36.17px'>20</text>
<text x='90.73' y='1760.35' style='font-size:36.17px'>40</text>
<text x='90.73' y='1695.07' style='font-size:36.17px'>60</text>
<text x='90.73' y='1629.78' style='font-size:36.17px'>80</text>
<text x='71.10' y='1564.50' style='font-size:36.17px'>100</text>
<text x='154.68' y='2002.10' style='font-size:36.17px'>0</text>
<text x='406.23' y='2002.10' style='font-size:36.17px'>50</text>
<text x='658.30' y='2002.10' style='font-size:36.17px'>100</text>
<text x='920.70' y='2002.10' style='font-size:36.17px'>150</text>
<text x='1183.62' y='2002.10' style='font-size:36.17px'>200</text>
</g>
<g opacity='0.999' stroke='#fff' stroke-width='0.5'>
<text x='167.74' y='49.90' textLength='49.11' lengthAdjust='spacingAndGlyphs' style="font-family:'Liberation Sans';font-size:34px;fill:#000;">(a)</text>
<text x='607.88' y='49.90' textLength='580.11' lengthAdjust='spacingAndGlyphs' style="font-family:'Liberation Sans';font-size:33px;fill:#000;stroke:#fff;stroke-width:0.55px">400 °C, normal-faulting stress state</text>
<text x='201.59' y='119.30' textLength='242.01' lengthAdjust='spacingAndGlyphs' style="font-family:'Liberation Sans';font-size:46px;fill:#7030A0;">Breakdown</text>
<text x='694.87' y='129.50' textLength='374.97' lengthAdjust='spacingAndGlyphs' style="font-family:'Liberation Sans';font-size:48px;fill:#7030A0;">Injection stopped</text>
<text x='973.94' y='236.00' textLength='191.04' lengthAdjust='spacingAndGlyphs' style="font-family:'Liberation Sans';font-size:47px;fill:#4472C4;">Borehole</text>
<text x='956.70' y='417.10' textLength='211.04' lengthAdjust='spacingAndGlyphs' style="font-family:'Liberation Sans';font-size:47px;fill:#000;">All outlets</text>
<text x='177.57' y='568.30' textLength='580.71' lengthAdjust='spacingAndGlyphs' style="font-family:'Liberation Sans';font-size:33px;fill:#000;stroke:#fff;stroke-width:0.55px">400 °C, normal-faulting stress state</text>
<text x='176.82' y='807.80' textLength='163.32' lengthAdjust='spacingAndGlyphs' style="font-family:'Liberation Sans';font-size:48px;fill:#7030A0;">Dilation</text>
<text x='171.37' y='938.00' textLength='48.34' lengthAdjust='spacingAndGlyphs' style="font-family:'Liberation Sans';font-size:34px;fill:#000;">(b)</text>
<text x='893.33' y='649.50' textLength='184.13' lengthAdjust='spacingAndGlyphs' style="font-family:'Liberation Sans';font-size:47px;fill:#000;">direction</text>
<text x='893.30' y='822.70' textLength='186.18' lengthAdjust='spacingAndGlyphs' style="font-family:'Liberation Sans';font-size:47px;fill:#ED7D31;">direction</text>
<text x='903.23' y='893.70' textLength='184.13' lengthAdjust='spacingAndGlyphs' style="font-family:'Liberation Sans';font-size:47px;fill:#4472C4;">direction</text>
<text x='172.19' y='1098.30' textLength='47.81' lengthAdjust='spacingAndGlyphs' style="font-family:'Liberation Sans';font-size:34px;fill:#000;">(c)</text>
<text x='714.58' y='1096.00' textLength='487.88' lengthAdjust='spacingAndGlyphs' style="font-family:'Liberation Sans';font-size:33px;fill:#000;stroke:#fff;stroke-width:0.55px">400 °C, strike-slip stress state</text>
<text x='456.18' y='1187.10' textLength='243.04' lengthAdjust='spacingAndGlyphs' style="font-family:'Liberation Sans';font-size:46px;fill:#7030A0;">Breakdown</text>
<text x='756.28' y='1251.10' textLength='374.25' lengthAdjust='spacingAndGlyphs' style="font-family:'Liberation Sans';font-size:48px;fill:#7030A0;">Injection stopped</text>
<text x='250.73' y='1375.50' textLength='191.35' lengthAdjust='spacingAndGlyphs' style="font-family:'Liberation Sans';font-size:47px;fill:#4472C4;">Borehole</text>
<text x='506.14' y='1363.30' textLength='102.69' lengthAdjust='spacingAndGlyphs' style="font-family:'Liberation Sans';font-size:30.5px;fill:#000;">Outlets</text>
<text x='514.71' y='1396.80' textLength='123.00' lengthAdjust='spacingAndGlyphs' style="font-family:'Liberation Sans';font-size:33px;fill:#000;">direction</text>
<text x='794.27' y='1453.00' textLength='164.88' lengthAdjust='spacingAndGlyphs' style="font-family:'Liberation Sans';font-size:28px;fill:#000;">Other outlets</text>
<text x='171.38' y='1592.30' textLength='489.49' lengthAdjust='spacingAndGlyphs' style="font-family:'Liberation Sans';font-size:33px;fill:#000;stroke:#fff;stroke-width:0.55px">400 °C, strike-slip stress state</text>
<text x='168.22' y='1811.00' textLength='164.35' lengthAdjust='spacingAndGlyphs' style="font-family:'Liberation Sans';font-size:45px;fill:#7030A0;">Dilation</text>
<text x='171.46' y='1929.40' textLength='50.75' lengthAdjust='spacingAndGlyphs' style="font-family:'Liberation Sans';font-size:34px;fill:#000;">(d)</text>
<text x='998.41' y='1704.20' textLength='185.26' lengthAdjust='spacingAndGlyphs' style="font-family:'Liberation Sans';font-size:47px;fill:#000;">direction</text>
<text x='697.81' y='1811.30' textLength='185.87' lengthAdjust='spacingAndGlyphs' style="font-family:'Liberation Sans';font-size:47px;fill:#ED7D31;">direction</text>
<text x='550.80' y='1926.30' textLength='186.18' lengthAdjust='spacingAndGlyphs' style="font-family:'Liberation Sans';font-size:47px;fill:#4472C4;">direction</text>
<text x='597.31' y='2055.80' textLength='181.89' lengthAdjust='spacingAndGlyphs' style="font-family:'Liberation Sans';font-size:46px;fill:#000;">Time (s)</text>
<text x='0' y='0' transform='translate(52.10,406.97) rotate(-90)' textLength='184.93' lengthAdjust='spacingAndGlyphs' style="font-family:'Liberation Sans';font-size:49px;fill:#000;">Pressure</text>
<text x='0' y='0' transform='translate(55.60,1439.27) rotate(-90)' textLength='184.93' lengthAdjust='spacingAndGlyphs' style="font-family:'Liberation Sans';font-size:49px;fill:#000;">Pressure</text>
<text x='0' y='0' transform='translate(52.10,207.53) rotate(-90)' textLength='15.95' lengthAdjust='spacingAndGlyphs' style="font-family:'Liberation Sans';font-size:49px;fill:#000;">(</text>
<text x='0' y='0' transform='translate(55.60,1239.83) rotate(-90)' textLength='15.95' lengthAdjust='spacingAndGlyphs' style="font-family:'Liberation Sans';font-size:49px;fill:#000;">(</text>
<text x='0' y='0' transform='translate(52.10,188.82) rotate(-90)' textLength='35.88' lengthAdjust='spacingAndGlyphs' style="font-family:'Liberation Sans';font-size:49px;fill:#000;">M</text>
<text x='0' y='0' transform='translate(55.60,1221.12) rotate(-90)' textLength='35.88' lengthAdjust='spacingAndGlyphs' style="font-family:'Liberation Sans';font-size:49px;fill:#000;">M</text>
<text x='0' y='0' transform='translate(52.10,151.65) rotate(-90)' textLength='25.77' lengthAdjust='spacingAndGlyphs' style="font-family:'Liberation Sans';font-size:49px;fill:#000;">P</text>
<text x='0' y='0' transform='translate(55.60,1183.95) rotate(-90)' textLength='25.77' lengthAdjust='spacingAndGlyphs' style="font-family:'Liberation Sans';font-size:49px;fill:#000;">P</text>
<text x='0' y='0' transform='translate(52.10,127.37) rotate(-90)' textLength='22.79' lengthAdjust='spacingAndGlyphs' style="font-family:'Liberation Sans';font-size:49px;fill:#000;">a</text>
<text x='0' y='0' transform='translate(55.60,1159.67) rotate(-90)' textLength='22.79' lengthAdjust='spacingAndGlyphs' style="font-family:'Liberation Sans';font-size:49px;fill:#000;">a</text>
<text x='0' y='0' transform='translate(52.10,98.83) rotate(-90)' textLength='16.87' lengthAdjust='spacingAndGlyphs' style="font-family:'Liberation Sans';font-size:49px;fill:#000;">)</text>
<text x='0' y='0' transform='translate(55.60,1131.13) rotate(-90)' textLength='16.87' lengthAdjust='spacingAndGlyphs' style="font-family:'Liberation Sans';font-size:49px;fill:#000;">)</text>
<text x='0' y='0' transform='translate(36.20,936.30) rotate(-90)' textLength='288.52' lengthAdjust='spacingAndGlyphs' style="font-family:'Liberation Sans';font-size:46.5px;fill:#000;">Displacement</text>
<text x='0' y='0' transform='translate(36.60,1947.80) rotate(-90)' textLength='288.52' lengthAdjust='spacingAndGlyphs' style="font-family:'Liberation Sans';font-size:46.5px;fill:#000;">Displacement</text>
<text x='0' y='0' transform='translate(36.20,635.20) rotate(-90)' textLength='16.02' lengthAdjust='spacingAndGlyphs' style="font-family:'Liberation Sans';font-size:46.5px;fill:#000;">(</text>
<text x='0' y='0' transform='translate(36.60,1646.70) rotate(-90)' textLength='16.02' lengthAdjust='spacingAndGlyphs' style="font-family:'Liberation Sans';font-size:46.5px;fill:#000;">(</text>
<text x='0' y='0' transform='translate(36.20,619.35) rotate(-90)' textLength='26.33' lengthAdjust='spacingAndGlyphs' style="font-family:'Liberation Sans';font-size:46.5px;fill:#000;">µ</text>
<text x='0' y='0' transform='translate(36.60,1630.85) rotate(-90)' textLength='26.33' lengthAdjust='spacingAndGlyphs' style="font-family:'Liberation Sans';font-size:46.5px;fill:#000;">µ</text>
<text x='0' y='0' transform='translate(36.20,592.88) rotate(-90)' textLength='41.10' lengthAdjust='spacingAndGlyphs' style="font-family:'Liberation Sans';font-size:46.5px;fill:#000;">m</text>
<text x='0' y='0' transform='translate(36.60,1604.38) rotate(-90)' textLength='41.10' lengthAdjust='spacingAndGlyphs' style="font-family:'Liberation Sans';font-size:46.5px;fill:#000;">m</text>
<text x='0' y='0' transform='translate(36.20,551.63) rotate(-90)' textLength='16.02' lengthAdjust='spacingAndGlyphs' style="font-family:'Liberation Sans';font-size:46.5px;fill:#000;">)</text>
<text x='0' y='0' transform='translate(36.60,1563.13) rotate(-90)' textLength='16.02' lengthAdjust='spacingAndGlyphs' style="font-family:'Liberation Sans';font-size:46.5px;fill:#000;">)</text>
<polyline points='856.97,641.16 856.68,642.17 856.25,643.17 855.67,644.13 854.96,645.04 854.14,645.88 853.20,646.65 852.18,647.32 851.08,647.88 849.93,648.33 848.75,648.65 847.55,648.85 846.37,648.92 845.20,648.85 844.09,648.65 843.04,648.33 842.08,647.88 841.21,647.32 840.47,646.65 839.85,645.88 839.37,645.04 839.03,644.13 838.85,643.17 838.83,642.17 838.96,641.16 839.24,640.15 839.68,639.16 840.26,638.19 840.96,637.28 841.79,636.44 842.73,635.68 843.75,635.01 844.85,634.45 846.00,634.00 847.18,633.67 848.37,633.47 849.56,633.41 850.72,633.47 851.84,633.67 852.89,634.00 853.85,634.45 854.71,635.01 855.46,635.68 856.08,636.44 856.56,637.28 856.90,638.19 857.08,639.16 857.10,640.15 856.97,641.16' fill='none' stroke='#000' stroke-width='2.76' stroke-linejoin='round'/>
<polygon points='843.39,633.10 847.83,630.30 853.92,629.01 864.17,628.80 865.00,630.09 864.45,632.02 854.47,632.45 849.76,633.53' fill='#000'/>
<text x='0' y='0' transform='translate(859.62,658.26) scale(0.3561,0.3433)' style="font-family:'Liberation Serif';font-size:100px;fill:#000">3</text>
<polyline points='863.00,814.85 862.72,815.81 862.28,816.77 861.70,817.69 860.98,818.56 860.15,819.37 859.20,820.10 858.17,820.74 857.06,821.28 855.90,821.71 854.71,822.02 853.50,822.21 852.30,822.28 851.12,822.21 850.00,822.02 848.94,821.71 847.96,821.28 847.09,820.74 846.33,820.10 845.71,819.37 845.22,818.56 844.88,817.69 844.70,816.77 844.67,815.81 844.80,814.85 845.09,813.88 845.53,812.92 846.11,812.00 846.82,811.13 847.66,810.32 848.60,809.59 849.64,808.95 850.74,808.41 851.90,807.98 853.10,807.67 854.31,807.48 855.51,807.41 856.68,807.48 857.81,807.67 858.87,807.98 859.84,808.41 860.72,808.95 861.47,809.59 862.10,810.32 862.59,811.13 862.92,812.00 863.11,812.92 863.14,813.88 863.00,814.85' fill='none' stroke='#ED7D31' stroke-width='2.65' stroke-linejoin='round'/>
<polygon points='849.32,807.12 853.76,804.44 859.88,803.21 870.17,803.00 871.00,804.24 870.44,806.09 860.44,806.50 855.71,807.53' fill='#ED7D31'/>
<text x='0' y='0' transform='translate(864.51,832.55) scale(0.3463,0.3478)' style="font-family:'Liberation Serif';font-size:100px;fill:#ED7D31">2</text>
<polyline points='871.77,885.46 871.48,886.44 871.04,887.40 870.46,888.33 869.74,889.21 868.90,890.03 867.96,890.77 866.92,891.41 865.81,891.96 864.65,892.39 863.45,892.71 862.24,892.90 861.03,892.96 859.85,892.90 858.72,892.71 857.66,892.39 856.68,891.96 855.81,891.41 855.05,890.77 854.42,890.03 853.93,889.21 853.59,888.33 853.41,887.40 853.38,886.44 853.52,885.46 853.80,884.48 854.24,883.52 854.83,882.59 855.54,881.71 856.38,880.89 857.33,880.15 858.36,879.51 859.47,878.96 860.64,878.53 861.84,878.21 863.05,878.02 864.25,877.96 865.43,878.02 866.56,878.21 867.62,878.53 868.60,878.96 869.47,879.51 870.23,880.15 870.86,880.89 871.35,881.71 871.69,882.59 871.87,883.52 871.90,884.48 871.77,885.46' fill='none' stroke='#4472C4' stroke-width='2.67' stroke-linejoin='round'/>
<polygon points='858.04,877.66 862.50,874.96 868.64,873.71 878.96,873.50 879.80,874.75 879.24,876.62 869.20,877.04 864.45,878.08' fill='#4472C4'/>
<text x='0' y='0' transform='translate(875.27,902.80) scale(0.2257,0.3212)' style="font-family:'Liberation Serif';font-size:100px;fill:#4472C4">1</text>
<polyline points='493.18,1390.96 492.98,1391.63 492.69,1392.29 492.29,1392.93 491.81,1393.53 491.25,1394.08 490.61,1394.59 489.91,1395.03 489.17,1395.40 488.38,1395.70 487.58,1395.91 486.76,1396.04 485.95,1396.09 485.16,1396.04 484.40,1395.91 483.69,1395.70 483.03,1395.40 482.44,1395.03 481.93,1394.59 481.51,1394.08 481.18,1393.53 480.95,1392.93 480.83,1392.29 480.81,1391.63 480.90,1390.96 481.09,1390.30 481.39,1389.64 481.78,1389.00 482.27,1388.40 482.83,1387.85 483.47,1387.34 484.16,1386.90 484.91,1386.53 485.69,1386.23 486.50,1386.02 487.31,1385.89 488.12,1385.84 488.91,1385.89 489.67,1386.02 490.39,1386.23 491.05,1386.53 491.63,1386.90 492.14,1387.34 492.57,1387.85 492.90,1388.40 493.12,1389.00 493.25,1389.64 493.26,1390.30 493.18,1390.96' fill='none' stroke='#000' stroke-width='1.83' stroke-linejoin='round'/>
<polygon points='483.94,1385.64 486.94,1383.79 491.08,1382.94 498.04,1382.80 498.60,1383.65 498.22,1384.93 491.46,1385.21 488.26,1385.92' fill='#000'/>
<text x='0' y='0' transform='translate(494.30,1401.89) scale(0.2000,0.2060)' style="font-family:'Liberation Serif';font-size:100px;fill:#000">3</text>
<polyline points='964.06,1695.90 963.77,1696.91 963.32,1697.90 962.73,1698.86 962.01,1699.76 961.16,1700.60 960.21,1701.36 959.17,1702.03 958.05,1702.59 956.87,1703.04 955.67,1703.36 954.44,1703.56 953.23,1703.62 952.04,1703.56 950.90,1703.36 949.83,1703.04 948.85,1702.59 947.97,1702.03 947.20,1701.36 946.57,1700.60 946.08,1699.76 945.74,1698.86 945.55,1697.90 945.52,1696.91 945.66,1695.90 945.95,1694.90 946.39,1693.91 946.98,1692.95 947.70,1692.05 948.55,1691.21 949.50,1690.45 950.55,1689.78 951.67,1689.22 952.84,1688.77 954.05,1688.45 955.27,1688.25 956.48,1688.19 957.67,1688.25 958.81,1688.45 959.88,1688.77 960.87,1689.22 961.75,1689.78 962.51,1690.45 963.15,1691.21 963.64,1692.05 963.98,1692.95 964.16,1693.91 964.19,1694.90 964.06,1695.90' fill='none' stroke='#000' stroke-width='2.75' stroke-linejoin='round'/>
<polygon points='950.20,1687.88 954.72,1685.10 960.92,1683.81 971.35,1683.60 972.20,1684.88 971.64,1686.81 961.48,1687.24 956.69,1688.31' fill='#000'/>
<text x='0' y='0' transform='translate(965.85,1713.36) scale(0.3707,0.3448)' style="font-family:'Liberation Serif';font-size:100px;fill:#000">3</text>
<polyline points='667.24,1802.50 666.93,1803.48 666.47,1804.44 665.86,1805.36 665.10,1806.24 664.21,1807.05 663.21,1807.78 662.12,1808.43 660.94,1808.97 659.71,1809.40 658.45,1809.71 657.16,1809.91 655.89,1809.97 654.64,1809.91 653.45,1809.71 652.32,1809.40 651.29,1808.97 650.36,1808.43 649.56,1807.78 648.89,1807.05 648.37,1806.24 648.01,1805.36 647.82,1804.44 647.79,1803.48 647.92,1802.50 648.23,1801.53 648.69,1800.57 649.31,1799.65 650.06,1798.77 650.95,1797.96 651.95,1797.22 653.04,1796.58 654.22,1796.04 655.45,1795.60 656.71,1795.29 658.00,1795.10 659.27,1795.04 660.52,1795.10 661.71,1795.29 662.84,1795.60 663.87,1796.04 664.80,1796.58 665.60,1797.22 666.27,1797.96 666.79,1798.77 667.15,1799.65 667.35,1800.57 667.38,1801.53 667.24,1802.50' fill='none' stroke='#ED7D31' stroke-width='2.66' stroke-linejoin='round'/>
<polygon points='652.75,1794.74 657.43,1792.05 663.88,1790.81 674.72,1790.60 675.60,1791.84 675.01,1793.70 664.47,1794.12 659.49,1795.15' fill='#ED7D31'/>
<text x='0' y='0' transform='translate(666.52,1820.12) scale(0.3707,0.2821)' style="font-family:'Liberation Serif';font-size:100px;fill:#ED7D31">2</text>
<polyline points='520.34,1917.16 520.05,1918.14 519.61,1919.10 519.03,1920.03 518.31,1920.91 517.47,1921.73 516.52,1922.47 515.48,1923.11 514.36,1923.66 513.19,1924.09 511.99,1924.41 510.77,1924.60 509.56,1924.66 508.38,1924.60 507.25,1924.41 506.18,1924.09 505.20,1923.66 504.32,1923.11 503.56,1922.47 502.93,1921.73 502.44,1920.91 502.10,1920.03 501.91,1919.10 501.88,1918.14 502.02,1917.16 502.31,1916.18 502.75,1915.22 503.33,1914.29 504.05,1913.41 504.89,1912.59 505.84,1911.85 506.88,1911.21 508.00,1910.66 509.17,1910.23 510.37,1909.91 511.59,1909.72 512.80,1909.66 513.98,1909.72 515.11,1909.91 516.18,1910.23 517.16,1910.66 518.04,1911.21 518.80,1911.85 519.43,1912.59 519.92,1913.41 520.26,1914.29 520.45,1915.22 520.48,1916.18 520.34,1917.16' fill='none' stroke='#4472C4' stroke-width='2.67' stroke-linejoin='round'/>
<polygon points='506.56,1909.36 511.04,1906.66 517.20,1905.41 527.56,1905.20 528.40,1906.45 527.84,1908.32 517.76,1908.74 513.00,1909.78' fill='#4472C4'/>
<text x='0' y='0' transform='translate(522.76,1935.10) scale(0.2486,0.3182)' style="font-family:'Liberation Serif';font-size:100px;fill:#4472C4">1</text>
</g>
</svg></body></html>
